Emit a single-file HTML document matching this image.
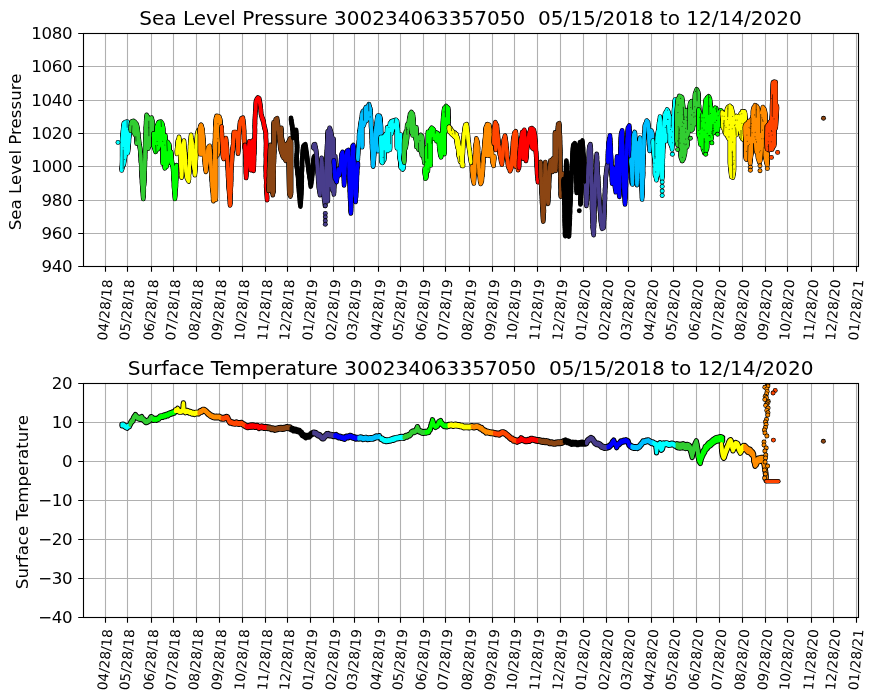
<!DOCTYPE html>
<html lang="en"><head><meta charset="utf-8"><title>Buoy 300234063357050</title>
<style>
html,body{margin:0;padding:0;background:#fff;}
body{width:875px;height:700px;overflow:hidden;}
svg{will-change:transform;}
svg text{font-family:"DejaVu Sans","Liberation Sans",sans-serif;fill:#000;}
.xt{font-size:13.6px;}
.yt{font-size:16.67px;letter-spacing:-0.3px;}
.yl{font-size:16.67px;}
.tt{font-size:20.05px;}
</style></head><body>
<svg width="875" height="700" viewBox="0 0 875 700" style="display:block">
<rect width="875" height="700" fill="#fff"/>
<defs><clipPath id="c1"><rect x="83.50" y="33.50" width="775.00" height="233.00"/></clipPath><clipPath id="c2"><rect x="83.50" y="383.50" width="775.00" height="234.00"/></clipPath></defs>
<path d="M105.5 33.5V266.5M127.5 33.5V266.5M151.5 33.5V266.5M173.5 33.5V266.5M196.5 33.5V266.5M219.5 33.5V266.5M242.5 33.5V266.5M265.5 33.5V266.5M287.5 33.5V266.5M310.5 33.5V266.5M333.5 33.5V266.5M354.5 33.5V266.5M378.5 33.5V266.5M400.5 33.5V266.5M423.5 33.5V266.5M445.5 33.5V266.5M469.5 33.5V266.5M492.5 33.5V266.5M514.5 33.5V266.5M537.5 33.5V266.5M560.5 33.5V266.5M583.5 33.5V266.5M606.5 33.5V266.5M628.5 33.5V266.5M651.5 33.5V266.5M673.5 33.5V266.5M696.5 33.5V266.5M719.5 33.5V266.5M742.5 33.5V266.5M765.5 33.5V266.5M787.5 33.5V266.5M811.5 33.5V266.5M833.5 33.5V266.5M856.5 33.5V266.5M83.5 33.5H858.5M83.5 66.5H858.5M83.5 100.5H858.5M83.5 133.5H858.5M83.5 166.5H858.5M83.5 200.5H858.5M83.5 233.5H858.5M83.5 266.5H858.5" stroke="#b0b0b0" stroke-width="1.11" fill="none"/>
<g clip-path="url(#c1)" fill="none" stroke-linejoin="round" stroke-linecap="round" shape-rendering="auto">
<defs><polyline id="p1" points="121.6,169.6 121.7,168.1 122.1,166.3 122.1,164.9 122.3,163.1 122.2,161.8 122.5,161.1 122.3,158.7 122.4,158.4 122.7,155.5 122.9,156.0 122.8,154.0 122.7,151.5 122.9,150.2 122.9,149.2 122.9,148.3 123.1,147.8 123.2,146.0 123.3,144.7 123.3,142.6 123.4,141.7 123.7,141.4 123.8,139.5 123.7,137.2 123.8,135.5 124.0,134.9 124.2,133.5 124.3,133.1 124.0,130.5 124.5,129.7 124.6,128.2 124.4,127.4 124.8,125.3 124.6,124.1 124.9,123.1 127.3,122.4 127.5,124.3 127.2,124.7 127.3,125.7 127.6,127.3 127.6,129.2 127.5,131.2 127.5,132.4 127.5,133.3 127.6,134.4 128.0,136.8 127.8,138.4 127.8,138.7 128.1,140.6 128.0,141.7 127.8,144.0 127.8,143.9 127.9,145.4 127.7,146.2 127.6,148.6 127.6,150.0 127.6,151.0 127.6,152.4 127.9,151.0 127.9,150.4 127.9,147.6 128.3,147.6 128.2,144.9 128.5,145.1 128.5,143.7 128.9,141.6 128.8,139.3 128.8,139.6 129.0,137.7 129.2,136.6 129.4,134.6 129.6,132.7 129.6,132.2 129.7,129.7 130.1,129.6 130.3,127.0 130.6,125.4 130.6,124.6"/><polyline id="p2" points="122.2,141.4 122.2,168.2 122.3,167.7 122.3,138.6 123.7,124.3 123.7,164.2 125.1,155.6 125.1,124.0 126.6,124.0 126.6,151.3 128.0,150.6 128.0,124.0 128.0,129.3 128.0,149.9"/></defs><defs><polyline id="p3" points="131.6,122.4 133.4,121.7 134.4,122.3 135.9,123.9 136.5,124.8 137.3,127.4 137.3,128.6 137.7,129.5 137.8,132.5 138.2,133.5 138.3,134.7 138.2,135.1 138.3,138.2 138.7,138.9 139.0,141.2 138.9,142.0 139.3,143.6 139.5,145.6 139.6,146.1 140.0,148.2 140.1,148.9 140.3,150.6 140.4,152.3 140.4,153.1 140.7,154.8 140.6,155.9 140.8,156.8 140.8,157.7 140.9,159.5 140.8,160.8 141.2,162.6 141.1,163.1 141.3,164.2 141.4,165.9 141.3,167.8 141.2,168.9 141.3,169.9 141.5,170.5 141.7,172.4 141.7,174.5 141.6,174.0 141.7,176.7 141.7,177.0 142.1,179.3 142.0,180.3 142.1,182.4 142.1,183.4 142.2,184.3 142.5,186.6 142.6,186.9 142.6,188.2 142.5,189.9 142.9,192.0 143.0,193.5 142.9,193.4 143.1,194.9 143.1,196.6 143.3,198.1 143.4,196.7 143.4,196.1 143.7,193.9 143.4,191.7 143.8,190.3 143.8,190.0 143.7,189.1 143.7,186.4 144.0,184.8 144.2,183.8 144.0,182.0 144.3,181.5 144.3,180.5 144.5,179.7 144.4,177.4 144.5,175.5 144.5,174.1 144.3,173.3 144.7,171.3 144.5,170.3 144.7,169.3 144.7,168.4 144.7,167.1 144.9,164.4 144.9,164.3 144.7,162.4 144.9,161.9 144.8,159.9 145.1,159.0 145.1,156.9 145.0,155.1 145.1,154.9 145.1,153.4 145.0,152.4 145.3,151.2 145.1,148.9 145.2,148.1 145.2,147.0 145.4,144.5 145.2,143.4 145.4,142.7 145.4,139.9 145.6,138.6 145.6,137.5 145.5,137.4 145.4,134.8 145.6,134.6 145.8,133.2 145.9,131.4 145.9,129.3 145.7,128.8 145.9,127.4 145.9,126.6 146.1,124.9 146.2,123.6 146.1,122.0 146.4,121.7 146.2,120.3 146.6,118.4 146.5,116.4 146.6,115.7 146.8,117.2 147.1,117.7 147.4,120.2 147.4,122.3 147.7,123.1 147.8,124.5 147.9,125.0 147.8,127.0 148.1,129.4 147.8,129.8 147.8,131.1 148.1,133.4 148.0,133.6 147.9,135.5 148.3,135.9 148.3,137.0 148.1,138.8 148.3,140.3 148.2,142.3 148.2,143.8 148.2,144.8 148.3,145.5 148.4,147.4 148.5,146.0 148.5,144.6 148.7,142.8 148.6,142.5 148.9,140.9 149.1,139.8 149.2,137.7 149.2,137.6 149.3,135.3 149.2,135.2 149.2,134.0 149.4,131.7 149.7,129.6 149.5,129.3 149.7,126.6 150.0,125.8 150.1,123.8 150.1,123.5 150.0,121.1 150.4,121.1 150.4,118.9 151.6,118.6 151.9,119.3 151.9,122.0 152.1,123.4 152.1,123.6 152.2,125.0 152.6,127.4 152.7,128.9 152.7,129.6 152.7,131.1 153.0,134.1 153.1,133.8 152.8,136.9 153.1,138.0 153.1,138.9"/><polyline id="p4" points="130.8,126.4 130.8,129.9 130.9,128.4 130.9,124.3 133.0,123.3 133.0,129.9 135.1,134.2 135.1,125.0 136.6,126.1 136.6,139.9 136.6,142.7 136.6,129.3"/><polyline id="p5" points="148.0,117.6 148.0,147.9 148.0,145.1 148.0,119.1 149.4,129.8 149.4,145.1 150.4,143.7 150.4,120.5 151.6,120.5 151.6,137.9 152.6,136.5 152.6,121.9 152.0,126.9 152.0,136.5"/></defs><defs><polyline id="p6" points="153.4,134.6 153.5,135.9 153.7,137.3 153.8,137.9 154.0,141.0 153.9,141.6 154.2,143.0 154.1,143.9 154.3,145.0 154.4,147.4 155.2,149.8 155.6,151.0 155.8,150.4 155.9,148.2 156.0,147.0 156.3,146.3 156.2,145.2 156.5,143.6 156.6,141.7 156.8,140.2 156.9,139.9 156.8,138.4 156.9,136.3 157.0,134.4 156.9,133.9 156.8,132.3 157.1,131.6 157.0,130.9 157.3,128.4 157.3,127.4 157.8,126.0 158.3,124.2 158.7,122.9 160.9,122.4 162.3,124.6 162.6,126.3 162.7,128.0 163.0,127.9 163.0,130.8 163.0,131.5 163.1,132.5 163.4,134.6 163.4,135.1 163.5,138.0 163.6,138.5 163.9,139.9 164.0,141.3 163.9,141.5 163.9,144.2 163.8,145.8 163.9,146.2 163.9,147.5 164.1,148.9 164.2,149.3 164.4,151.4 164.3,153.0 164.3,153.7 164.5,155.6 164.4,157.2 164.4,157.2 164.4,158.6 164.5,161.3 164.6,162.9 164.8,162.5 165.0,165.7 164.6,166.9 164.9,167.4 165.0,166.0 165.3,164.1 165.2,164.0 165.4,161.7 165.7,160.9 165.6,158.1 165.8,157.3 165.9,156.0 165.8,153.7 166.0,152.4 166.1,152.1 166.2,149.8 166.3,148.7 166.5,147.5 166.7,146.9 166.6,144.6 167.7,142.9 168.2,143.8 168.3,146.6 168.9,147.6 169.1,148.9 169.2,149.8 169.5,151.8 169.6,153.4 169.8,154.0 169.8,157.0 170.2,158.2 170.1,158.9 170.2,156.6 170.6,155.9 170.9,153.8 171.1,153.1 171.3,153.7 171.2,156.4 171.5,157.7 171.6,158.8 171.6,160.0 172.0,162.4 172.0,163.1 172.2,163.8 172.8,166.2 173.0,167.4 173.2,168.2 173.1,169.6 173.4,171.1 173.4,173.7 173.3,174.1 173.6,176.2 173.5,176.4 173.5,178.7 173.5,178.5 173.8,180.6 173.9,181.5 174.0,182.4 174.0,184.6 174.0,186.3 174.0,186.9 174.3,189.0 174.3,189.3 174.4,191.8 174.5,191.9 174.7,194.2 174.9,196.3 174.9,196.7 174.9,198.1 175.1,196.4 175.0,195.2 175.3,194.9 175.2,192.4 175.3,191.1 175.4,189.8 175.4,188.8 175.8,187.4 175.9,186.1 175.9,184.6 175.8,183.8 176.1,181.5 175.8,180.6 176.1,179.4 176.3,178.2 176.3,175.7 176.2,175.9 176.1,173.1 176.4,173.4 176.2,171.6 176.3,170.5 176.5,168.1 176.4,167.9 176.6,166.0"/><polyline id="p7" points="153.7,135.7 153.7,137.0 153.7,145.6 153.7,134.3 155.1,134.3 155.1,149.2 156.6,149.2 156.6,127.8 158.0,124.3 158.0,148.4 160.1,142.7 160.1,123.8 162.0,124.3 162.0,141.3 163.0,144.2 163.0,127.8 162.6,135.7 162.6,162.7"/><polyline id="p8" points="165.4,136.2 165.4,162.2 165.1,165.8 165.1,145.5 166.6,144.8 166.6,165.8 168.0,157.9 168.0,144.5 169.4,145.5 169.4,156.5 170.9,159.4 170.9,152.6 170.9,154.1 170.9,162.2"/></defs><defs><polyline id="p9" points="176.9,153.1 177.0,152.2 177.0,150.0 177.4,149.2 177.3,147.5 177.5,146.4 177.7,144.4 177.7,143.5 177.7,141.7 178.3,141.0 178.7,139.8 179.0,137.7 179.3,139.4 179.3,140.9 179.5,141.7 179.5,142.6 179.8,145.7 179.8,145.4 179.9,147.3 180.1,148.9 180.1,151.1 180.1,151.1 180.2,153.0 180.5,153.4 180.3,155.3 180.6,157.5 180.4,157.2 180.5,158.7 180.6,161.0 180.8,161.3 180.9,163.1 180.8,164.1 180.9,166.4 181.0,167.3 181.3,168.5 181.1,170.7 181.5,171.0 181.4,173.6 181.4,173.4 181.3,176.3 181.6,176.7 181.8,175.1 181.7,174.0 181.7,173.6 181.9,170.8 181.7,169.9 181.9,169.2 182.2,167.4 182.0,165.2 182.1,164.0 182.3,163.1 182.5,161.9 182.5,161.5 182.4,159.3 182.4,158.4 182.4,157.2 182.8,155.9 182.5,153.5 182.8,151.8 182.8,151.2 183.0,150.1 183.0,148.2 183.1,147.2 183.0,146.0 183.5,143.7 183.8,142.4 184.0,141.4 184.1,142.8 184.1,144.7 184.2,145.0 184.2,146.3 184.5,148.5 184.6,149.8 184.6,150.5 184.8,153.0 185.1,153.7 184.8,154.4 185.1,156.0 185.3,156.8 185.3,158.5 185.1,160.9 185.5,160.6 185.5,162.1 185.5,163.9 185.5,164.8 185.6,166.7 185.6,167.1 185.9,168.6 185.9,170.3 186.2,171.8 186.3,172.8 186.6,173.8 186.5,175.2 186.9,177.4 187.9,179.4 188.7,180.6 188.7,179.1 189.0,178.1 188.7,176.1 188.8,174.5 189.0,173.1 189.3,172.5 189.2,171.6 189.3,170.6 189.3,168.3 189.3,166.4 189.4,166.0 189.4,165.1 189.7,163.9 189.6,162.2 189.4,160.3 189.6,159.6 189.6,157.8 189.8,157.2 189.9,155.6 189.7,154.5 190.1,152.8 189.9,151.3 189.9,150.4 190.2,148.7 190.2,148.0 190.1,146.0 190.2,145.4 190.5,142.5 190.4,141.1 190.7,140.5 190.8,139.5 190.9,137.1 191.1,135.7 191.2,138.1 191.3,139.5 191.7,140.2 191.8,141.1 192.1,144.0 192.2,144.7 192.3,146.0 192.2,147.9 192.3,149.4 192.4,150.0 192.7,150.6 192.6,151.6 192.5,153.2 192.9,156.0 192.9,156.0 192.9,158.2 192.9,159.2 193.0,160.3 193.3,160.7 193.3,163.0 193.4,164.3 193.8,165.2 193.9,166.8 194.1,168.3 194.4,169.2 194.6,170.8 194.9,173.1 194.9,174.3 194.9,172.7 195.1,171.9 195.2,170.6 195.2,169.7 195.4,168.0 195.3,165.8 195.5,165.3 195.6,163.1 195.6,162.5 195.7,160.3 195.7,158.1 195.9,158.5 195.9,156.6 196.0,154.7 196.0,152.9 195.8,152.3 196.0,150.9 195.9,150.2 196.2,148.0 196.1,147.0 196.1,145.0 196.3,144.6 196.6,144.1 196.6,142.4 196.7,140.9 196.7,139.4 197.0,138.2 197.0,136.6 197.3,134.6 197.6,132.9 198.3,131.0"/></defs><defs><polyline id="p10" points="199.4,131.7 200.0,129.2 200.2,128.2 200.6,126.2 201.1,125.6 201.8,127.8 202.1,128.4 202.6,130.3 202.7,130.8 202.6,133.9 202.8,134.6 203.2,137.0 203.1,136.8 203.1,139.7 203.5,139.7 203.4,141.7 203.6,142.9 203.5,143.9 203.8,147.0 203.6,147.7 203.6,149.6 203.6,149.5 204.0,151.3 204.1,153.9 204.0,154.6 204.2,155.3 204.4,158.3 204.4,158.0 204.5,159.9 204.8,161.1 204.9,163.1 204.9,163.9 205.3,166.3 205.3,167.4 205.7,168.6 205.6,169.3 205.9,171.0 206.2,170.0 206.1,168.6 206.2,167.9 206.5,165.7 206.8,163.4 207.0,162.5 207.0,162.2 207.3,160.3 207.2,158.4 207.6,156.9 207.5,156.1 207.5,155.4 207.9,152.2 207.8,152.2 207.9,151.1 208.0,148.9 208.9,147.1 209.7,146.7 209.8,148.4 209.8,149.8 210.1,150.9 210.1,152.9 210.3,153.6 210.5,154.3 210.5,155.6 210.5,157.1 210.5,159.6 210.8,161.0 210.7,161.8 210.9,163.1 210.8,164.6 211.0,164.9 211.1,167.6 211.2,169.2 211.1,169.1 211.2,171.1 211.4,172.3 211.4,174.4 211.4,175.9 211.7,176.5 211.9,177.2 211.7,178.7 211.7,180.0 212.0,181.7 212.2,183.1 212.1,184.5 212.1,186.3 212.3,186.5 212.4,188.7 212.7,190.2 212.5,190.8 212.8,191.8 213.1,192.7 213.0,195.5 213.3,195.6 213.2,198.1 213.1,198.4 213.4,200.3 213.6,198.2 213.5,197.2 213.6,195.4 213.5,195.9 213.8,194.0 213.7,191.7 213.9,190.4 213.9,190.4 213.9,187.9 214.2,187.1 213.9,185.3 214.2,183.3 214.1,183.2 214.4,181.6 214.5,180.0 214.3,179.5 214.4,177.4 214.4,176.6 214.4,174.4 214.4,173.4 214.4,171.4 214.4,170.6 214.5,169.2 214.8,168.3 214.7,166.0 214.6,164.3 214.7,163.5 214.6,161.5 214.5,160.6 214.7,160.6 214.8,157.9 214.7,156.3 214.9,155.4 214.9,154.7 215.0,152.0 214.7,151.3 214.7,151.0 214.9,148.9 214.8,148.1 214.9,145.3 214.9,144.3 214.8,142.8 215.1,141.2 215.0,140.7 215.1,138.8 215.2,137.7 215.3,137.1 215.1,134.9 215.2,134.6 215.2,132.6 215.5,130.9 215.3,129.8 215.3,127.8 215.4,127.4 215.4,126.4 215.7,125.4 216.0,123.0 216.1,122.9 216.0,121.1 216.4,120.3 216.6,117.5 216.6,116.7 218.7,117.1 219.5,117.9 220.1,120.3 220.2,121.4 220.1,122.6 220.3,124.2 220.4,124.8 220.6,126.7 220.6,128.4 220.7,128.6 220.8,130.5 220.8,132.1 221.1,133.4 221.1,134.6"/><polyline id="p11" points="200.1,139.3 200.1,152.7 200.1,153.4 200.1,127.8 201.6,126.7 201.6,153.4 201.6,152.7 201.6,129.3"/><polyline id="p12" points="215.8,120.3 215.8,198.9 215.9,186.0 215.9,118.8 217.3,118.8 217.3,154.6 218.7,150.3 218.7,119.6 220.1,120.3 220.1,148.9 220.2,147.4 220.2,121.7"/></defs><defs><polyline id="p13" points="221.6,127.4 221.7,127.8 221.7,129.8 221.6,131.1 221.7,132.6 221.9,133.9 221.9,134.7 221.8,136.2 222.2,137.9 222.1,139.5 222.1,140.4 222.3,141.7 222.4,143.9 222.4,144.5 222.7,146.2 222.6,147.2 222.6,148.0 222.6,150.2 222.9,150.6 223.0,151.2 222.7,153.4 222.9,154.4 223.0,156.0 223.7,158.1 224.1,156.1 223.9,154.9 224.3,153.6 224.2,152.9 224.5,151.0 224.7,150.5 224.9,148.9 225.0,147.7 225.2,146.7 225.5,144.2 225.4,143.9 225.5,142.1 225.8,140.7 225.9,138.9 226.2,140.9 226.0,142.0 226.3,143.3 226.4,144.1 226.7,146.1 226.6,146.9 226.9,148.9 226.9,149.5 227.0,150.7 226.9,152.0 227.0,154.5 227.0,155.4 227.4,156.7 227.2,158.8 227.5,158.5 227.4,160.7 227.6,161.8 227.7,162.9 227.7,164.3 227.7,166.0 227.7,167.9 228.0,169.3 227.9,169.8 228.1,171.6 228.2,173.3 228.0,173.8 228.2,174.8 228.1,175.7 228.3,178.9 228.6,178.6 228.5,180.5 228.6,181.8 228.8,184.3 228.5,185.1 228.7,186.0 228.7,186.4 228.8,189.1 229.2,189.2 229.1,190.4 229.2,192.6 229.3,193.6 229.5,196.0 229.4,196.4 229.7,198.5 229.9,199.0 229.9,200.7 230.1,201.2 229.9,202.5 230.1,204.6 230.4,202.7 230.2,201.2 230.2,199.6 230.4,198.6 230.4,197.5 230.3,196.6 230.4,194.8 230.4,193.1 230.8,192.3 230.5,190.7 230.7,191.0 230.6,189.4 230.8,187.2 230.9,186.0 231.0,184.4 230.8,183.4 231.0,182.2 230.9,181.5 231.2,180.3 231.1,178.6 231.2,175.9 231.0,174.6 231.1,173.0 231.2,173.1 231.2,171.2 231.2,169.3 231.6,167.5 231.5,167.8 231.6,166.3 231.5,165.1 231.6,163.1 231.8,162.4 231.9,159.7 232.0,159.1 232.0,157.4 232.2,155.7 232.1,154.8 232.2,153.8 232.4,153.4 232.3,151.7 232.4,149.7 232.6,148.9"/><polyline id="p14" points="232.9,150.0 233.1,148.3 232.8,147.0 233.2,145.5 233.3,144.8 233.3,142.8 233.2,141.4 233.3,140.6 233.3,139.5 233.5,137.8 233.6,137.7 233.6,136.3 233.7,134.7 233.9,132.9 235.7,132.9 236.3,135.3 237.1,135.7 237.2,138.0 237.2,138.2 237.5,139.0 237.4,141.3 237.7,142.0 237.5,143.3 237.9,144.2 237.8,146.0 237.9,147.0 238.0,149.7 238.1,150.5 238.1,151.7 238.1,152.9 238.0,152.2 238.3,150.1 238.4,148.7 238.3,147.0 238.5,146.3 238.5,143.9 238.6,143.4 238.6,142.4 238.8,140.2 238.7,140.5 238.9,137.8 238.9,137.8 238.8,136.3 238.8,135.2 239.0,132.9 239.1,130.9 239.4,130.3 239.6,129.2 239.7,127.2 239.9,124.8 240.0,124.7 240.0,122.9 240.6,121.7 241.4,119.3 242.9,118.6 243.0,120.1 243.3,120.8 243.3,123.1 243.4,124.4 243.8,125.7 243.9,127.1 243.8,129.1 244.1,130.4 244.0,132.0 244.2,131.8 244.0,133.0 244.0,134.8 244.3,137.1 244.1,137.2 244.2,139.8 244.4,141.3 244.2,142.8 244.3,143.4 244.6,144.9 244.4,146.1 244.6,147.1"/></defs><defs><polyline id="p15" points="245.0,145.7 245.0,146.1 245.1,148.0 245.2,149.2 245.3,151.3 245.2,151.5 245.4,153.5 245.3,154.1 245.7,156.4 245.5,156.9 245.8,159.2 245.7,159.8 245.7,161.4 245.7,162.6 245.6,164.3 245.8,166.0 245.8,166.6 245.9,168.9 245.9,169.7 245.9,170.8 245.9,172.7 246.0,173.9 246.1,174.4 246.3,175.6 246.1,177.1 246.3,176.0 246.3,173.7 246.4,172.8 246.5,172.8 246.5,171.0 246.7,168.8 246.7,167.2 247.0,166.2 246.9,165.0 247.1,164.7 247.1,162.8 247.1,161.4 247.1,160.8 247.2,158.3 247.5,157.6 247.7,155.4 247.9,155.2 247.7,153.1 248.0,151.2 248.1,150.0 248.3,148.3 248.6,147.6 248.9,147.0 249.1,144.6 249.2,143.8 249.3,142.1 249.4,144.5 249.3,144.8 249.5,146.5 249.5,148.5 249.6,148.6 249.6,150.0 249.9,150.8 249.8,153.2 250.0,154.3 250.1,156.1 250.0,157.6 250.3,158.9 250.1,159.7 250.1,161.8 250.6,163.3 250.3,163.5 250.5,165.3 250.4,167.1 250.6,167.9 250.7,169.3 250.7,168.1 250.8,165.7 251.0,164.8 251.2,163.3 251.2,161.6 251.2,161.0 251.5,159.7 251.7,157.6 251.8,156.3 251.9,155.7 251.9,154.3 251.9,153.1 252.2,152.4 252.1,149.0 252.0,149.2 252.3,147.6 252.2,145.8 252.2,143.5 252.4,143.8 252.6,141.4 252.7,143.6 252.5,144.1 252.6,145.2 252.7,148.0 252.9,148.5 253.1,150.8 253.3,151.6 253.2,153.7 253.3,154.3 253.3,155.2 253.4,156.4 253.3,158.1 253.4,159.2 253.4,160.7 253.2,162.8 253.3,163.5 253.5,164.6 253.4,165.3 253.5,167.0 253.5,168.2 253.6,170.0 253.7,168.6 253.5,167.1 253.9,165.0 253.8,165.5 253.8,163.5 253.8,161.5 254.0,160.8 253.9,159.2 254.0,158.4 253.9,155.7 254.0,154.8 254.3,153.7 254.4,152.3 254.2,151.5 254.2,150.8 254.5,148.1 254.4,147.1 254.4,146.4 254.6,144.7 254.3,143.6 254.4,142.0 254.6,141.2 254.6,138.0 254.8,138.1 254.7,135.3 254.8,134.7 254.8,134.5 254.9,131.3 254.9,130.7 254.9,129.2 254.8,128.0 254.7,126.4 255.0,124.5 254.7,124.7 255.0,122.7 254.8,120.5 254.9,120.8 255.0,118.6 255.1,118.1 255.1,115.8 255.3,115.3 255.2,114.0 255.4,111.0 255.5,110.4 255.7,110.2 255.7,108.4 255.7,107.3 255.7,105.9 255.8,104.2 255.9,102.4 256.1,101.4 256.9,99.6 257.9,98.3 259.3,99.3 259.5,100.6 259.6,102.1 260.0,102.9 260.1,104.5 260.4,105.5 260.4,107.1 260.7,107.9 260.7,110.2 261.0,110.6 260.9,113.0 261.2,114.1 261.4,115.0 261.8,116.5 262.2,118.5 262.7,118.7 262.9,120.0 263.2,120.9 263.7,122.1 263.9,125.0 264.3,125.7 264.4,127.5 264.9,128.7 265.1,129.3 265.6,132.0 265.7,132.9 265.9,133.5 265.9,135.2 265.7,137.2 265.9,137.8 266.0,140.2 266.1,142.3 266.1,142.6 266.2,144.7 266.0,146.4 266.1,147.1 266.2,148.0 266.0,148.9 266.1,150.7 266.0,152.0 265.9,153.8 265.9,154.7 265.9,156.5 266.1,157.2 266.1,159.9 266.0,160.6 266.0,161.9 266.0,164.1 266.0,164.1 265.7,166.8 265.8,167.8 265.9,168.6 265.8,169.8 265.9,171.7 266.1,172.6 266.0,173.6 265.9,176.2 265.9,177.5 266.2,177.1 266.3,178.5 266.2,179.9 266.4,181.6 266.4,182.4 266.4,183.8 266.1,186.1 266.6,187.7 266.5,189.2 266.4,190.0 266.5,190.5 266.6,192.0 266.7,193.7 266.8,194.7 267.0,196.5 267.0,197.1 267.1,199.3"/></defs><defs><polyline id="p16" points="268.6,190.0 268.6,188.8 268.9,187.4 268.6,185.5 268.7,185.0 269.0,184.1 269.0,182.7 269.0,181.3 268.8,179.1 269.0,178.1 269.1,176.6 269.3,174.2 269.2,174.6 269.0,171.5 269.4,171.9 269.1,168.7 269.5,168.6 269.4,167.0 269.5,166.1 269.3,163.3 269.6,163.7 269.6,161.4 269.8,159.9 269.6,158.5 269.6,158.0 269.8,156.4 269.9,154.6 270.1,153.5 270.0,153.0 270.0,150.3 270.1,149.6 270.4,148.0 270.3,147.3 270.4,145.7 270.4,147.1 270.5,149.1 270.6,149.1 270.7,150.6 270.9,152.6 271.0,153.7 270.8,155.4 271.0,155.6 271.1,158.5 271.2,158.5 271.5,161.1 271.4,161.4 271.4,162.1 271.6,164.7 271.5,166.1 271.5,166.4 271.6,168.7 271.6,170.2 271.5,171.0 271.7,171.4 271.9,173.0 271.7,175.8 272.0,177.3 271.8,178.6 271.7,179.5 272.1,179.9 271.8,182.2 272.1,183.7 272.2,184.5 272.0,185.2 272.0,188.2 271.9,188.0 272.1,190.0 272.3,190.5 272.5,192.2 272.9,194.3 272.7,193.0 273.0,191.8 273.1,190.4 273.2,188.2 272.9,186.9 273.0,186.9 273.3,185.1 273.0,183.4 273.2,182.0 273.4,182.1 273.3,180.0 273.5,178.4 273.3,178.1 273.6,174.9 273.6,174.4 273.3,172.6 273.4,172.4 273.5,169.7 273.5,169.9 273.7,168.3 273.7,166.1 273.5,165.0 273.6,163.6 273.9,162.5 273.9,161.4 273.9,160.3 273.9,158.4 274.1,157.5 274.0,156.1 274.0,154.3 274.3,152.7 274.3,152.6 274.3,149.9 274.2,150.2 274.2,147.2 274.4,145.9 274.4,144.4 274.6,143.3 274.3,142.8 274.4,141.1 274.5,140.5 274.6,138.1 274.4,136.9 274.5,135.7 274.7,134.1 274.7,132.9 274.7,131.4 274.9,130.3 275.2,128.1 275.1,126.3 275.4,125.2 275.5,124.9 275.4,123.7 275.6,121.3 275.7,120.0 277.1,119.0 277.3,121.2 277.5,121.7 277.6,123.8 277.8,124.1 277.9,125.2 278.1,127.1 278.4,129.2 278.7,130.8 278.7,132.0 278.9,133.5 279.1,133.6 279.2,135.3 279.3,137.1 279.3,139.4 279.4,140.0 279.7,142.0 280.0,143.7 280.3,144.6 280.1,146.0 280.4,147.1 280.6,149.5 281.3,149.6 281.4,151.8 281.9,152.9 282.5,155.3 283.0,155.0 283.6,157.1 284.7,157.7 285.7,160.0 286.1,159.1 286.2,157.9 286.4,156.6 286.6,154.3 286.7,152.6 286.7,150.8 287.1,150.0 287.5,148.0 287.8,147.7 288.1,145.7 288.2,143.8 288.6,142.9 289.2,141.4 290.0,139.3 290.1,141.5 290.1,142.9 290.4,143.0 290.4,145.0 290.5,146.7 290.3,147.0 290.5,148.8 290.3,150.9 290.6,151.5 290.7,152.4 290.7,154.3 290.6,155.8 290.6,156.6 290.5,157.3 290.6,159.6 290.8,161.1 290.5,162.0 290.4,163.4 290.7,164.0 290.5,166.4 290.6,167.5 290.5,169.6 290.4,170.0 290.6,170.9 290.4,173.9 290.4,173.7 290.5,174.8 290.3,177.2 290.3,179.0 290.5,179.6 290.4,181.4 290.5,183.2 290.5,184.2 290.4,184.9 290.4,188.1 290.6,187.7 290.3,189.5 290.5,191.3 290.3,192.7 290.5,194.8 290.4,195.7"/><polyline id="p17" points="270.7,149.6 270.7,187.6 270.7,189.0 270.7,148.1 272.1,148.1 272.1,191.2 273.6,191.2 273.6,125.3 273.6,123.1 273.6,190.4"/><polyline id="p18" points="281.4,128.6 281.4,145.7 281.4,150.0 281.4,137.1 282.9,142.8 282.9,152.9 284.3,155.7 284.3,145.0 285.7,145.7 285.7,157.2 287.1,157.9 287.1,145.0 288.6,142.8 288.6,159.3 289.3,193.6 289.3,141.4 291.0,141.4 291.0,193.6 290.2,158.6 290.2,142.8"/></defs><defs><polyline id="p19" points="291.0,118.6 291.2,120.3 291.5,121.7 291.5,123.3 291.8,123.4 292.1,125.7 292.3,126.2 292.3,128.4 292.6,129.2 292.9,132.1 292.9,133.0 292.9,135.3 293.0,135.3 293.3,137.1 293.7,136.4 294.4,134.1 295.0,132.9 296.1,130.7 296.2,132.9 296.2,134.0 296.5,134.7 296.4,136.1 296.5,137.2 296.7,138.8 296.6,140.8 296.8,141.6 297.0,142.9 296.9,145.2 297.3,146.3 297.1,147.1 297.0,148.8 297.1,149.3 297.0,151.9 296.9,152.7 296.8,153.9 296.6,155.5 296.7,157.2 296.6,158.0 296.4,158.7 296.6,159.6 296.4,161.4 296.6,162.2 296.6,165.0 296.7,166.2 296.8,166.8 297.2,168.6 297.2,169.4 297.4,171.0 297.6,172.0 297.5,173.5 297.8,174.5 297.9,175.7 298.2,176.3 298.2,178.0 298.3,180.5 298.2,181.0 298.4,182.2 298.3,183.8 298.7,185.1 298.6,186.7 298.8,186.7 298.9,188.6 299.0,190.0 299.1,192.3 299.3,193.5 299.3,194.4 299.3,194.8 299.7,196.9 299.8,197.6 299.7,198.9 300.0,199.5 300.0,202.1 300.0,202.7 300.5,205.3 300.4,205.7 300.4,203.8 300.4,202.3 300.8,202.3 300.7,200.5 300.9,198.2 301.1,198.6 300.9,197.0 301.2,194.9 301.3,193.4 301.3,192.2 301.3,191.9 301.4,190.0 301.5,188.9 301.7,186.7 301.4,186.2 301.4,185.5 301.5,183.1 301.6,182.5 301.8,180.8 301.6,178.8 301.8,177.2 301.9,177.1 301.7,174.8 301.7,174.1 301.7,172.7 301.7,171.6 302.0,169.8 301.8,167.3 301.9,167.8 302.1,166.2 301.9,163.4 301.9,163.2 302.1,161.4 302.1,159.7 302.4,159.2 302.4,157.5 302.5,156.4 302.6,154.7 302.7,153.2 302.8,151.4 302.9,151.2 303.0,149.0 303.3,148.4 303.3,147.1 304.3,145.7 305.3,145.0 305.6,146.8 305.7,148.0 306.0,149.0 306.1,150.1 306.3,151.6 306.5,153.0 306.7,154.3 307.0,156.5 306.9,156.2 307.1,157.6 307.5,160.2 307.4,160.8 307.8,163.5 307.9,164.3 308.1,166.1 308.3,167.1 308.4,168.7 308.7,171.0 308.9,172.1 308.8,172.4 309.3,174.4 309.3,175.7 309.5,176.8 309.8,178.6 310.1,179.2 310.3,180.5 310.2,182.6 310.6,183.5 310.7,185.7 310.9,185.2 311.1,183.4 311.4,181.6 311.4,179.9 311.9,178.9 311.8,177.0 312.1,175.7 312.3,174.1 312.4,173.4 312.3,171.3 312.6,169.9 312.5,169.7 312.7,168.8 312.9,165.8 313.0,164.8 313.2,164.5 313.3,161.8 313.3,161.4 313.4,160.6 313.8,158.0 314.3,157.1"/></defs><defs><polyline id="p20" points="313.3,147.1 314.0,145.4 315.0,145.0 315.2,147.2 315.3,147.2 315.7,148.3 315.9,150.5 316.2,150.7 316.2,152.7 316.4,154.3 316.7,155.1 316.7,156.3 316.7,159.2 316.7,159.1 317.1,161.2 316.8,161.5 317.0,163.0 317.3,165.2 317.5,166.4 317.4,167.1 317.6,168.7 317.6,170.0 317.5,171.4 317.7,172.9 317.7,173.3 318.2,175.5 318.1,176.4 318.3,179.4 318.2,180.0 318.5,182.0 318.6,182.9 318.8,183.8 318.8,186.2 318.9,187.9 319.1,188.0 319.5,190.7 319.7,191.9 319.9,193.3 320.0,194.3 319.9,193.6 320.0,191.0 320.0,189.4 320.4,188.7 320.2,186.7 320.6,186.5 320.7,184.1 320.4,183.2 320.5,181.6 320.6,181.3 320.7,179.0 320.9,178.1 320.8,177.2 321.0,175.7 321.0,174.2 321.1,172.2 321.2,171.1 321.1,169.5 321.4,169.3 321.2,167.9 321.5,165.7 321.3,165.6 321.3,164.3 321.6,161.6 321.4,160.8 321.6,160.5 321.6,158.6 321.7,160.7 321.6,161.0 322.0,163.1 321.8,164.8 322.1,165.9 322.0,166.7 322.4,168.6 322.3,169.9 322.6,171.1 322.5,172.7 322.4,172.9 322.7,173.7 322.7,175.7 322.9,176.2 322.9,177.9 322.9,179.9 322.9,180.9 323.2,183.4 323.1,183.4 323.3,184.4 323.5,185.8 323.4,187.4 323.3,188.0 323.4,190.0 323.5,192.7 323.8,192.2 323.9,193.8 323.9,195.7 324.0,197.5 324.3,199.2 324.3,199.3 324.5,200.6 324.8,202.3 324.9,203.0 325.0,205.0 325.2,204.6 325.0,202.6 325.0,200.2 325.2,199.2 325.3,198.6 325.4,198.1 325.2,195.1 325.2,194.5 325.6,193.6 325.5,192.7 325.5,189.9 325.7,188.4 325.5,187.1 325.6,185.9 325.8,184.7 325.8,184.8 325.9,182.9 325.8,180.7 326.0,180.6 326.1,178.9 326.1,178.1 326.1,177.0 326.0,175.2 326.2,173.3 326.0,171.9 326.1,170.8 326.3,169.3 326.1,167.2 326.4,166.9 326.6,165.8 326.3,163.7 326.5,163.1 326.5,161.9 326.5,159.5 326.6,158.1 326.8,156.1 326.6,154.8 326.7,154.3 326.9,152.3 326.7,151.5 327.0,150.8 327.0,148.6 327.1,148.4 327.1,145.3 327.4,145.0 327.2,142.9 327.6,142.8 327.4,141.4 327.5,139.6 327.7,137.5 327.9,136.7 327.9,135.7 328.1,134.8 328.4,131.9 328.9,131.4 329.4,130.6 329.6,128.6 329.9,129.1 330.6,131.4 331.0,132.9 331.0,135.0 331.0,135.7 331.1,137.6 331.5,138.3 331.3,139.8 331.6,141.2 331.4,142.0 331.5,143.3 331.9,145.3 331.7,145.9 331.9,147.1 331.9,147.8 332.1,150.3 332.1,150.9 332.3,152.8 332.3,152.9 332.2,154.3 332.6,156.2 332.6,157.3 332.6,158.2 333.0,160.3 332.9,161.4 332.8,163.2 333.0,164.3 333.1,165.6 333.2,167.7 333.1,168.4 333.1,169.2 333.1,171.1 333.2,171.8 333.4,174.0 333.4,175.4 333.3,176.4 333.3,177.1 333.3,179.4 333.7,179.7 333.6,181.4 333.6,182.0 333.5,184.4 333.8,184.6 333.6,187.3 333.6,188.9 333.7,189.5 333.7,190.5 333.8,191.8 333.9,193.6 334.0,191.3 334.0,191.4 334.0,188.8 334.0,187.2 334.3,186.9 334.1,185.2 334.4,183.6 334.2,182.4 334.4,182.2 334.5,180.7 334.7,178.6 334.5,177.7 334.7,175.7 334.6,174.5 334.6,172.2 334.8,171.0 335.1,170.6 335.1,170.0 335.1,168.0 335.0,167.0 335.1,164.4 335.1,163.6 335.1,162.9 335.2,161.3 335.3,160.4 335.1,157.8 335.3,157.1"/><polyline id="p21" points="327.8,139.6 327.8,200.4 327.6,186.2 327.6,132.4 329.3,131.7 329.3,184.7 330.7,183.3 330.7,132.4 332.1,138.1 332.1,189.0 333.6,190.4 333.6,139.6 333.6,156.7 333.6,189.7"/></defs><defs><polyline id="p22" points="333.9,161.1 333.8,161.8 334.3,163.5 334.1,165.2 334.3,166.2 334.4,167.7 334.5,170.0 334.3,170.9 334.4,173.0 334.5,173.1 334.8,175.1 334.8,176.2 334.9,177.7 335.7,178.8 336.6,181.1 336.8,179.2 337.1,177.5 337.1,176.3 337.4,175.6 337.4,175.0 338.0,172.3 337.9,171.8 338.3,169.7 338.9,170.6 339.2,173.4 339.4,174.3 339.9,172.3 339.8,170.8 340.2,170.8 340.6,168.6 340.8,167.1 340.6,165.5 340.7,164.8 341.0,163.6 341.0,161.6 341.1,160.1 341.2,159.3 341.4,157.3 341.4,155.5 341.5,154.9 342.6,152.8 342.6,154.0 342.8,154.7 342.8,157.0 343.3,159.2 343.0,159.6 343.3,161.0 343.4,162.9 343.3,164.4 343.6,165.3 343.4,166.1 343.4,168.8 343.5,170.1 343.8,170.2 343.6,172.0 343.8,174.2 343.7,175.0 343.7,176.4 343.9,177.3 344.0,180.0 343.9,181.4 344.1,181.2 344.2,182.6 344.0,184.6 344.2,182.5 344.1,181.8 344.4,180.9 344.2,180.0 344.5,177.9 344.3,176.1 344.5,175.1 344.8,174.1 344.8,171.7 344.7,171.7 344.8,169.4 344.9,168.6 344.8,166.2 345.1,165.8 345.2,164.4 345.2,161.9 345.5,161.1 345.5,159.8 345.5,157.7 345.7,157.1 346.5,155.4 346.7,153.7 347.0,151.8 347.4,151.4 348.3,150.9 348.4,151.3 348.6,153.3 348.5,155.0 348.4,155.5 348.8,157.8 348.7,158.7 348.9,160.4 349.0,162.4 349.1,163.6 349.0,164.4 349.0,166.0 349.1,167.8 349.1,168.6 349.3,169.0 349.3,171.5 349.3,173.4 349.2,173.9 349.3,176.2 349.3,176.8 349.3,178.5 349.5,179.8 349.5,181.4 349.4,181.5 349.8,184.1 349.8,184.3 349.6,186.5 349.9,186.5 350.0,188.8 349.7,190.0 349.9,191.4 349.9,192.0 350.2,194.9 350.0,195.3 350.1,197.1 350.1,197.7 350.2,199.3 350.3,200.9 350.6,202.9 350.6,204.0 350.4,204.1 350.6,206.3 350.7,207.0 350.9,208.2 350.6,209.1 350.7,211.7 350.9,212.6 351.0,210.3 350.8,209.4 351.1,209.3 350.9,206.4 351.2,206.8 351.1,204.5 351.2,203.7 351.1,201.4 351.2,200.8 351.1,199.4 351.1,198.7 351.2,195.9 351.5,196.0 351.5,194.5 351.5,193.1 351.4,190.2 351.5,190.4 351.6,187.5 351.3,187.5 351.5,185.7 351.6,185.2 351.8,182.9 351.7,182.0 351.7,180.1 351.7,178.1 351.9,178.1 351.9,176.2 351.6,174.9 351.9,173.7 351.7,171.3 351.8,170.4 351.8,169.0 351.9,168.6 352.1,167.2 351.8,166.3 352.0,164.7 352.0,162.9 352.1,161.2 352.0,159.3 352.2,158.0 352.3,158.3 352.3,156.4 352.4,155.8 352.5,154.5 352.4,151.2 352.5,151.1 352.6,149.7 352.5,147.2 352.6,146.9 353.4,145.9 353.6,147.5 353.7,148.7 353.7,150.4 353.8,151.1 353.8,152.2 353.5,153.4 353.7,156.0 353.8,155.9 353.9,156.8 353.8,158.7 353.8,160.5 354.0,162.2 354.1,162.9 354.0,165.2 354.0,165.6 354.1,165.9 354.2,169.0 354.2,169.6 354.3,170.5 354.4,171.4 354.4,173.2 354.6,175.5 354.6,176.5 354.7,178.1 354.4,178.3 354.8,181.0 354.9,182.2 354.6,183.2 354.9,184.6 354.9,185.7 354.8,188.1 355.0,188.1 355.3,189.7 355.0,191.7 355.1,192.2 355.2,194.3 355.3,195.9 355.6,197.9 355.7,199.2 355.5,200.4 355.7,201.1 355.6,199.9 355.7,197.5 356.1,196.2 356.1,195.6 355.9,194.7 356.0,193.5 356.4,191.3 356.3,189.0 356.5,187.6 356.5,188.0 356.6,185.7 356.7,183.6 356.7,183.5 356.6,182.3 356.8,180.3 356.8,178.7 356.8,178.6 356.8,177.0 356.9,174.5 356.8,174.8 357.1,173.5 357.1,170.3 357.0,169.0 357.1,168.6 357.5,167.3 357.9,165.1 357.9,164.0"/></defs><defs><polyline id="p23" points="357.9,158.6 357.8,156.7 357.9,154.9 358.1,154.3 358.1,154.0 358.1,152.4 358.3,149.6 358.2,149.3 358.6,146.8 358.6,145.8 358.6,145.0 358.8,144.4 358.9,141.9 358.7,142.0 359.2,140.7 359.1,137.6 359.1,138.0 359.1,135.5 359.2,135.4 359.4,132.5 359.6,131.4 359.7,130.7 359.9,129.6 360.2,127.3 360.3,125.8 360.5,126.0 360.6,124.7 360.8,122.5 361.1,121.4 361.5,119.1 361.7,118.8 362.0,118.3 362.2,115.6 362.2,114.8 362.5,113.6 362.9,112.1 363.8,111.5 365.0,110.0 366.0,108.0 367.1,107.9 367.9,107.3 369.0,105.0 369.6,107.2 369.9,108.8 370.4,109.3 370.4,111.0 370.7,111.3 370.4,112.4 370.5,115.1 370.8,115.7 370.7,117.4 370.7,117.6 371.0,120.0 371.1,121.6 370.9,121.9 371.1,123.6 371.1,124.9 371.1,127.0 371.4,128.2 371.4,129.8 371.6,130.9 371.6,131.0 371.5,132.1 371.7,134.2 371.9,135.2 371.7,137.7 372.0,138.8 372.0,140.5 371.9,141.2 371.8,142.7 372.3,143.7 372.1,145.0 372.1,146.5 372.1,147.7 372.2,149.0 372.5,151.0 372.6,151.8 372.5,152.4 372.7,154.8 372.6,155.3 372.7,156.6 372.7,158.0 372.8,159.5 373.1,161.8 373.2,163.1 372.9,163.9 373.1,165.7 373.4,164.5 373.4,163.3 373.3,161.0 373.6,161.0 373.9,159.1 373.7,156.7 374.0,156.0 374.2,154.3 374.1,152.5 374.3,152.1 374.2,151.4 374.6,148.8 374.4,148.3 374.5,147.1 374.9,146.0 374.7,144.4 374.8,143.4 374.9,142.3 375.1,141.1 375.1,139.9 375.3,137.2 375.4,135.9 375.4,135.0 375.4,132.7 375.7,131.6 375.6,131.3 375.8,129.8 376.0,127.6 376.4,127.1 376.4,126.0 376.4,123.6 376.8,123.0 377.0,120.9 377.2,119.0 377.6,117.4 377.9,116.4 379.7,116.7 380.0,118.8 380.2,118.9 380.1,120.6 380.5,122.9 380.7,123.6 380.8,125.0 380.9,126.5 381.0,128.0 381.0,128.8 380.9,130.6 381.2,133.0 381.1,133.6"/><polyline id="p24" points="362.1,123.6 362.1,146.4 362.1,136.4 362.1,114.3 363.6,112.8 363.6,125.0 365.0,120.7 365.0,112.1 366.4,111.4 366.4,120.0 367.9,116.4 367.9,107.8 369.3,107.6 369.3,113.6 369.3,117.9 369.3,108.6"/><polyline id="p25" points="377.8,119.7 377.8,150.3 377.4,133.2 377.4,118.0 378.9,118.0 378.9,131.7 380.3,133.2 380.3,118.3 380.0,119.7 380.0,134.6"/></defs><defs><polyline id="p26" points="380.7,137.9 380.7,139.3 380.9,140.4 380.8,142.3 380.8,142.5 381.0,143.8 381.0,144.8 381.2,146.3 381.3,148.4 381.3,149.5 381.4,150.4 381.4,152.1 381.5,153.9 381.6,155.5 381.8,157.4 382.0,158.0 382.1,158.9 382.1,160.6 382.3,162.1 382.6,161.2 382.5,160.2 383.0,157.8 383.2,156.7 383.2,154.2 383.2,153.8 383.6,152.1 383.7,151.1 383.9,149.4 383.9,148.5 384.0,147.0 384.1,145.8 384.0,144.7 384.3,142.9 384.5,141.7 384.3,140.5 384.4,138.5 384.6,137.9 385.3,135.8 385.7,135.0 386.5,135.8 387.1,137.9 387.2,140.2 387.1,141.3 387.2,142.9 387.6,143.2 387.6,144.5 387.5,145.7 387.7,148.0 387.6,148.7 387.9,150.0 388.0,148.8 388.2,147.5 388.1,146.9 388.3,144.1 388.4,144.0 388.3,142.2 388.6,140.1 388.6,138.7 388.9,137.9 388.9,136.3 389.1,134.5 389.2,133.5 389.4,132.8 389.3,131.7 389.5,129.0 389.5,128.3 389.7,126.4 390.3,125.4 390.8,124.3 391.4,122.1 393.6,121.4 396.0,120.7 396.3,122.9 396.7,123.4 397.1,125.0 397.4,126.4 397.5,127.9 397.8,129.5 397.6,131.3 397.6,130.8 398.0,132.5 397.8,133.6 398.1,136.3 398.0,136.2 398.1,137.3 398.3,139.5 398.7,141.1 398.6,142.1 398.8,143.6 398.9,145.1 398.8,145.8 398.9,146.6 399.2,148.7 399.0,150.0 399.4,150.9 399.4,151.8 399.3,153.3 399.5,155.6 399.5,156.9 399.7,157.9 400.0,159.8 400.4,160.4 400.6,162.1 400.7,162.9 400.7,165.3 401.1,166.4 402.6,168.6 402.8,166.0 403.2,165.3 403.7,163.6"/><polyline id="p27" points="381.7,139.7 381.7,158.9 381.4,161.0 381.4,138.3 382.9,137.6 382.9,161.0 384.3,158.9 384.3,136.8 385.7,136.1 385.7,150.3 387.1,148.9 387.1,134.0 387.2,128.3 387.2,148.9"/><polyline id="p28" points="390.0,128.3 390.0,148.9 390.0,147.4 390.0,124.0 391.4,123.3 391.4,133.2 392.9,127.4 392.9,123.0 394.3,122.6 394.3,126.7 395.7,126.0 395.7,122.3 397.1,121.8 397.1,133.2 396.9,147.4 396.9,122.6"/><polyline id="p29" points="400.7,135.4 400.7,164.6 400.7,166.7 400.7,142.6 402.1,146.8 402.1,167.4 403.6,167.4 403.6,149.7 403.2,154.0 403.2,166.0"/></defs><defs><polyline id="p30" points="403.6,159.3 403.6,157.4 404.0,156.3 403.9,155.4 404.3,153.8 404.3,152.2 404.5,151.4 404.6,149.3 404.8,147.4 405.0,145.6 404.9,145.0 405.0,143.7 405.2,143.0 405.4,141.3 405.7,139.2 405.7,137.9 406.1,136.4 406.2,134.2 406.6,134.4 406.9,131.8 407.1,130.7 407.5,129.0 407.8,128.4 408.0,126.4 408.6,125.0 408.8,122.9 409.1,121.7 409.1,120.2 409.4,119.1 409.7,117.7 409.9,116.5 410.0,115.0 411.4,112.9 412.0,114.6 412.9,116.4 412.9,117.5 413.4,119.2 413.4,120.0 413.6,121.4 413.6,122.8 413.6,125.8 414.0,126.4 414.4,127.6 414.2,129.8 414.6,129.8 414.8,131.3 414.8,134.1 415.2,134.5 415.3,137.0 415.4,137.9 415.9,139.3 416.2,139.9 416.6,142.2 417.1,143.6 417.5,144.7 417.9,146.2 418.3,147.1 418.6,148.6 418.9,147.3 419.1,146.9 419.3,145.2 419.4,143.4 419.4,141.2 419.7,140.7 420.1,138.5 420.4,137.5 420.7,135.7 421.1,136.8 421.3,137.8 421.9,140.2 422.1,140.7 422.2,141.8 422.4,143.4 422.6,145.5 422.7,147.0 422.9,148.8 422.9,149.2 423.1,150.3 423.1,152.1 423.4,153.4 423.5,155.0 423.6,155.4 423.7,157.8 424.1,158.6 424.3,161.7 424.3,162.1"/><polyline id="p31" points="404.2,142.6 404.2,161.7 404.3,158.9 404.3,139.7 405.7,132.6 405.7,147.4 407.1,137.4 407.1,128.3 407.2,125.4 407.2,133.2"/><polyline id="p32" points="411.4,115.4 411.4,131.7 411.4,130.3 411.4,114.0 412.9,114.7 412.9,131.7 412.6,134.6 412.6,121.1"/><polyline id="p33" points="416.4,128.3 416.4,140.3 416.4,146.0 416.4,138.3 417.9,139.0 417.9,147.4 419.3,148.9 419.3,137.6 420.7,137.1 420.7,150.3 422.1,153.2 422.1,137.1 421.8,142.6 421.8,154.6"/></defs><defs><polyline id="p34" points="424.6,169.3 424.8,170.3 424.7,172.9 424.8,173.2 425.3,175.3 425.4,177.1 425.4,177.9 425.4,176.4 425.5,174.8 425.8,174.2 425.8,172.5 425.9,170.2 426.0,169.4 426.3,168.3 426.4,166.4 426.5,165.9 426.8,163.7 427.0,161.5 426.8,160.8 427.1,160.2 427.3,157.0 427.5,156.4 427.4,155.0 427.5,154.1 427.8,152.9 427.9,150.2 428.1,149.2 428.2,148.0 428.3,145.9 428.6,145.0 428.6,142.6 428.9,142.6 429.0,141.5 429.2,139.6 429.3,138.7 429.5,137.1 429.6,135.9 429.9,132.9 430.0,132.1 430.7,130.3 431.1,129.5 431.7,128.6 432.6,129.4 433.6,130.7 433.6,131.9 433.8,134.2 434.1,135.4 434.3,137.4 434.6,137.9 435.2,136.7 435.7,135.6 436.0,133.3 437.9,134.3 438.2,135.4 438.2,136.0 438.3,137.9 438.6,138.5 438.8,140.0 438.9,142.1 439.0,143.5 439.3,145.3 439.2,146.8 439.4,148.1 439.6,150.2 439.8,150.3 440.0,152.1 440.3,154.5 440.7,154.5 441.1,156.4 441.3,155.3 441.6,152.7 441.4,152.6 441.6,151.1 441.8,148.5 441.7,147.2 441.9,145.8 442.1,145.0 442.1,142.9 442.0,142.4 442.4,140.3 442.2,140.1 442.2,137.6 442.4,136.6 442.6,135.6 442.5,134.0 442.4,133.6 442.5,132.3 442.5,130.1 442.7,128.2 442.6,128.5 442.9,127.2 442.8,125.4 442.9,123.6 443.0,122.1 443.0,121.0 443.2,119.6 443.2,117.4 443.3,117.0 443.6,114.6 443.9,113.6 443.8,111.9 444.0,110.7 444.5,108.5 445.1,109.1 446.0,106.9 446.9,108.2 447.4,109.3 447.7,110.8 447.8,111.4 447.8,113.8 448.0,115.3 448.1,116.7 448.2,117.8 448.4,119.3 448.6,120.7"/><polyline id="p35" points="426.4,149.7 426.4,176.7 426.4,176.0 426.4,148.3 427.9,146.8 427.9,170.3 427.9,164.6 427.9,132.6"/><polyline id="p36" points="430.7,132.6 430.7,164.6 430.7,147.4 430.7,130.4 432.1,130.0 432.1,137.4 433.6,136.0 433.6,130.4 435.0,134.0 435.0,137.4 436.4,138.9 436.4,134.7 436.5,134.0 436.5,140.3"/><polyline id="p37" points="440.7,135.4 440.7,153.2 440.7,155.3 440.7,136.8 440.8,135.4 440.8,155.3"/><polyline id="p38" points="444.5,114.0 444.5,153.2 444.3,137.4 444.3,109.7 445.7,108.3 445.7,130.3 447.1,127.4 447.1,108.0 448.3,109.0 448.3,126.0 447.9,126.0 447.9,114.0"/></defs><defs><polyline id="p39" points="448.9,127.9 449.6,128.8 450.7,130.7 451.9,131.1 452.9,132.9 455.0,133.6 455.7,136.0 456.4,136.4 456.7,138.3 456.9,140.2 457.0,140.5 457.3,141.2 457.4,143.6 457.6,144.5 457.8,146.9 458.1,147.9 458.3,148.4 458.4,151.6 458.6,152.1 459.1,153.6 459.5,154.8 460.0,156.4 460.3,157.3 461.0,159.3 461.1,160.9 461.7,162.1 462.6,163.9 463.1,165.0"/><polyline id="p40" points="462.1,165.0 462.1,164.5 462.1,162.3 462.3,160.2 462.3,158.9 462.3,157.3 462.6,157.2 462.5,156.4 462.6,154.0 462.9,153.0 462.8,151.9 462.9,150.0 463.0,148.3 462.9,147.9 463.2,146.3 463.1,145.3 463.2,144.1 463.5,142.5 463.3,140.6 463.7,138.8 463.5,138.1 463.9,137.3 463.9,135.7 464.0,133.4 464.4,133.5 464.5,130.8 464.8,129.0 464.7,128.2 465.3,126.2 465.3,125.7 466.7,125.0 466.7,126.8 467.1,127.2 467.0,129.7 467.5,131.2 467.5,130.9 467.7,133.3 467.8,134.9 467.9,135.7 468.0,138.1 468.1,138.5 468.3,140.6 468.5,142.3 468.5,143.6 468.9,144.0 468.7,145.9 469.0,147.1 469.3,149.5 469.4,150.4 469.7,150.8 469.9,152.7 469.9,153.8 470.2,156.2 470.4,157.1 470.7,158.2 470.8,160.6 471.3,162.1 471.4,162.9"/><polyline id="p41" points="449.2,129.3 449.2,129.3 449.3,130.7 449.3,127.8 450.7,129.3 450.7,132.2 452.1,133.6 452.1,133.6 453.6,135.0 453.6,135.0 455.0,136.4 455.0,134.7 456.4,135.0 456.4,139.3 457.4,146.4 457.4,137.8 458.6,143.6 458.6,155.0 460.0,157.9 460.0,147.8 460.0,150.7 460.0,160.7"/></defs><defs><polyline id="p42" points="471.9,167.1 472.1,167.7 472.1,169.9 472.2,172.1 472.3,171.9 472.6,173.4 472.5,175.9 472.9,177.1 473.1,178.6 473.2,180.0 473.6,180.8 473.9,182.6 473.8,180.5 474.0,179.5 474.1,178.7 474.1,177.2 474.2,176.1 474.3,174.4 474.6,173.4 474.6,172.2 474.8,170.6 474.7,168.6 474.7,166.8 474.8,165.2 474.7,163.8 474.9,163.0 475.1,162.6 475.0,160.3 474.9,158.4 474.9,158.7 475.0,155.6 475.3,155.1 475.3,153.9 475.4,151.8 475.2,151.6 475.3,150.0 475.2,149.5 475.5,147.7 475.5,145.1 475.7,145.2 476.2,144.1 476.2,141.1 476.4,140.6 476.4,139.3 477.1,141.3 477.6,142.9 477.7,143.5 477.6,144.6 477.7,146.3 478.0,147.1 478.0,148.6 477.8,151.5 477.9,152.1 478.1,153.0 478.1,153.8 478.3,155.6 478.3,157.1 478.4,159.1 478.3,159.6 478.5,162.0 478.6,161.8 478.7,162.8 478.8,164.2 478.7,166.4 478.9,167.1 479.0,168.6 479.1,169.4 479.3,171.5 479.1,172.5 479.3,174.3 479.6,175.0 479.9,176.7 480.0,177.9 480.2,181.1 480.4,181.0 480.7,183.1 481.3,181.9 481.9,180.0 481.8,178.0 482.1,176.6 482.0,176.1 482.5,174.9 482.6,172.3 482.5,171.6 482.8,170.3 482.9,168.6 482.9,166.7 482.9,165.1 482.9,164.8 483.0,164.1 483.4,161.4 483.4,161.0 483.1,159.2 483.3,157.8 483.3,156.4 483.3,155.5 483.6,154.3 483.7,152.3 484.0,152.2 484.0,150.6 484.1,149.1 484.4,146.8 484.5,145.4 484.4,144.1 484.7,142.9 484.7,142.0 484.8,140.3 485.1,139.2 485.2,138.1 485.2,136.8 485.3,135.9 485.4,134.1 485.5,132.5 485.7,130.8 485.5,129.9 485.7,128.6 486.3,127.8 487.0,125.2 487.6,125.0 489.3,125.7 489.3,127.4 489.6,128.9 489.8,129.2 490.0,132.4 489.9,133.1 490.3,134.5 490.4,135.7 490.5,137.0 490.8,139.1 490.7,140.2 490.9,141.5 491.1,141.4 490.9,143.0 491.2,145.7 491.0,146.1 491.4,147.8 491.4,149.5 491.4,150.0 491.7,150.6 491.9,152.4 491.8,154.8 491.8,155.3 492.2,157.7 492.4,157.8 492.4,160.5 492.4,161.4 493.2,163.7 493.6,165.0 493.6,162.9 493.7,161.9 494.0,160.7 493.9,158.9 494.2,159.1 494.3,157.1"/><polyline id="p43" points="486.4,138.1 486.4,154.8 486.1,153.4 486.1,128.1 487.6,126.6 487.6,151.9 489.0,153.4 489.0,126.6 488.8,128.1 488.8,154.8"/></defs><defs><polyline id="p44" points="493.9,142.9 493.7,141.5 494.1,139.7 494.0,139.2 493.8,137.9 494.2,136.2 494.1,134.3 494.3,132.0 494.0,131.7 494.4,129.3 494.3,128.6 494.4,127.1 494.9,126.0 495.1,123.6 495.3,123.1 495.9,124.6 496.7,125.7 497.0,126.3 496.9,128.2 497.2,129.7 497.2,130.6 497.6,133.8 497.7,135.1 497.9,135.7 497.9,137.4 498.1,139.3 498.3,140.2 498.6,142.3 498.4,142.7 498.5,144.4 498.7,146.1 499.0,147.1 499.1,147.6 499.6,149.3 499.5,151.5 499.6,153.4 500.1,153.5 500.3,155.0 500.4,157.1 500.7,157.7 500.9,159.7 501.3,161.5 501.7,162.2 501.9,163.9 501.9,161.9 502.2,160.9 502.2,159.1 502.4,159.1 502.5,157.6 502.7,155.8 502.9,154.3 502.9,152.8 503.1,150.9 503.1,149.9 503.1,148.8 503.2,147.9 503.2,146.0 503.4,144.6 503.7,144.3 503.8,141.9 503.6,140.9 503.9,140.0 504.4,138.9 505.0,136.4 505.4,138.4 505.3,138.1 505.6,140.1 505.7,141.3 506.1,142.9 506.1,144.9 506.2,145.1 506.3,147.4 506.4,147.9 506.5,148.8 506.9,151.1 506.9,151.7 507.1,154.2 507.0,154.0 506.9,155.9 507.1,157.1 507.3,159.3 507.8,160.6 507.7,162.4 508.0,161.9 508.0,165.2 508.5,166.2 508.6,167.1 509.4,167.8 510.0,170.3 510.9,168.3 511.4,167.1 511.6,165.8 511.6,164.3 511.9,163.5 511.8,162.1 511.9,159.7 512.0,157.7 512.2,156.1 512.5,156.3 512.4,154.3 512.5,152.1 512.5,152.2 512.6,149.6 512.7,149.2 512.7,147.5 512.9,147.0 512.9,146.2 513.0,144.4 513.0,143.4 513.2,140.6 513.3,140.0 513.6,139.5 513.5,138.2 514.1,135.9 514.2,135.3 514.3,133.6 515.7,132.1 515.9,133.3 515.9,135.5 516.2,137.1 516.0,137.6 516.4,138.3 516.3,141.0 516.7,141.9 516.7,142.9 516.7,144.1 517.0,144.7 517.0,147.2 517.0,149.0 517.1,150.2 517.0,150.6 517.1,152.1 517.3,154.4 517.5,155.4 517.6,156.5 517.5,156.5 517.5,158.7 517.6,160.0 517.5,162.1 517.7,162.1 517.6,164.1 517.8,166.2 518.0,166.5 517.9,167.1 518.1,169.3"/><polyline id="p45" points="495.7,125.2 495.7,137.7 495.7,141.9 495.7,124.9 495.8,125.9 495.8,149.1"/><polyline id="p46" points="514.7,140.0 514.7,164.3 514.3,162.9 514.3,135.0 515.7,134.3 515.7,163.6 515.8,165.7 515.8,135.7"/></defs><defs><polyline id="p47" points="519.0,167.1 519.1,165.9 519.1,164.3 519.2,163.7 519.1,160.9 519.4,159.6 519.3,158.4 519.4,157.7 519.3,155.8 519.6,154.3 519.8,152.5 519.9,151.1 520.0,149.2 520.1,148.7 520.3,147.1 520.2,145.8 520.7,143.8 520.7,142.9 520.8,141.7 521.0,139.2 521.2,138.8 521.7,137.7 521.8,136.5 522.1,133.8 522.1,132.9 523.2,132.7 524.3,130.7 524.6,132.3 524.6,133.1 524.5,134.4 524.6,136.4 524.9,137.7 525.1,137.8 524.9,139.4 525.1,142.3 525.3,142.9 525.3,144.8 525.3,145.2 525.6,146.4 525.6,148.3 525.6,148.5 525.6,151.7 525.6,151.6 525.9,153.6 525.9,154.7 525.9,155.8 525.8,156.9 525.8,159.1 526.0,160.0 526.0,157.8 526.3,158.1 526.5,156.1 526.6,153.7 526.6,151.9 526.8,150.5 526.7,149.2 527.0,148.5 527.1,147.1 527.4,144.9 527.7,145.2 528.1,142.9 528.5,142.3 528.3,139.4 528.7,137.6 528.6,137.4 529.0,136.6 529.0,134.3 529.5,132.7 529.8,132.7 530.2,131.5 530.4,129.3 532.1,129.0 533.9,130.7 534.2,132.6 534.4,133.1 534.6,135.4 534.8,134.9 535.0,137.1 535.1,139.3 535.3,140.0 535.5,141.9 535.3,143.3 535.6,143.3 535.7,145.6 535.8,146.2 535.7,148.2 535.9,150.0 535.8,151.6 536.1,152.9 536.3,153.1 536.1,155.0 536.4,157.0 536.5,158.5 536.4,159.6 536.6,160.4 536.6,162.4 536.8,162.3 536.7,164.3 536.6,166.0 537.0,166.3 537.1,168.8 536.9,168.9 537.2,171.1 537.1,173.0 537.2,174.2 537.6,174.1 537.6,176.3 537.8,177.4 537.6,178.3 537.9,179.8 537.9,181.4 539.3,180.0"/><polyline id="p48" points="522.8,133.8 522.8,157.7 522.9,151.9 522.9,133.1 524.3,132.3 524.3,149.1 523.9,157.7 523.9,133.8"/><polyline id="p49" points="531.8,130.4 531.8,146.7 531.9,145.3 531.9,130.1 533.3,131.1 533.3,146.7 533.3,148.2 533.3,133.3"/></defs><defs><polyline id="p50" points="540.4,162.9 540.7,163.3 540.7,164.6 540.7,167.8 540.6,168.4 540.7,168.7 540.9,170.9 541.0,171.3 540.8,173.1 541.1,174.0 540.8,176.1 541.0,178.3 541.3,178.5 541.3,180.1 541.4,182.0 541.1,183.0 541.3,184.3 541.4,185.7 541.5,187.4 541.5,188.4 541.7,190.1 541.6,190.3 541.6,193.3 541.8,194.5 542.1,195.5 541.9,196.9 542.0,198.7 542.1,199.4 542.2,200.7 542.0,201.9 542.2,203.5 542.4,203.9 542.3,205.3 542.4,207.1 542.7,208.5 542.6,210.8 542.8,211.9 542.8,211.8 542.8,213.1 542.9,215.2 543.0,217.6 543.1,217.3 543.1,219.7 543.3,220.7 543.3,219.2 543.4,217.8 543.5,216.8 543.3,215.2 543.5,214.0 543.6,213.0 543.9,211.5 543.8,209.7 543.6,208.7 543.7,206.7 543.9,205.1 544.1,204.2 544.2,201.8 544.1,201.0 544.1,200.0 544.2,199.0 544.3,198.2 544.2,195.7 544.4,194.8 544.2,194.1 544.2,191.1 544.4,191.4 544.6,189.9 544.5,188.0 544.4,185.9 544.5,185.9 544.6,184.9 544.7,182.7 544.7,181.1 544.8,180.6 544.7,178.6 544.6,178.1 544.9,175.7 545.0,174.5 545.0,173.3 545.0,172.9 545.2,170.7 545.0,169.8 545.2,167.3 545.1,166.3 545.2,164.8 545.2,163.7 545.3,162.9 545.3,164.3 545.6,165.8 545.6,167.3 545.5,168.0 545.7,168.8 545.8,171.6 545.9,171.2 546.0,172.8 545.8,174.9 545.9,175.3 546.1,177.3 546.1,178.6 546.2,179.9 546.4,181.7 546.5,182.9 546.6,183.7 546.7,184.3 546.5,186.3 546.9,187.1 547.1,188.5 547.0,190.2 547.2,190.9 547.1,192.9 547.2,194.6 547.4,195.4 547.4,198.0 547.7,198.7 547.8,200.9 547.8,201.8 548.1,202.9 548.0,201.6 548.2,201.1 548.3,199.6 548.2,197.1 548.7,196.0 548.4,194.5 548.5,193.7 548.6,191.9 548.7,190.9 548.7,189.7 548.9,188.5 549.0,186.9 549.0,185.7 548.9,185.3 548.9,182.7 549.1,181.6 549.1,181.2 549.1,179.2 549.3,177.1 549.3,175.7 549.4,175.6 549.5,174.7 549.3,172.4 549.6,171.0 549.7,169.9 549.6,168.6 549.9,166.3 549.9,166.1 550.2,164.3 550.4,163.4 550.4,161.4 550.6,163.3 550.8,163.5 551.1,166.4 551.3,166.6 551.4,167.6 551.4,170.0 551.6,168.3 551.8,167.1 552.0,165.8 552.2,165.0 552.2,162.7 552.4,161.6 552.6,160.6 552.9,159.3 554.7,158.9 554.9,161.2 554.9,161.2 555.1,162.0 555.3,163.5 555.4,166.0 555.4,168.2 555.5,167.6 555.7,170.0 555.6,168.1 555.9,167.8 555.8,166.8 555.8,164.1 556.0,163.4 556.1,161.6 556.2,160.9 556.2,159.5 556.0,158.1 556.4,155.7 556.2,154.9 556.2,154.5 556.4,151.9 556.5,152.1 556.4,150.0 556.3,147.7 556.6,148.2 556.6,146.1 556.7,144.9 556.9,143.7 556.9,142.1 557.0,141.4 557.0,139.2 556.9,139.3 557.1,136.2 557.1,135.7 557.3,134.2 557.4,132.6 557.7,131.7 557.8,129.9 557.9,129.1 557.9,127.5 558.2,126.5 558.1,125.0 559.3,124.0 559.4,125.1 559.4,126.2 559.4,127.6 559.3,129.1 559.4,131.1 559.4,132.9 559.6,133.0 559.7,134.4 559.8,135.7 560.0,136.6 559.7,139.6 560.0,139.7 560.0,141.2 560.0,142.9 560.0,143.8 560.1,145.9 560.2,146.5 560.1,148.4 560.3,149.6 560.3,151.9 560.1,152.2 560.4,153.9 560.2,155.7 560.2,156.5 560.3,157.3 560.2,158.2 560.4,161.2 560.4,162.8 560.4,162.5 560.3,165.5 560.2,166.7 560.5,166.6 560.3,169.2 560.5,169.1 560.4,171.4 560.5,172.2 560.6,174.2 560.3,175.3 560.3,177.6 560.7,178.6 560.3,180.4 560.4,181.2 560.7,182.3 560.4,183.1 560.7,184.2 560.6,187.1 560.6,186.9 560.7,188.7 560.8,190.0 560.8,192.3 560.6,193.1 560.7,193.6 560.7,195.7 561.0,194.1 560.9,192.2 561.1,192.7 561.1,189.7 561.1,189.1 561.1,187.3 561.1,187.2 561.3,185.7 561.5,183.7 561.4,182.2 561.6,181.2 561.6,180.0 562.0,178.2 562.2,176.3 562.4,175.1 562.9,174.3"/><polyline id="p51" points="552.4,161.8 552.4,171.0 552.4,169.6 552.4,160.4 553.9,160.1 553.9,169.3 555.3,168.9 555.3,159.7 555.0,133.3 555.0,168.9"/></defs><defs><polyline id="p52" points="563.6,180.0 563.4,181.2 563.6,183.4 563.5,185.0 563.6,186.0 563.8,186.2 563.9,187.7 563.7,188.6 564.0,191.1 564.2,191.5 564.2,193.0 564.1,194.2 564.1,196.8 564.1,197.2 564.4,198.6 564.3,200.0 564.4,201.4 564.3,203.2 564.4,203.8 564.6,204.6 564.6,207.2 564.6,208.1 564.6,208.6 564.6,211.6 564.6,212.7 564.7,213.6 564.8,214.9 564.5,216.4 564.8,217.0 564.7,219.7 564.6,221.1 564.8,221.5 564.9,223.3 564.8,223.8 564.9,226.6 565.2,227.6 565.0,228.6 565.1,230.3 565.3,230.6 565.0,233.3 565.0,234.0 565.3,235.3 565.3,234.8 565.4,232.1 565.2,231.3 565.4,230.0 565.4,227.9 565.4,228.1 565.3,225.5 565.3,225.7 565.6,223.3 565.4,222.0 565.7,221.7 565.7,220.3 565.6,217.5 565.8,216.3 565.7,215.4 565.4,214.7 565.5,213.8 565.5,212.1 565.7,209.5 565.6,208.8 565.8,208.4 565.9,205.9 565.7,205.0 565.7,203.3 565.9,201.6 565.9,200.6 565.9,200.0 565.8,198.2 565.9,198.2 566.0,195.8 566.1,194.1 565.8,193.5 566.0,192.3 566.0,190.9 565.9,190.0 566.1,188.4 566.0,187.2 566.0,185.9 566.0,184.6 566.0,182.3 566.1,181.1 566.2,180.3 565.9,178.6 566.1,176.7 565.9,176.3 566.3,174.6 566.2,172.0 566.1,171.4 566.1,169.7 566.1,168.3 566.2,167.0 566.1,165.0 566.5,164.4 566.3,162.8 566.4,161.4 566.4,162.7 566.4,164.6 566.7,165.7 566.8,167.5 566.7,168.2 566.8,169.3 566.6,170.8 566.9,172.6 566.7,174.2 566.7,175.0 566.8,175.9 566.9,177.8 567.1,179.7 567.1,179.4 567.0,180.8 567.0,182.4 567.2,183.7 567.3,185.7 567.5,186.8 567.4,189.0 567.3,189.8 567.3,191.1 567.7,192.7 567.5,194.1 567.6,195.2 567.7,197.0 567.8,198.9 567.9,199.9 567.8,201.3 567.7,201.4 568.0,203.3 567.7,205.3 567.8,205.7 568.1,206.9 568.1,208.4 568.1,210.0 568.1,211.9 568.2,212.3 568.1,214.3 568.3,215.0 568.1,217.5 568.2,218.1 568.2,219.8 568.3,220.7 568.7,222.2 568.5,222.7 568.5,224.2 568.7,225.6 568.5,227.0 568.8,229.3 568.7,230.0 568.7,231.8 568.9,232.3 568.8,234.6 569.0,235.7 569.0,234.7 569.0,232.2 569.0,232.4 569.2,229.4 569.2,229.3 569.2,228.3 569.2,226.4 569.5,224.4 569.7,223.8 569.4,222.8 569.4,221.3 569.8,219.9 569.5,217.4 569.9,217.7 569.7,216.5 569.9,214.3 570.0,212.2 570.1,210.6 569.9,209.7 570.0,208.9 569.9,208.5 570.1,206.6 570.2,205.7 570.3,203.6 570.4,202.4 570.4,200.2 570.6,199.8 570.5,199.2 570.5,197.4 570.5,195.3 570.7,193.7 570.7,192.9 571.0,192.5 570.9,190.6 570.8,189.4 571.1,187.5 571.0,186.5 570.9,184.0 570.9,183.6 571.2,183.0 571.1,180.3 571.2,178.9 571.2,178.2 571.4,176.1 571.2,175.6 571.4,174.3 571.5,172.3 571.6,171.8 571.8,171.2 571.8,168.2 571.8,167.2 571.8,165.5 572.0,165.4 572.0,163.2 572.3,162.5 572.3,160.6 572.5,160.2 572.4,157.7 572.4,157.1 572.5,154.8 572.5,154.8 572.6,152.3 572.8,152.4 572.8,149.8 573.1,147.7 573.2,146.3 573.3,145.7 574.7,144.0 574.7,145.0 575.1,146.6 574.9,147.7 574.9,148.7 575.0,151.1 575.1,151.6 575.1,154.0 575.2,154.4 575.5,157.1 575.5,156.7 575.7,159.4 575.4,159.8 575.8,161.5 575.7,163.9 575.9,164.3 575.8,165.0 576.0,167.9 576.1,167.3 575.8,169.0 576.1,171.8 575.9,172.6 576.2,172.6 576.3,174.5 576.2,176.8 576.3,177.8 576.1,179.1 576.2,180.9 576.5,181.8 576.5,183.8 576.6,184.6 576.5,184.5 576.8,186.0 576.4,188.4 576.8,189.4 576.6,189.9 576.7,192.1 576.6,190.5 576.8,188.9 577.0,189.0 577.1,186.0 577.1,184.6 577.0,183.9 577.0,183.0 577.1,181.7 577.3,180.0 577.1,177.6 577.5,177.9 577.3,175.9 577.6,174.9 577.4,172.2 577.6,171.4 577.5,170.5 577.6,169.1 577.6,167.7 577.7,165.9 577.9,165.6 577.8,163.9 577.8,161.3 578.1,159.8 578.2,160.1 578.0,158.3 578.2,157.5 578.2,155.0 578.4,153.4 578.5,152.3 578.4,151.9 578.6,149.2 578.6,149.5 578.6,147.1 579.0,145.8 579.6,144.7 580.0,142.9 580.0,144.0 580.0,145.8 580.1,147.5 580.0,148.8 580.1,150.4 580.4,150.7 580.2,151.8 580.3,154.7 580.6,154.1 580.3,156.6 580.5,157.9 580.7,159.9 580.5,161.5 580.7,161.8 580.6,162.7 580.6,164.2 580.8,165.5 580.8,166.6 580.7,169.5 580.9,170.0 581.0,171.4 580.8,173.7 580.8,174.7 580.7,175.0 580.9,176.7 581.0,178.3 580.9,178.6 580.8,180.4 580.8,182.0 580.6,182.7 580.6,183.9 580.8,187.1 580.8,186.9 580.7,188.8 580.6,190.8 580.5,191.1 580.4,192.3 580.8,194.2 580.7,195.5 580.5,196.6 580.5,197.8 580.5,198.6 580.4,200.1 580.4,202.3 580.4,203.6 580.7,203.0 580.7,200.8 580.5,200.2 580.5,198.0 580.6,197.5 580.9,196.4 580.7,194.9 581.0,192.9 580.9,192.1 581.0,191.1 581.3,188.6 581.2,187.4 581.4,186.9 581.2,184.6 581.2,183.8 581.4,182.4 581.4,181.1 581.3,179.4 581.6,178.6 581.7,176.2 581.8,176.4 581.8,174.7 581.7,172.1 581.9,171.4 581.8,170.2 582.1,168.5 582.1,168.2 581.8,165.3 582.2,164.9 582.1,164.3 582.0,161.3 582.2,161.9 582.0,160.0 581.9,159.3 582.2,158.0 582.2,155.5 582.1,154.5 582.4,153.2 582.2,151.3 582.1,150.0 582.2,149.2 582.5,147.5 582.2,147.1 582.5,144.8 582.3,143.9 582.2,141.9 582.4,141.4 582.5,142.2 582.5,144.7 582.7,145.5 582.9,147.2 583.1,148.9 582.8,149.8 582.9,149.8 583.1,151.2 583.1,152.7 583.5,155.1 583.5,155.9 583.6,157.1 583.7,158.6 583.5,159.7 583.6,161.0 584.0,161.8 583.8,163.9 584.0,164.7 583.9,166.4 584.2,166.8 584.2,169.1 584.3,170.1 584.2,170.7 584.1,173.3 584.3,174.3 584.5,175.7 585.0,177.3 585.1,178.7 585.3,180.0"/></defs><defs><polyline id="p53" points="585.7,185.7 585.7,188.1 585.8,187.5 585.8,189.7 585.8,191.1 585.8,193.5 586.0,193.6 586.1,195.5 586.1,197.4 586.2,199.0 586.3,199.9 586.1,201.3 586.5,202.9 586.2,203.2 586.4,205.0 586.3,204.0 586.7,202.6 586.7,201.0 586.8,199.6 587.0,197.4 586.9,197.0 586.8,195.5 587.2,193.2 587.3,193.0 587.4,192.2 587.4,190.0 587.4,188.3 587.5,186.8 587.6,185.7 587.7,184.5 587.7,183.1 587.8,182.4 587.9,180.8 587.7,178.0 587.7,176.8 587.9,175.5 588.0,175.5 588.0,174.4 588.1,172.3 588.1,170.2 588.2,168.9 588.1,167.9 588.4,167.9 588.3,165.1 588.4,164.3 588.7,163.1 588.7,162.6 588.7,159.8 588.9,159.8 588.6,158.6 588.9,155.8 588.9,154.7 589.1,153.5 588.9,153.2 589.0,150.4 589.2,149.0 589.3,148.4 589.3,147.1 590.4,145.0 590.3,147.3 590.6,146.9 590.8,149.4 590.8,151.1 590.6,151.5 590.7,153.9 591.0,154.8 591.0,157.0 591.0,157.3 591.0,159.7 591.0,159.5 591.3,160.6 591.1,163.0 591.3,164.3 591.2,165.4 591.1,167.3 591.2,167.8 591.2,170.0 591.3,171.0 591.2,172.4 591.4,174.4 591.3,174.5 591.6,175.3 591.5,177.5 591.4,178.2 591.5,179.2 591.4,181.1 591.5,182.3 591.7,184.0 591.7,185.6 591.7,187.6 591.7,188.5 591.7,188.6 591.8,190.8 591.5,192.5 591.8,194.3 591.7,194.7 592.0,196.9 591.9,197.2 591.8,199.1 591.9,200.0 592.1,201.3 592.0,202.8 592.0,203.5 592.0,205.0 592.3,205.9 592.0,207.6 592.3,209.9 592.2,210.1 592.4,212.7 592.4,214.0 592.4,214.0 592.5,217.1 592.3,217.5 592.7,220.0 592.7,221.1 592.5,222.5 592.8,222.5 592.9,225.1 592.9,226.6 592.6,226.5 592.9,228.6 593.2,229.3 593.2,232.0 593.5,232.7 593.6,234.3 593.6,233.3 593.9,231.9 593.7,229.8 593.6,229.2 593.9,227.1 594.0,226.5 593.9,225.0 593.9,222.6 594.0,222.6 594.2,221.9 594.2,218.9 594.3,218.1 594.4,217.8 594.1,214.7 594.3,214.3 594.1,213.3 594.4,211.8 594.3,210.4 594.3,208.3 594.5,206.9 594.3,206.4 594.7,205.6 594.7,203.8 594.4,201.4 594.7,200.7 594.8,198.4 594.7,197.1 594.8,195.8 594.8,195.8 595.0,194.5 594.9,192.1 594.9,191.2 594.9,190.0 594.9,188.2 595.1,187.4 595.0,185.7 595.3,185.3 595.3,182.3 595.3,181.8 595.5,181.3 595.4,178.2 595.8,178.9 595.7,176.8 595.8,175.1 596.0,174.4 596.2,172.5 596.1,171.4 596.2,169.9 596.4,168.7 596.5,168.2 596.1,166.4 596.2,164.5 596.5,162.2 596.5,162.1 596.5,160.4 596.5,158.2 596.5,158.4 596.7,156.2 596.7,154.7 596.9,156.8 597.0,157.3 596.9,158.5 596.8,161.1 596.9,161.4 597.3,162.7 597.4,163.5 597.1,165.8 597.4,167.8 597.6,169.3 597.4,171.0 597.6,171.4 597.5,172.7 597.7,173.1 597.7,176.3 598.1,176.3 598.2,178.4 597.9,179.4 598.0,180.1 598.3,181.2 598.2,182.1 598.3,184.0 598.3,184.9 598.5,186.2 598.8,187.8 598.6,188.7 598.9,190.3 598.6,191.9 599.1,194.3 599.0,195.0 598.9,196.9 599.2,196.9 599.3,198.0 599.3,200.0 599.4,200.9 599.5,202.2 599.6,203.5 599.5,204.6 599.9,206.6 599.9,208.4 599.9,208.8 600.1,211.2 600.3,212.0 600.4,212.9 600.6,215.0 600.7,215.8 600.7,217.8 600.8,219.3 600.8,220.7 601.0,221.4 601.2,222.7 601.3,223.8 601.8,224.3 601.8,226.7 602.1,227.9 603.6,227.1 603.7,226.2 603.8,224.9 603.8,222.4 603.8,221.3 603.7,220.4 604.1,218.9 604.1,217.9 603.8,216.4 604.3,215.2 604.1,214.4 604.3,213.1 604.4,211.0 604.3,209.6 604.3,208.8 604.3,207.8 604.4,205.3 604.6,203.7 604.6,201.8 604.8,200.6 604.7,200.0 604.9,199.4 605.0,197.8 604.8,196.1 604.8,195.1 605.1,192.7 605.1,191.1 605.2,191.0 605.0,189.5 605.4,187.3 605.5,186.2 605.2,184.4 605.6,183.3 605.7,182.5 605.4,181.9 605.6,179.2 605.7,178.6 605.7,176.7 606.0,175.7 606.2,173.4 606.1,173.6 606.4,171.9 606.7,170.2 606.7,168.6 607.1,166.6 607.2,165.7 607.8,165.2 607.9,162.9"/></defs><defs><polyline id="p54" points="607.9,161.4 607.8,160.4 607.9,158.5 607.9,158.4 608.0,156.1 607.9,155.5 608.0,154.1 608.1,151.6 608.1,150.5 608.5,149.2 608.3,148.7 608.3,147.4 608.7,146.2 608.3,144.7 608.6,142.9 609.0,142.1 609.2,139.4 609.5,139.0 609.7,138.0 610.0,136.1 609.9,137.2 610.2,139.6 610.4,140.9 610.2,141.2 610.3,142.6 610.2,143.8 610.6,145.1 610.7,147.4 610.6,148.8 610.8,148.3 610.7,151.5 610.7,151.6 610.7,154.0 610.9,154.7 611.0,156.6 611.0,157.1 611.1,158.6 611.1,159.5 611.4,161.5 611.2,161.7 611.4,163.0 611.3,164.7 611.4,166.1 611.4,167.8 611.4,168.8 611.7,169.9 611.8,171.9 611.6,173.9 611.7,174.5 611.6,175.4 612.1,177.4 611.9,179.0 611.9,179.5 612.2,181.8 612.1,182.9 612.2,182.3 612.3,180.2 612.6,179.7 612.5,178.6 612.5,175.9 612.8,175.2 612.9,173.7 613.1,172.0 613.1,171.5 613.3,169.4 613.3,168.6 613.4,169.9 613.4,171.5 613.8,172.3 613.9,175.1 613.9,175.4 613.9,177.2 614.3,178.3 614.3,180.0 614.4,182.1 614.5,183.0 614.9,184.3 614.9,185.9 615.1,187.5 615.5,189.2 615.6,189.2 615.7,191.4 615.7,190.4 615.9,189.6 615.9,186.6 615.8,185.3 616.0,184.5 615.9,184.3 615.9,181.9 616.3,181.2 616.1,180.5 616.2,178.9 616.3,177.2 616.6,174.7 616.5,174.5 616.7,173.2 616.4,170.9 616.6,169.7 616.6,169.9 616.6,167.1 616.8,166.4 617.0,164.7 617.0,163.6 617.1,163.3 616.9,160.8 617.0,159.7 617.1,158.8 617.1,157.1 617.1,158.8 617.4,159.6 617.2,160.7 617.4,161.7 617.3,163.4 617.6,165.7 617.6,165.8 617.6,167.0 617.9,169.1 617.9,170.0 617.7,171.2 617.8,173.6 618.0,174.2 617.9,175.4 618.2,176.6 618.1,178.6 618.4,180.6 618.2,180.3 618.5,181.7 618.6,183.9 618.5,185.4 618.5,187.1 618.9,187.0 618.8,190.0 618.8,189.9 619.1,193.0 619.3,192.7 619.1,193.7 619.3,196.0 619.2,194.3 619.5,193.9 619.3,191.8 619.4,190.0 619.3,188.8 619.4,187.1 619.7,187.7 619.6,185.3 619.6,184.8 619.6,183.6 619.9,181.0 619.7,181.1 619.7,179.8 619.8,177.8 619.7,176.0 619.9,174.3 620.1,173.3 620.0,172.8 619.9,171.3 620.1,170.1 620.0,167.9 620.1,166.8 620.1,165.7 620.1,164.3 620.3,162.2 620.1,160.8 620.3,159.6 620.5,158.3 620.3,158.0 620.3,155.3 620.3,155.2 620.4,154.3 620.4,151.6 620.5,150.3 620.5,148.5 620.6,148.5 620.6,147.6 620.8,145.0 620.7,143.4 620.6,142.5 620.9,141.7 620.7,138.9 621.1,138.2 621.0,137.8 621.0,135.7 621.3,133.5 621.9,132.3 622.1,131.1 622.2,131.4 622.3,133.6 622.2,134.4 622.5,137.1 622.3,137.3 622.3,138.6 622.4,141.2 622.3,141.3 622.5,143.1 622.5,144.6 622.6,144.7 622.8,146.2 622.8,148.9 622.6,149.9 622.9,150.3 623.0,151.2 622.9,154.2 622.9,155.3 622.9,156.1 623.0,157.1 623.0,158.9 623.2,160.3 623.2,160.7 623.2,163.2 623.3,163.3 623.3,164.3 623.5,167.0 623.2,168.2 623.3,169.5 623.5,171.5 623.6,172.4 623.5,173.5 623.4,173.9 623.7,177.1 623.7,176.9 623.7,178.3 623.6,180.9 623.9,180.7 623.9,183.4 623.9,183.6 623.9,185.7 623.9,187.6 623.9,187.8 624.1,189.2 624.1,190.5 624.2,191.8 624.3,193.6 624.3,194.7 624.5,195.8 624.6,197.2 624.8,198.7 624.8,200.1 625.0,203.1 625.0,203.6 625.1,201.4 625.0,200.2 625.4,198.6 625.4,198.6 625.5,196.6 625.4,195.0 625.5,193.9 625.6,192.5 625.7,191.4 625.6,189.7 625.6,189.3 625.6,186.9 625.9,185.7 625.9,184.6 625.8,183.4 625.8,181.2 625.9,179.4 626.2,178.1 626.2,178.0 626.2,176.4 626.1,174.8 626.1,173.2 626.0,172.4 626.3,171.8 626.4,169.7 626.1,168.2 626.1,167.5 626.4,165.2 626.3,164.8 626.3,161.9 626.5,161.2 626.4,160.0 626.3,159.4 626.4,156.7 626.6,155.5 626.6,154.6 626.9,153.6 626.7,152.8 627.0,151.6 626.7,150.1 627.0,148.6 627.1,147.1 626.9,146.4 627.2,143.7 627.1,142.9 627.2,140.9 627.2,140.5 627.2,138.0 627.4,137.9 627.6,135.4 627.5,134.3 627.8,134.4 627.5,132.4 627.8,131.4 627.8,129.9 627.9,128.6 629.3,126.4 629.3,126.9 629.3,129.2 629.4,131.3 629.6,130.9 629.8,133.6 630.0,134.5 630.1,136.4 630.2,138.0 630.1,138.6 630.1,140.4 630.3,141.4 630.4,142.9 630.4,143.5 630.5,146.0 630.5,146.1 630.6,148.5 630.6,150.2 630.8,151.4 630.7,153.1 630.7,153.6 630.6,154.6 630.7,155.8 630.7,157.0 630.7,159.0 630.9,160.9 631.0,162.5 631.1,162.2 631.0,164.3 631.1,166.5 630.9,166.3 630.9,167.8 631.4,170.5 631.1,170.2 631.1,173.3 631.2,174.0 631.3,175.1 631.4,177.5 631.3,177.9 631.6,180.0 631.6,180.3 631.6,182.1"/></defs><defs><polyline id="p55" points="631.0,160.0 630.9,160.9 631.2,163.6 631.4,164.5 631.4,166.2 631.7,167.1 631.7,168.6 631.7,170.8 631.9,171.4 631.8,172.6 632.2,174.3 632.0,174.9 632.1,177.3 632.2,178.4 632.4,179.3 632.2,181.1 632.5,182.6 632.4,183.6 632.6,182.9 632.3,181.2 632.4,180.0 632.7,178.9 632.4,176.7 632.5,176.3 632.7,174.4 632.7,173.5 632.7,171.0 632.9,170.9 632.7,169.2 632.7,167.2 632.6,166.7 633.0,164.6 632.7,163.6 632.8,162.9 632.8,160.6 632.9,160.5 633.1,157.7 633.0,157.1 632.9,154.9 633.1,154.8 633.0,152.7 633.3,150.9 633.3,151.1 633.3,148.7 633.3,148.6 633.3,146.7 633.4,145.9 633.5,144.1 633.4,141.7 633.4,140.9 633.5,139.7 633.4,137.8 633.6,137.2 633.6,135.7 634.3,133.7 634.7,132.9 634.9,133.5 634.9,135.4 635.1,138.0 635.2,138.6 635.4,140.8 635.5,142.1 635.9,142.9 635.8,143.9 635.8,145.8 635.8,147.2 636.0,147.8 636.1,150.0 635.9,151.7 636.3,152.8 636.3,153.3 636.0,154.8 636.4,156.6 636.1,158.1 636.4,158.9 636.4,161.0 636.3,162.2 636.4,163.5 636.4,164.3 636.6,164.9 636.4,167.1 636.5,167.9 636.4,169.5 636.8,170.8 636.5,172.0 636.7,172.7 636.6,175.0 636.7,176.7 636.7,176.7 637.0,179.5 636.9,180.5 636.8,180.9 636.9,183.3 637.0,184.3 637.0,183.0 636.9,182.5 637.1,180.1 637.4,179.8 637.2,177.5 637.5,176.3 637.2,174.4 637.4,172.6 637.3,173.1 637.7,171.6 637.6,169.3 637.9,167.4 637.7,166.7 637.9,166.0 637.9,164.3 638.1,163.9 638.0,162.5 638.0,159.7 638.1,158.5 638.3,158.3 638.0,156.6 638.3,155.5 638.1,153.8 638.2,152.2 638.3,150.7 638.4,149.7 638.3,148.4 638.4,147.4 638.6,145.7 638.7,144.3 638.9,143.4 639.6,141.9 639.7,139.9 640.0,138.6 640.2,139.1 640.1,141.2 640.1,142.5 640.2,143.2 640.4,145.1 640.3,146.6 640.4,148.0 640.5,149.6 640.7,149.5 640.6,152.4 640.7,153.7 641.0,155.3 641.0,155.7 641.0,157.1 641.0,157.7 641.0,159.4 641.2,161.8 641.2,163.1 641.1,164.2 641.1,164.3 641.2,167.4 641.2,168.8 641.2,168.9 641.1,170.6 641.2,171.3 641.3,174.4 641.5,174.7 641.3,176.2 641.3,177.8 641.3,179.2 641.6,179.8 641.4,181.8 641.5,183.8 641.7,184.3 641.6,185.7 641.6,187.7 641.7,187.8 641.7,189.2 641.9,192.0 641.9,192.0 641.9,193.3 642.1,196.2 642.0,197.6 642.1,198.6 642.0,196.5 642.4,195.3 642.3,195.4 642.4,193.1 642.3,191.6 642.3,191.0 642.5,189.6 642.5,187.2 642.4,185.6 642.7,185.0 642.6,184.6 642.6,182.0 642.6,180.5 642.6,179.6 642.8,178.2 643.0,176.6 642.9,175.5 643.1,174.3 643.1,172.5 643.0,171.4 642.9,169.5 643.2,167.9 643.0,168.0 643.0,166.4 643.2,164.1 643.4,164.0 643.2,161.2 643.3,159.7 643.5,158.8 643.3,156.9 643.4,156.6 643.3,155.5 643.5,154.4 643.7,153.1 643.6,150.7 643.7,149.5 643.7,147.8 643.6,146.1 643.8,146.4 644.0,143.8 643.9,142.9 643.8,140.7 643.9,140.9 644.1,138.6 644.1,138.0 644.2,137.2 644.2,135.8 644.4,133.5 644.6,131.8 644.8,131.0 644.8,130.4 644.9,129.0 644.8,126.6 645.0,125.7 645.5,124.3 646.0,123.7 646.7,121.4 648.1,122.9 648.1,124.1 648.3,125.3 648.5,127.1 648.6,128.3 648.8,130.7 648.7,132.3 649.0,132.3 648.9,135.0 649.0,135.7 648.9,137.9 649.0,139.2 649.1,140.9 649.4,141.2 649.1,143.1 649.4,143.9 649.6,145.6 649.5,146.6 649.6,148.6 649.6,150.0 649.5,149.5 649.7,146.4 649.9,145.6 650.1,144.1 650.1,143.3 650.3,140.8 650.1,140.0 650.2,139.2 650.4,137.1 650.6,135.4 650.8,133.8 651.1,132.4 651.4,131.4 651.6,132.4 652.2,133.5 652.4,135.7 652.5,137.4 652.4,139.2 652.7,139.5 652.5,140.6 652.9,141.9 652.9,144.5 653.0,145.6 653.0,147.1"/></defs><defs><polyline id="p56" points="652.9,141.4 653.0,142.8 653.2,143.5 653.2,145.7 653.4,147.4 653.5,149.5 653.6,150.8 653.9,151.4 653.8,153.4 654.0,153.6 654.2,156.1 654.2,156.6 654.6,157.9 654.7,160.2 654.9,160.0 654.8,161.9 655.1,164.1 655.3,165.0 655.3,165.7 655.4,167.5 655.7,169.0 655.5,169.2 655.7,172.1 655.8,173.1 655.9,174.3 656.2,176.2 656.2,176.8 656.2,178.6 656.4,179.3 656.4,177.2 656.7,176.6 656.7,174.6 656.9,174.2 657.0,172.3 656.9,171.2 656.9,168.8 657.2,168.1 657.3,167.6 657.3,165.7 657.4,164.5 657.3,163.2 657.5,161.2 657.5,159.5 657.6,158.9 657.5,158.1 657.8,155.8 657.5,155.2 657.9,152.8 657.9,152.5 658.0,150.0 657.9,148.7 658.2,149.3 658.1,147.2 658.2,144.9 658.1,144.3 658.4,142.7 658.2,140.7 658.2,141.2 658.3,139.0 658.6,138.2 658.5,136.8 658.7,134.5 658.6,133.9 658.8,132.6 658.6,130.6 658.8,130.5 659.0,128.0 659.0,127.1 659.2,125.3 659.5,124.8 659.6,122.8 659.4,122.2 659.6,120.9 660.0,119.5 660.0,117.4 660.1,119.0 659.9,119.6 660.0,120.5 660.2,121.8 660.2,123.3 660.2,125.9 660.5,126.9 660.4,127.3 660.4,130.0 660.3,130.3 660.4,131.3 660.4,133.7 660.6,135.5 660.6,136.2 660.7,137.1 660.7,139.0 660.6,140.8 660.7,141.7 660.8,141.6 660.9,143.2 661.0,144.7 660.8,146.7 661.0,148.3 661.1,148.5 661.2,151.4 661.2,151.1 661.0,152.9 661.3,154.4 661.1,155.6 661.3,156.8 661.2,159.4 661.2,159.7 661.3,161.0 661.5,163.6 661.3,163.5 661.4,165.7 661.5,166.2 661.7,169.5 661.7,170.0 661.8,171.2 661.8,173.1 662.0,173.9 661.8,175.6 661.9,176.8 662.1,178.6 662.2,177.9 662.3,176.8 662.4,175.5 662.5,172.8 662.2,172.2 662.5,170.2 662.6,169.4 662.6,166.7 662.7,167.1 662.5,165.7 662.5,164.3 662.8,162.9 662.5,160.3 662.8,159.0 662.7,159.1 663.0,156.2 662.7,156.1 662.9,153.2 663.1,152.2 663.0,151.4 662.9,150.8 663.2,147.9 663.2,148.3 663.4,146.8 663.4,145.6 663.2,143.8 663.5,142.6 663.4,141.3 663.5,140.1 663.6,138.7 663.4,136.3 663.6,134.2 663.5,134.6 663.9,132.5 663.7,130.4 663.8,130.7 663.7,128.8 663.9,127.1 664.1,125.6 664.1,124.7 664.1,122.5 664.3,120.6 664.4,120.7 664.7,118.4 664.6,117.2 664.8,116.0 665.0,114.3 665.9,112.7 666.4,112.3 667.1,110.3 668.0,112.0 668.6,112.9 668.6,115.1 668.7,116.7 669.1,116.3 669.0,119.2 669.5,119.2 669.5,122.1 669.6,122.9 669.7,125.0 669.9,124.8 669.7,127.5 669.9,128.8 670.3,129.1 670.3,130.1 670.3,131.2 670.5,132.5 670.5,133.6 670.8,136.1 670.7,137.1 670.8,138.0 671.2,140.0 671.3,140.5 671.4,142.8 671.7,143.7 671.6,145.8 671.9,146.2 672.1,148.6 672.1,147.1 672.3,145.2 672.5,143.4 672.5,142.8 672.6,142.4 672.7,139.9 673.1,138.6 673.0,137.1 672.9,135.8 673.3,135.1 673.1,132.3 673.4,131.4 673.1,130.3 673.4,128.9 673.5,128.6 673.5,127.2 673.5,124.3 673.6,123.3 673.7,123.2 673.6,121.5 673.5,119.9 673.8,119.2 673.6,116.4 673.9,115.7 674.1,114.6 674.0,113.9 674.0,112.3 674.1,109.6 674.4,107.9 674.6,107.0 674.7,106.2 674.6,105.2 675.0,103.8 674.7,101.7 675.0,100.4 675.4,101.5 676.1,102.9 676.1,104.3 676.4,106.2 676.4,106.3 676.3,108.4 676.4,110.8 676.1,112.2 676.3,111.9 676.4,114.4 676.4,115.7"/><polyline id="p57" points="653.5,143.6 653.5,143.6 653.6,151.4 653.6,143.6 655.0,144.3 655.0,174.3 656.4,177.2 656.4,144.9 657.9,132.1 657.9,174.3 659.0,160.0 659.0,123.5 659.0,124.3 659.0,150.8"/><polyline id="p58" points="665.7,118.3 665.7,140.4 665.7,128.9 665.7,116.8 667.1,116.1 667.1,126.1 668.6,130.9 668.6,115.1 670.0,118.9 670.0,142.4 671.4,145.2 671.4,122.5 672.4,119.6 672.4,142.4 672.2,140.3 672.2,118.2"/><polyline id="p59" points="675.7,101.8 675.7,137.4 675.3,113.2 675.3,101.6 675.0,101.8 675.0,110.3"/></defs><defs><polyline id="p60" points="676.7,122.9 677.0,124.8 676.8,126.1 677.0,126.9 676.9,128.5 677.1,130.0 677.1,130.2 677.2,132.4 677.2,133.5 677.0,134.4 677.3,135.6 677.2,137.4 677.2,138.5 677.4,141.1 677.6,140.8 677.5,143.6 677.6,144.3 677.4,143.4 677.7,141.1 677.5,139.9 677.6,139.3 677.6,136.9 677.9,135.3 677.9,134.7 677.8,133.4 677.8,132.8 678.1,131.0 678.0,130.2 677.8,128.2 677.8,127.4 678.2,124.8 678.1,124.4 678.1,122.9 678.2,120.6 678.2,119.9 678.3,119.6 678.2,117.6 678.4,115.9 678.3,114.7 678.4,113.8 678.5,112.9 678.5,110.2 678.6,109.9 678.9,108.9 678.8,107.1 678.8,105.5 678.7,104.9 678.9,102.7 679.0,101.4 679.3,99.7 680.0,97.9 679.9,100.2 679.9,100.3 680.0,101.4 680.2,102.5 680.3,104.9 680.4,105.8 680.4,107.1 680.5,109.8 680.4,110.6 680.7,111.1 680.4,113.0 680.7,114.6 680.7,115.7 680.9,116.7 680.9,118.9 680.7,119.3 680.8,121.9 681.0,122.6 680.9,123.9 681.1,124.3 681.1,126.6 681.0,128.7 680.9,129.3 681.3,130.2 681.2,131.6 681.3,133.7 681.0,134.0 681.2,136.0 681.4,138.4 681.3,138.0 681.3,141.1 681.2,141.4 681.3,143.2 681.4,144.3 681.4,144.7 681.5,147.0 681.6,148.9 681.6,149.8 682.0,149.9 681.9,151.6 682.0,153.0 682.2,154.3 682.4,155.5 682.2,157.7 682.2,158.0 682.4,160.0 682.5,159.0 682.7,157.6 682.6,156.2 683.0,154.5 682.8,152.5 683.0,153.0 683.3,151.2 683.1,149.3 683.2,148.1 683.5,146.0 683.5,145.0 683.6,144.3 683.7,143.5 683.8,141.3 683.9,139.3 683.8,138.2 684.0,137.6 684.0,135.4 683.9,135.4 684.2,134.4 684.2,132.4 684.3,131.6 684.3,129.5 684.5,128.0 684.5,126.1 684.8,125.5 684.6,123.5 684.7,122.9 684.8,121.1 684.9,119.7 685.1,118.9 685.1,118.1 685.6,114.7 685.6,114.8 685.7,112.9 685.6,115.0 686.0,114.6 685.8,117.7 685.8,118.6 686.1,118.5 686.0,120.4 686.2,121.2 686.2,122.5 686.3,124.7 686.4,127.0 686.4,127.8 686.3,128.9 686.4,130.0 686.5,131.8 686.8,132.9 686.5,134.0 686.7,136.0 686.7,136.3 686.9,138.1 686.9,139.4 686.9,139.7 687.0,141.8 687.2,142.9 687.1,145.3 687.3,145.7 687.5,143.8 687.6,142.8 687.3,142.4 687.6,141.3 687.6,138.2 687.7,138.2 687.7,136.9 687.7,135.6 687.7,134.3 687.9,132.4 688.3,130.5 688.1,130.0 688.1,129.6 688.4,127.5 688.4,126.0 688.5,125.4 688.4,123.2 688.6,121.5 688.5,121.2 689.0,120.2 688.8,118.0 689.1,117.7 689.0,115.7 689.2,113.5 689.2,113.5 689.4,112.0 689.5,110.7 689.8,108.2 689.8,107.1 690.1,106.3 690.4,104.3 690.4,103.6 691.9,102.1 691.8,103.6 691.9,103.9 692.2,106.0 692.3,107.6 692.2,108.8 692.3,109.4 692.7,112.5 692.8,113.5 692.8,114.4 692.9,115.7 693.0,116.8 693.3,118.5 693.5,119.7 693.3,121.7 693.6,122.9 693.7,121.5 693.6,119.4 693.8,118.2 694.0,117.6 694.0,115.9 694.1,114.5 694.2,112.9 694.2,112.1 694.3,111.4 694.3,110.0 694.3,108.6 694.5,106.8 694.4,106.3 694.4,104.3 694.5,102.7 694.6,101.1 694.9,100.6 695.0,100.4 695.1,98.5 695.3,97.8 695.2,96.3 695.3,94.3 695.7,92.8 696.1,91.9 696.7,90.0 697.3,91.1 698.1,92.9 698.2,93.2 698.4,94.5 698.2,97.6 698.5,97.1 698.4,99.2 698.4,100.2 698.6,103.0 698.5,103.7 698.7,104.9 698.7,106.5 699.1,106.4 699.0,108.6 699.2,110.7 699.0,111.4 698.9,112.2 699.0,114.0 699.1,114.9 699.0,116.5 699.1,117.8 699.3,120.0"/><polyline id="p61" points="677.1,122.3 677.1,136.1 676.7,140.4 676.7,112.3 677.9,99.4 677.9,138.9 679.3,144.9 679.3,96.8 680.7,97.1 680.7,156.3 682.1,159.9 682.1,98.2 683.6,111.1 683.6,158.2 685.0,152.4 685.0,112.5 686.4,111.1 686.4,146.7 687.6,138.9 687.6,112.6 688.6,111.8 688.6,127.4 690.0,126.0 690.0,104.7 691.4,102.3 691.4,129.6 692.9,128.2 692.9,103.0 693.9,105.1 693.9,122.4 695.0,123.2 695.0,94.8 696.4,92.6 696.4,120.4 697.9,117.5 697.9,92.6 697.6,94.8 697.6,113.4"/></defs><defs><polyline id="p62" points="699.0,115.7 699.2,116.9 698.9,119.1 699.0,119.1 699.0,121.7 699.2,122.5 699.2,124.4 699.4,125.6 699.3,126.7 699.3,128.4 699.4,128.0 699.4,131.2 699.4,130.9 699.7,132.8 699.6,134.3 699.7,135.3 699.7,136.6 700.1,138.2 700.1,139.8 700.1,141.7 700.5,141.5 700.4,143.6 700.3,142.7 700.5,141.6 700.7,139.5 700.7,138.3 700.9,135.8 701.0,136.2 701.2,134.0 701.4,131.8 701.2,131.1 701.4,130.0 701.3,127.8 701.7,127.1 701.8,125.1 701.9,125.1 701.8,122.3 701.9,121.0 702.0,120.4 702.1,118.6 702.3,120.7 702.4,121.9 702.4,121.7 702.3,123.4 702.4,124.7 702.7,127.0 702.7,127.9 702.9,129.6 702.8,130.2 703.0,132.0 702.9,133.1 703.1,135.0 703.1,136.7 703.3,137.1 703.5,138.8 703.5,139.2 703.5,140.9 703.6,141.7 703.5,145.0 703.6,144.9 703.9,147.7 703.9,147.6 704.1,149.7 704.3,151.2 704.3,152.1 704.2,151.6 704.6,148.6 704.6,148.9 704.7,147.6 704.5,145.6 704.8,144.6 704.8,143.4 704.9,141.0 705.0,139.7 704.8,139.3 705.0,137.1 705.0,136.4 705.2,135.0 705.2,132.8 705.2,131.6 705.3,130.1 705.2,129.7 705.2,128.3 705.4,126.8 705.5,124.6 705.6,124.0 705.4,121.6 705.4,120.1 705.5,119.0 705.4,117.5 705.5,116.5 705.7,115.7 705.6,114.0 705.7,112.4 706.0,111.5 706.1,109.9 706.2,108.7 706.2,107.4 706.1,107.5 706.3,104.2 706.5,103.0 706.4,102.1 706.5,101.1 706.7,100.0 707.6,98.2 708.6,97.1 709.4,98.3 710.0,100.0 710.2,101.7 710.3,102.5 710.1,104.1 710.4,104.4 710.4,107.2 710.4,107.1 710.6,108.8 710.6,110.4 710.4,111.9 710.5,112.7 710.8,115.2 710.7,115.7 710.8,117.4 710.9,118.3 710.9,120.0 711.1,121.7 711.1,121.5 711.0,123.1 710.9,124.3 711.2,126.4 711.1,128.5 711.2,129.9 711.0,129.7 711.2,132.0 711.5,132.9 711.2,134.0 711.2,136.4 711.4,136.7 711.4,138.6 711.6,137.0 711.5,135.1 711.8,135.3 711.8,134.3 712.0,131.0 711.8,130.7 712.0,129.1 712.0,127.6 712.4,126.8 712.2,126.0 712.4,124.8 712.4,122.9 712.7,121.0 712.6,120.0 713.0,118.1 713.2,116.4 713.0,115.5 713.2,113.5 713.4,111.9 713.6,111.4 714.5,110.1 715.3,108.6 715.6,110.5 716.2,111.5 716.7,112.9 716.9,114.2 716.7,115.2 716.8,117.6 716.9,117.3 717.0,119.1 717.2,119.8 717.1,121.7 717.1,123.4 717.5,125.6 717.4,125.1 717.5,126.7 717.5,128.9 717.6,130.0 717.9,128.7 717.7,126.3 718.0,125.4 717.9,124.4 718.2,123.1 718.0,122.1 718.4,120.7 718.5,118.9 718.6,117.1 718.8,115.5 719.5,114.1 719.8,112.6 720.0,111.7 721.9,112.1"/><polyline id="p63" points="699.0,111.1 699.0,117.5 698.6,134.7 698.6,110.4 700.0,113.9 700.0,138.9 701.4,143.9 701.4,118.0 702.9,116.6 702.9,148.2 704.3,151.0 704.3,115.1 705.7,100.4 705.7,151.3 707.1,147.7 707.1,98.7 708.6,98.3 708.6,139.2 710.0,130.3 710.0,104.0 711.0,108.3 711.0,133.2 712.1,127.4 712.1,118.3 713.6,111.8 713.6,132.0 715.0,130.6 715.0,109.7 716.4,109.3 716.4,127.7 717.9,124.6 717.9,115.4 719.3,117.6 719.3,120.3 720.7,119.6 720.7,118.3 720.8,111.1 720.8,124.9"/></defs><defs><polyline id="p64" points="722.1,112.9 722.3,115.2 722.5,115.8 722.4,116.9 722.6,118.7 723.2,119.5 723.3,122.3 723.3,122.9 723.3,124.9 723.7,124.8 723.6,127.0 724.1,127.7 724.2,129.7 724.3,130.7 724.3,129.8 724.5,127.4 724.8,125.9 725.1,124.5 725.3,125.1 725.3,122.9 725.6,121.6 725.8,119.1 725.7,118.5 725.8,117.5 726.2,115.6 726.1,113.9 726.4,112.9 726.9,112.6 727.1,109.4 727.6,109.5 727.9,107.9 729.6,106.9 729.5,108.2 729.7,110.5 729.8,111.7 729.8,111.9 729.9,112.7 730.0,114.5 729.9,116.9 730.2,118.0 730.3,118.3 730.2,119.6 730.4,121.1 730.4,122.9 730.3,124.8 730.3,126.5 730.4,127.2 730.7,127.7 730.7,129.2 730.5,130.8 730.6,132.6 730.7,133.3 730.7,135.7 730.6,136.2 730.6,137.0 730.7,138.5 730.6,141.1 730.6,141.3 730.8,143.2 730.7,144.3 730.9,144.9 730.7,146.3 730.7,148.1 731.0,150.3 730.8,151.4 730.9,152.2 730.9,153.1 731.2,155.4 731.1,157.1 731.0,157.3 731.3,158.3 731.2,160.2 731.2,161.2 731.2,163.1 731.3,164.5 731.4,165.7 731.5,167.6 731.8,168.8 731.9,169.9 731.7,172.2 731.8,172.0 732.1,173.5 732.1,175.7 732.2,174.3 732.1,173.0 732.2,172.2 732.5,170.3 732.4,168.9 732.5,168.7 732.4,166.7 732.4,166.0 732.5,163.7 732.6,162.6 732.6,160.6 732.8,160.5 732.9,158.6 733.1,157.1 732.8,155.5 732.8,155.3 733.2,152.5 733.2,151.9 733.2,150.8 733.3,148.6 733.2,148.0 733.3,147.0 733.2,144.6 733.4,143.7 733.6,143.4 733.6,142.1 733.6,140.4 733.3,139.1 733.6,137.1 733.8,135.2 733.6,135.4 733.8,132.3 733.9,131.6 734.0,130.0 734.2,130.0 734.1,128.0 734.6,127.4 734.3,125.6 734.5,123.5 734.7,122.9 735.3,122.2 735.8,118.9 735.8,118.0 736.4,116.9 738.6,117.9 738.7,118.4 739.1,120.4 739.4,120.9 739.4,122.4 739.8,125.3 739.6,125.5 740.0,127.1 740.4,128.8 740.3,130.2 740.5,132.1 740.5,133.0 741.0,133.3 741.0,135.7 741.1,134.1 741.3,133.5 741.4,130.6 741.7,129.4 741.8,127.8 741.6,127.5 741.8,126.4 741.8,123.5 742.1,122.9 742.1,121.3 742.3,119.3 742.6,119.1 742.9,116.9 742.9,115.2 743.2,114.0 743.3,112.9 744.7,112.6 744.9,113.3 744.9,115.6 744.9,117.8 745.4,118.3 745.3,119.7 745.5,121.1 745.7,122.9 745.7,123.6 745.6,124.9 745.7,126.5 745.9,127.9 745.8,130.2 746.1,131.0 746.2,132.9 746.1,134.3"/><polyline id="p65" points="722.8,114.8 722.8,122.4 722.9,126.7 722.9,114.1 724.3,114.8 724.3,128.1 725.7,133.4 725.7,115.4 727.1,110.4 727.1,134.9 728.6,137.7 728.6,108.3 730.0,107.0 730.0,163.2 731.4,176.1 731.4,108.0 732.9,114.4 732.9,176.8 733.9,170.4 733.9,122.6 735.0,123.3 735.0,134.6 736.4,133.9 736.4,122.8 737.9,118.0 737.9,127.4 739.3,128.9 739.3,117.3 740.7,114.4 740.7,130.3 742.1,137.7 742.1,112.3 743.6,112.3 743.6,139.2 745.0,139.2 745.0,114.4 744.8,129.7 744.8,133.4"/></defs><defs><polyline id="p66" points="745.0,126.4 744.9,128.5 745.1,128.4 745.1,129.5 745.1,132.5 745.2,133.1 745.1,134.3 745.5,136.6 745.4,138.1 745.6,137.7 745.6,139.3 745.6,141.0 745.5,141.8 745.8,144.5 745.6,145.7 745.7,146.4 745.9,147.5 746.0,149.8 745.9,151.3 746.0,151.3 746.3,153.8 746.1,154.6 746.1,156.4 746.2,158.2 746.4,158.6 746.7,156.9 746.8,155.8 746.8,155.3 746.7,152.2 746.9,151.9 747.2,149.9 747.0,148.1 747.1,147.2 747.4,146.4 747.6,144.9 747.4,143.1 747.5,141.9 747.4,141.0 747.5,140.7 747.6,137.5 747.4,137.5 747.7,135.9 747.9,134.0 747.6,132.9 747.9,132.5 747.8,130.8 747.7,128.9 747.7,127.9 747.9,126.5 747.9,125.0 748.5,123.1 748.9,122.1 749.0,123.9 749.1,124.9 749.0,125.9 749.2,127.0 749.4,129.1 749.5,129.9 749.3,131.9 749.6,131.9 749.6,134.9 749.5,135.1 749.4,137.0 749.6,137.7 749.7,139.3 749.6,141.3 749.6,142.8 749.7,143.1 749.7,143.6 749.7,145.1 749.7,146.6 749.9,148.6 750.1,149.8 750.1,150.9 750.2,151.9 750.0,153.1 750.0,155.0 750.3,156.8 750.1,157.2 750.3,159.2 750.4,161.1 750.1,162.3 750.3,162.9 750.2,161.1 750.4,159.6 750.5,158.2 750.6,156.9 750.7,157.0 750.5,153.8 750.6,152.7 751.0,152.5 750.9,151.5 750.8,148.2 750.9,148.4 751.1,146.4 751.3,144.8 751.4,143.5 751.4,143.0 751.5,141.2 751.4,139.1 751.5,139.3 751.8,137.8 751.7,134.7 751.7,135.3 751.8,133.3 751.9,131.8 752.0,130.3 751.9,129.9 752.0,127.9 752.3,125.9 752.1,125.0 752.1,122.7 752.2,121.9 752.4,120.2 752.7,119.9 752.7,119.4 752.6,117.0 753.0,116.7 753.0,114.2 753.1,112.4 752.9,112.1 753.1,110.7 753.6,108.4 754.6,107.3 755.0,106.0 755.6,108.4 756.4,109.3 756.3,111.3 756.5,111.5 756.7,112.8 756.8,113.8 756.5,115.3 756.9,116.9 756.6,118.4 756.6,120.2 756.8,122.1 757.0,122.8 756.9,125.0 756.9,126.3 757.0,125.9 756.9,128.6 757.3,128.5 757.0,131.4 757.1,132.1 757.3,132.8 757.2,135.0 757.4,136.0 757.4,138.4 757.6,138.4 757.7,139.8 757.5,141.4 757.8,142.0 757.9,144.8 757.8,145.5 758.0,147.5 758.0,147.4 758.0,149.2 758.1,151.8 758.0,153.2 758.2,154.1 758.3,155.0 758.6,156.8 759.0,157.1 759.2,158.6 759.6,159.4 759.7,161.4 759.6,159.4 759.6,158.0 759.8,157.7 759.9,155.3 759.8,154.0 760.1,153.2 760.1,152.0 760.3,150.9 760.1,150.3 760.2,148.6 760.4,146.2 760.3,145.5 760.3,143.6 760.4,143.7 760.7,142.6 760.7,140.0 760.6,139.3 760.4,138.1 760.9,135.7 760.7,135.0 760.9,134.5 760.9,133.2 760.7,131.7 761.1,129.5 760.8,129.2 761.2,126.3 761.1,125.5 761.2,124.5 761.4,123.9 761.1,122.1 761.2,119.8 761.5,119.0 761.4,117.9 761.8,117.3 762.0,114.9 761.9,113.2 762.0,112.2 762.6,109.8 762.8,108.3 762.9,107.9 763.4,108.9 763.5,111.6 764.0,112.1 764.0,113.4 764.3,115.8 764.0,116.5 764.0,117.6 764.2,119.3 764.4,120.4 764.5,121.4 764.3,121.9 764.4,124.6 764.3,125.0 764.7,126.5 764.8,128.6 764.5,129.0 764.8,131.2 764.7,132.1 764.7,133.5 764.9,135.2 765.0,136.0 765.1,137.8 765.0,139.8 765.1,140.2 764.9,140.7 765.3,142.9 765.2,143.6 765.2,145.4 765.4,147.2 765.3,147.7 765.4,148.8 765.6,151.6 765.8,152.6 765.5,154.5 765.7,155.0 765.9,157.1 766.0,157.0 766.1,158.3 766.5,160.7 766.8,162.4 766.9,163.6 767.1,161.2 767.4,160.6 767.3,159.5 767.7,157.9"/><polyline id="p67" points="745.7,126.8 745.7,150.3 745.7,157.4 745.7,125.4 747.1,124.0 747.1,158.2 748.6,154.5 748.6,122.3 750.0,121.6 750.0,160.2 751.4,153.1 751.4,120.1 752.6,123.2 752.6,141.1 753.6,138.2 753.6,111.8 755.0,110.6 755.0,135.4 756.4,151.3 756.4,106.6 757.9,108.7 757.9,157.0 759.3,161.3 759.3,120.1 760.3,126.1 760.3,159.9 761.4,145.6 761.4,113.9 762.9,112.5 762.9,142.7 764.3,144.6 764.3,109.7 765.3,114.0 765.3,156.0 766.4,161.7 766.4,126.8 767.4,148.9 767.4,164.6 766.9,156.0 766.9,151.8"/></defs><defs><polyline id="p68" points="766.9,143.6 767.1,141.3 767.1,140.9 766.9,138.8 767.0,137.8 767.2,136.0 767.4,135.7 767.2,133.3 767.4,132.1 767.6,130.8 767.8,129.7 768.1,127.2 768.5,126.0 768.6,125.0 769.4,124.5 770.3,122.9 771.7,120.7 771.8,118.6 771.9,117.1 772.1,115.5 772.1,115.6 772.4,113.5 772.6,111.4 772.6,110.7 772.7,108.8 773.2,107.6 773.1,106.1 773.6,105.0 773.5,102.9 773.7,103.2 773.8,101.3 773.9,99.8 774.1,97.8 773.9,96.6 774.1,95.4 774.1,93.9 774.4,92.9 774.5,91.3 774.4,90.0 774.6,89.3 774.7,87.4 774.5,85.7 774.6,84.5 774.6,83.6 774.7,84.8 774.7,86.5 774.8,87.4 774.8,88.7 774.8,91.1 774.6,91.8 774.8,92.9 774.9,94.2 774.9,96.4 774.9,97.1 775.1,99.5 775.2,100.5 775.2,102.5 775.2,104.0 775.3,104.2 775.4,105.7 775.5,106.2 775.3,108.9 775.3,108.8 775.2,111.8 775.2,112.1 775.0,114.3 774.9,115.7 775.0,116.5 775.0,117.9 775.0,119.8 774.9,119.8 774.6,122.5 774.7,122.6 774.5,124.1 774.6,126.2 774.3,127.4 774.4,127.8 774.1,129.6 773.9,131.3 774.0,132.1 773.8,133.4 773.9,134.5 773.4,137.2 773.2,138.7 773.3,138.4 773.3,140.2 772.9,143.0 772.9,143.6 772.5,144.9 772.6,146.9 772.1,148.6"/><polyline id="p69" points="767.4,141.1 767.4,145.6 767.1,148.4 767.1,126.8 768.6,125.4 768.6,149.2 770.0,148.9 770.0,123.0 771.1,121.6 771.1,148.2 772.1,147.4 772.1,107.3 772.9,83.2 772.9,146.7 774.3,144.6 774.3,82.5 775.7,82.9 775.7,127.4 776.9,108.2 776.9,106.8 776.0,105.4 776.0,105.4"/></defs>
<g stroke="#000" stroke-width="4.6"><use href="#p1" y="-0.9"/><use href="#p1" y="0.9"/><use href="#p2" y="-0.9"/><use href="#p2" y="0.9"/></g><g stroke="#00ffff" stroke-width="3.3"><use href="#p1" y="-0.9"/><use href="#p1" y="0.9"/><use href="#p2" y="-0.9"/><use href="#p2" y="0.9"/></g><path d="M123.2 169.0L123.2 150.0M127.1 120.5L127.2 127.3" stroke="#000" stroke-width="0.7" stroke-opacity="0.85"/><g fill="#000" fill-opacity="0.6" stroke="none"><circle cx="124.4" cy="159.5" r="0.55"/><circle cx="123.2" cy="147.7" r="0.55"/><circle cx="128.3" cy="129.5" r="0.55"/></g>
<g stroke="#000" stroke-width="4.6"><use href="#p3" y="-0.9"/><use href="#p3" y="0.9"/><use href="#p4" y="-0.9"/><use href="#p4" y="0.9"/><use href="#p5" y="-0.9"/><use href="#p5" y="0.9"/></g><g stroke="#32cd32" stroke-width="3.3"><use href="#p3" y="-0.9"/><use href="#p3" y="0.9"/><use href="#p4" y="-0.9"/><use href="#p4" y="0.9"/><use href="#p5" y="-0.9"/><use href="#p5" y="0.9"/></g><path d="M131.5 132.4L132.0 125.8M136.0 141.1L135.8 136.6" stroke="#000" stroke-width="0.7" stroke-opacity="0.85"/><g fill="#000" fill-opacity="0.6" stroke="none"><circle cx="129.6" cy="125.1" r="0.55"/></g><path d="M148.8 121.2L148.9 135.8" stroke="#000" stroke-width="0.7" stroke-opacity="0.85"/><g fill="#000" fill-opacity="0.6" stroke="none"><circle cx="148.8" cy="127.7" r="0.55"/></g>
<g stroke="#000" stroke-width="4.6"><use href="#p6" y="-0.9"/><use href="#p6" y="0.9"/><use href="#p7" y="-0.9"/><use href="#p7" y="0.9"/><use href="#p8" y="-0.9"/><use href="#p8" y="0.9"/></g><g stroke="#00ff00" stroke-width="3.3"><use href="#p6" y="-0.9"/><use href="#p6" y="0.9"/><use href="#p7" y="-0.9"/><use href="#p7" y="0.9"/><use href="#p8" y="-0.9"/><use href="#p8" y="0.9"/></g><path d="M156.0 152.7L155.7 145.4M161.0 120.5L161.4 126.6" stroke="#000" stroke-width="0.7" stroke-opacity="0.85"/><g fill="#000" fill-opacity="0.6" stroke="none"><circle cx="157.6" cy="145.3" r="0.55"/><circle cx="157.1" cy="141.5" r="0.55"/><circle cx="162.7" cy="141.2" r="0.55"/></g><path d="M166.7 140.7L167.3 150.8" stroke="#000" stroke-width="0.7" stroke-opacity="0.85"/><g fill="#000" fill-opacity="0.6" stroke="none"><circle cx="164.8" cy="145.0" r="0.55"/></g>
<g stroke="#000" stroke-width="4.6"><use href="#p9" y="-0.9"/><use href="#p9" y="0.9"/></g><g stroke="#ffff00" stroke-width="3.3"><use href="#p9" y="-0.9"/><use href="#p9" y="0.9"/></g>
<g stroke="#000" stroke-width="4.6"><use href="#p10" y="-0.9"/><use href="#p10" y="0.9"/><use href="#p11" y="-0.9"/><use href="#p11" y="0.9"/><use href="#p12" y="-0.9"/><use href="#p12" y="0.9"/></g><g stroke="#ff8c00" stroke-width="3.3"><use href="#p10" y="-0.9"/><use href="#p10" y="0.9"/><use href="#p11" y="-0.9"/><use href="#p11" y="0.9"/><use href="#p12" y="-0.9"/><use href="#p12" y="0.9"/></g><path d="M217.4 158.7L217.7 142.2" stroke="#000" stroke-width="0.7" stroke-opacity="0.85"/><g fill="#000" fill-opacity="0.6" stroke="none"><circle cx="217.9" cy="138.8" r="0.55"/><circle cx="217.9" cy="123.7" r="0.55"/></g>
<g stroke="#000" stroke-width="4.6"><use href="#p13" y="-0.9"/><use href="#p13" y="0.9"/><use href="#p14" y="-0.9"/><use href="#p14" y="0.9"/></g><g stroke="#ff4500" stroke-width="3.3"><use href="#p13" y="-0.9"/><use href="#p13" y="0.9"/><use href="#p14" y="-0.9"/><use href="#p14" y="0.9"/></g>
<g stroke="#000" stroke-width="4.6"><use href="#p15" y="-0.9"/><use href="#p15" y="0.9"/></g><g stroke="#ff0000" stroke-width="3.3"><use href="#p15" y="-0.9"/><use href="#p15" y="0.9"/></g>
<g stroke="#000" stroke-width="4.6"><use href="#p16" y="-0.9"/><use href="#p16" y="0.9"/><use href="#p17" y="-0.9"/><use href="#p17" y="0.9"/><use href="#p18" y="-0.9"/><use href="#p18" y="0.9"/></g><g stroke="#8b4513" stroke-width="3.3"><use href="#p16" y="-0.9"/><use href="#p16" y="0.9"/><use href="#p17" y="-0.9"/><use href="#p17" y="0.9"/><use href="#p18" y="-0.9"/><use href="#p18" y="0.9"/></g>
<g stroke="#000" stroke-width="4.6"><use href="#p19" y="-0.9"/><use href="#p19" y="0.9"/></g><g stroke="#000000" stroke-width="3.3"><use href="#p19" y="-0.9"/><use href="#p19" y="0.9"/></g>
<g stroke="#000" stroke-width="4.6"><use href="#p20" y="-0.9"/><use href="#p20" y="0.9"/><use href="#p21" y="-0.9"/><use href="#p21" y="0.9"/></g><g stroke="#483d8b" stroke-width="3.3"><use href="#p20" y="-0.9"/><use href="#p20" y="0.9"/><use href="#p21" y="-0.9"/><use href="#p21" y="0.9"/></g>
<g stroke="#000" stroke-width="4.6"><use href="#p22" y="-0.9"/><use href="#p22" y="0.9"/></g><g stroke="#0000ff" stroke-width="3.3"><use href="#p22" y="-0.9"/><use href="#p22" y="0.9"/></g>
<g stroke="#000" stroke-width="4.6"><use href="#p23" y="-0.9"/><use href="#p23" y="0.9"/><use href="#p24" y="-0.9"/><use href="#p24" y="0.9"/><use href="#p25" y="-0.9"/><use href="#p25" y="0.9"/></g><g stroke="#00bfff" stroke-width="3.3"><use href="#p23" y="-0.9"/><use href="#p23" y="0.9"/><use href="#p24" y="-0.9"/><use href="#p24" y="0.9"/><use href="#p25" y="-0.9"/><use href="#p25" y="0.9"/></g><path d="M363.4 108.5L363.5 120.2M368.6 103.2L368.8 110.9" stroke="#000" stroke-width="0.7" stroke-opacity="0.85"/><g fill="#000" fill-opacity="0.6" stroke="none"><circle cx="361.8" cy="111.7" r="0.55"/><circle cx="370.2" cy="116.9" r="0.55"/></g>
<g stroke="#000" stroke-width="4.6"><use href="#p26" y="-0.9"/><use href="#p26" y="0.9"/><use href="#p27" y="-0.9"/><use href="#p27" y="0.9"/><use href="#p28" y="-0.9"/><use href="#p28" y="0.9"/><use href="#p29" y="-0.9"/><use href="#p29" y="0.9"/></g><g stroke="#00ffff" stroke-width="3.3"><use href="#p26" y="-0.9"/><use href="#p26" y="0.9"/><use href="#p27" y="-0.9"/><use href="#p27" y="0.9"/><use href="#p28" y="-0.9"/><use href="#p28" y="0.9"/><use href="#p29" y="-0.9"/><use href="#p29" y="0.9"/></g><path d="M384.2 162.5L384.2 150.7" stroke="#000" stroke-width="0.7" stroke-opacity="0.85"/><g fill="#000" fill-opacity="0.6" stroke="none"><circle cx="383.2" cy="157.4" r="0.55"/></g><path d="M390.7 143.8L390.7 132.4M394.7 119.0L394.2 122.8" stroke="#000" stroke-width="0.7" stroke-opacity="0.85"/><g fill="#000" fill-opacity="0.6" stroke="none"><circle cx="388.9" cy="127.2" r="0.55"/></g>
<g stroke="#000" stroke-width="4.6"><use href="#p30" y="-0.9"/><use href="#p30" y="0.9"/><use href="#p31" y="-0.9"/><use href="#p31" y="0.9"/><use href="#p32" y="-0.9"/><use href="#p32" y="0.9"/><use href="#p33" y="-0.9"/><use href="#p33" y="0.9"/></g><g stroke="#32cd32" stroke-width="3.3"><use href="#p30" y="-0.9"/><use href="#p30" y="0.9"/><use href="#p31" y="-0.9"/><use href="#p31" y="0.9"/><use href="#p32" y="-0.9"/><use href="#p32" y="0.9"/><use href="#p33" y="-0.9"/><use href="#p33" y="0.9"/></g><path d="M406.3 127.2L406.9 134.3" stroke="#000" stroke-width="0.7" stroke-opacity="0.85"/><g fill="#000" fill-opacity="0.6" stroke="none"><circle cx="407.3" cy="129.6" r="0.55"/></g><path d="M418.6 151.7L418.5 143.1" stroke="#000" stroke-width="0.7" stroke-opacity="0.85"/><g fill="#000" fill-opacity="0.6" stroke="none"><circle cx="420.0" cy="140.7" r="0.55"/></g>
<g stroke="#000" stroke-width="4.6"><use href="#p34" y="-0.9"/><use href="#p34" y="0.9"/><use href="#p35" y="-0.9"/><use href="#p35" y="0.9"/><use href="#p36" y="-0.9"/><use href="#p36" y="0.9"/><use href="#p37" y="-0.9"/><use href="#p37" y="0.9"/><use href="#p38" y="-0.9"/><use href="#p38" y="0.9"/></g><g stroke="#00ff00" stroke-width="3.3"><use href="#p34" y="-0.9"/><use href="#p34" y="0.9"/><use href="#p35" y="-0.9"/><use href="#p35" y="0.9"/><use href="#p36" y="-0.9"/><use href="#p36" y="0.9"/><use href="#p37" y="-0.9"/><use href="#p37" y="0.9"/><use href="#p38" y="-0.9"/><use href="#p38" y="0.9"/></g><path d="M427.6 143.6L427.8 158.4" stroke="#000" stroke-width="0.7" stroke-opacity="0.85"/><g fill="#000" fill-opacity="0.6" stroke="none"><circle cx="425.6" cy="161.9" r="0.55"/><circle cx="428.1" cy="169.0" r="0.55"/></g><path d="M431.8 143.3L432.3 137.6M435.4 130.7L435.3 133.2" stroke="#000" stroke-width="0.7" stroke-opacity="0.85"/><path d="M445.4 105.1L445.4 116.9" stroke="#000" stroke-width="0.7" stroke-opacity="0.85"/><g fill="#000" fill-opacity="0.6" stroke="none"><circle cx="444.1" cy="111.9" r="0.55"/></g>
<g stroke="#000" stroke-width="4.6"><use href="#p39" y="-0.9"/><use href="#p39" y="0.9"/><use href="#p40" y="-0.9"/><use href="#p40" y="0.9"/><use href="#p41" y="-0.9"/><use href="#p41" y="0.9"/></g><g stroke="#ffff00" stroke-width="3.3"><use href="#p39" y="-0.9"/><use href="#p39" y="0.9"/><use href="#p40" y="-0.9"/><use href="#p40" y="0.9"/><use href="#p41" y="-0.9"/><use href="#p41" y="0.9"/></g><path d="M451.3 126.5L451.5 130.7M454.7 130.3L455.0 134.0M459.7 161.7L459.4 156.1" stroke="#000" stroke-width="0.7" stroke-opacity="0.85"/><g fill="#000" fill-opacity="0.6" stroke="none"><circle cx="452.4" cy="133.8" r="0.55"/></g>
<g stroke="#000" stroke-width="4.6"><use href="#p42" y="-0.9"/><use href="#p42" y="0.9"/><use href="#p43" y="-0.9"/><use href="#p43" y="0.9"/></g><g stroke="#ff8c00" stroke-width="3.3"><use href="#p42" y="-0.9"/><use href="#p42" y="0.9"/><use href="#p43" y="-0.9"/><use href="#p43" y="0.9"/></g>
<g stroke="#000" stroke-width="4.6"><use href="#p44" y="-0.9"/><use href="#p44" y="0.9"/><use href="#p45" y="-0.9"/><use href="#p45" y="0.9"/><use href="#p46" y="-0.9"/><use href="#p46" y="0.9"/></g><g stroke="#ff4500" stroke-width="3.3"><use href="#p44" y="-0.9"/><use href="#p44" y="0.9"/><use href="#p45" y="-0.9"/><use href="#p45" y="0.9"/><use href="#p46" y="-0.9"/><use href="#p46" y="0.9"/></g>
<g stroke="#000" stroke-width="4.6"><use href="#p47" y="-0.9"/><use href="#p47" y="0.9"/><use href="#p48" y="-0.9"/><use href="#p48" y="0.9"/><use href="#p49" y="-0.9"/><use href="#p49" y="0.9"/></g><g stroke="#ff0000" stroke-width="3.3"><use href="#p47" y="-0.9"/><use href="#p47" y="0.9"/><use href="#p48" y="-0.9"/><use href="#p48" y="0.9"/><use href="#p49" y="-0.9"/><use href="#p49" y="0.9"/></g>
<g stroke="#000" stroke-width="4.6"><use href="#p50" y="-0.9"/><use href="#p50" y="0.9"/><use href="#p51" y="-0.9"/><use href="#p51" y="0.9"/></g><g stroke="#8b4513" stroke-width="3.3"><use href="#p50" y="-0.9"/><use href="#p50" y="0.9"/><use href="#p51" y="-0.9"/><use href="#p51" y="0.9"/></g>
<g stroke="#000" stroke-width="4.6"><use href="#p52" y="-0.9"/><use href="#p52" y="0.9"/></g><g stroke="#000000" stroke-width="3.3"><use href="#p52" y="-0.9"/><use href="#p52" y="0.9"/></g>
<g stroke="#000" stroke-width="4.6"><use href="#p53" y="-0.9"/><use href="#p53" y="0.9"/></g><g stroke="#483d8b" stroke-width="3.3"><use href="#p53" y="-0.9"/><use href="#p53" y="0.9"/></g>
<g stroke="#000" stroke-width="4.6"><use href="#p54" y="-0.9"/><use href="#p54" y="0.9"/></g><g stroke="#0000ff" stroke-width="3.3"><use href="#p54" y="-0.9"/><use href="#p54" y="0.9"/></g>
<g stroke="#000" stroke-width="4.6"><use href="#p55" y="-0.9"/><use href="#p55" y="0.9"/></g><g stroke="#00bfff" stroke-width="3.3"><use href="#p55" y="-0.9"/><use href="#p55" y="0.9"/></g>
<g stroke="#000" stroke-width="4.6"><use href="#p56" y="-0.9"/><use href="#p56" y="0.9"/><use href="#p57" y="-0.9"/><use href="#p57" y="0.9"/><use href="#p58" y="-0.9"/><use href="#p58" y="0.9"/><use href="#p59" y="-0.9"/><use href="#p59" y="0.9"/></g><g stroke="#00ffff" stroke-width="3.3"><use href="#p56" y="-0.9"/><use href="#p56" y="0.9"/><use href="#p57" y="-0.9"/><use href="#p57" y="0.9"/><use href="#p58" y="-0.9"/><use href="#p58" y="0.9"/><use href="#p59" y="-0.9"/><use href="#p59" y="0.9"/></g><path d="M654.8 138.2L654.8 157.2" stroke="#000" stroke-width="0.7" stroke-opacity="0.85"/><g fill="#000" fill-opacity="0.6" stroke="none"><circle cx="656.6" cy="143.5" r="0.55"/><circle cx="655.2" cy="156.9" r="0.55"/><circle cx="655.7" cy="171.9" r="0.55"/><circle cx="654.0" cy="163.1" r="0.55"/><circle cx="654.9" cy="158.6" r="0.55"/><circle cx="653.0" cy="166.9" r="0.55"/></g><path d="M667.0 133.4L666.5 125.4M671.5 115.8L671.2 127.4" stroke="#000" stroke-width="0.7" stroke-opacity="0.85"/><g fill="#000" fill-opacity="0.6" stroke="none"><circle cx="665.3" cy="127.4" r="0.55"/><circle cx="668.0" cy="119.4" r="0.55"/><circle cx="667.5" cy="110.1" r="0.55"/><circle cx="667.6" cy="119.3" r="0.55"/><circle cx="671.3" cy="125.3" r="0.55"/><circle cx="672.4" cy="142.7" r="0.55"/><circle cx="672.4" cy="131.7" r="0.55"/><circle cx="670.5" cy="129.5" r="0.55"/><circle cx="671.5" cy="137.1" r="0.55"/></g>
<g stroke="#000" stroke-width="4.6"><use href="#p60" y="-0.9"/><use href="#p60" y="0.9"/><use href="#p61" y="-0.9"/><use href="#p61" y="0.9"/></g><g stroke="#32cd32" stroke-width="3.3"><use href="#p60" y="-0.9"/><use href="#p60" y="0.9"/><use href="#p61" y="-0.9"/><use href="#p61" y="0.9"/></g><path d="M678.7 146.8L679.1 127.9M683.3 107.2L683.8 119.7M687.5 109.1L687.4 129.4M692.5 100.3L692.5 109.3M696.8 87.6L697.1 100.8" stroke="#000" stroke-width="0.7" stroke-opacity="0.85"/><g fill="#000" fill-opacity="0.6" stroke="none"><circle cx="679.2" cy="133.5" r="0.55"/><circle cx="679.3" cy="138.2" r="0.55"/><circle cx="679.5" cy="130.0" r="0.55"/><circle cx="677.7" cy="140.9" r="0.55"/><circle cx="678.2" cy="126.8" r="0.55"/><circle cx="680.0" cy="143.1" r="0.55"/><circle cx="680.6" cy="98.4" r="0.55"/><circle cx="677.9" cy="112.6" r="0.55"/><circle cx="678.2" cy="104.9" r="0.55"/><circle cx="683.1" cy="114.7" r="0.55"/><circle cx="685.1" cy="144.8" r="0.55"/><circle cx="682.1" cy="126.2" r="0.55"/><circle cx="683.9" cy="143.7" r="0.55"/><circle cx="682.3" cy="157.3" r="0.55"/><circle cx="682.6" cy="122.1" r="0.55"/><circle cx="684.7" cy="117.0" r="0.55"/><circle cx="684.0" cy="119.4" r="0.55"/><circle cx="683.7" cy="123.3" r="0.55"/><circle cx="686.6" cy="117.1" r="0.55"/><circle cx="687.1" cy="120.5" r="0.55"/><circle cx="686.3" cy="144.1" r="0.55"/><circle cx="685.7" cy="139.0" r="0.55"/><circle cx="689.3" cy="135.3" r="0.55"/><circle cx="685.6" cy="128.3" r="0.55"/><circle cx="685.7" cy="132.0" r="0.55"/><circle cx="691.7" cy="114.9" r="0.55"/><circle cx="694.0" cy="112.6" r="0.55"/><circle cx="691.0" cy="124.3" r="0.55"/><circle cx="693.8" cy="117.0" r="0.55"/><circle cx="690.7" cy="107.5" r="0.55"/><circle cx="698.5" cy="115.6" r="0.55"/><circle cx="694.8" cy="106.7" r="0.55"/><circle cx="695.1" cy="116.1" r="0.55"/><circle cx="697.7" cy="111.9" r="0.55"/><circle cx="695.5" cy="91.4" r="0.55"/><circle cx="698.0" cy="107.4" r="0.55"/></g>
<g stroke="#000" stroke-width="4.6"><use href="#p62" y="-0.9"/><use href="#p62" y="0.9"/><use href="#p63" y="-0.9"/><use href="#p63" y="0.9"/></g><g stroke="#00ff00" stroke-width="3.3"><use href="#p62" y="-0.9"/><use href="#p62" y="0.9"/><use href="#p63" y="-0.9"/><use href="#p63" y="0.9"/></g><path d="M700.5 113.7L700.2 129.4M704.0 153.9L704.2 138.6M708.6 94.8L708.8 114.5M712.7 135.3L713.0 124.5M716.9 106.2L716.6 111.9" stroke="#000" stroke-width="0.7" stroke-opacity="0.85"/><g fill="#000" fill-opacity="0.6" stroke="none"><circle cx="699.7" cy="133.7" r="0.55"/><circle cx="702.1" cy="117.7" r="0.55"/><circle cx="698.8" cy="130.4" r="0.55"/><circle cx="701.2" cy="121.1" r="0.55"/><circle cx="699.6" cy="117.3" r="0.55"/><circle cx="702.4" cy="149.4" r="0.55"/><circle cx="704.1" cy="130.0" r="0.55"/><circle cx="704.8" cy="141.9" r="0.55"/><circle cx="704.1" cy="117.8" r="0.55"/><circle cx="705.3" cy="122.8" r="0.55"/><circle cx="702.2" cy="128.0" r="0.55"/><circle cx="707.2" cy="133.3" r="0.55"/><circle cx="709.8" cy="135.7" r="0.55"/><circle cx="709.3" cy="106.1" r="0.55"/><circle cx="709.7" cy="135.5" r="0.55"/><circle cx="708.7" cy="135.8" r="0.55"/><circle cx="710.4" cy="113.5" r="0.55"/><circle cx="710.3" cy="137.0" r="0.55"/><circle cx="709.7" cy="97.3" r="0.55"/><circle cx="711.4" cy="131.8" r="0.55"/><circle cx="712.9" cy="130.7" r="0.55"/><circle cx="711.6" cy="133.3" r="0.55"/><circle cx="713.0" cy="128.4" r="0.55"/><circle cx="713.7" cy="130.7" r="0.55"/><circle cx="718.2" cy="115.8" r="0.55"/><circle cx="715.5" cy="108.7" r="0.55"/><circle cx="716.6" cy="120.4" r="0.55"/><circle cx="715.0" cy="122.2" r="0.55"/></g>
<g stroke="#000" stroke-width="4.6"><use href="#p64" y="-0.9"/><use href="#p64" y="0.9"/><use href="#p65" y="-0.9"/><use href="#p65" y="0.9"/></g><g stroke="#ffff00" stroke-width="3.3"><use href="#p64" y="-0.9"/><use href="#p64" y="0.9"/><use href="#p65" y="-0.9"/><use href="#p65" y="0.9"/></g><path d="M723.6 132.4L724.1 120.4M728.0 105.6L727.7 116.8M732.7 178.0L732.3 151.1M736.2 135.3L735.8 128.9M741.1 139.2L741.0 130.4" stroke="#000" stroke-width="0.7" stroke-opacity="0.85"/><g fill="#000" fill-opacity="0.6" stroke="none"><circle cx="722.1" cy="116.0" r="0.55"/><circle cx="723.3" cy="123.6" r="0.55"/><circle cx="724.7" cy="125.7" r="0.55"/><circle cx="724.2" cy="116.3" r="0.55"/><circle cx="727.8" cy="108.7" r="0.55"/><circle cx="729.3" cy="124.9" r="0.55"/><circle cx="729.2" cy="129.3" r="0.55"/><circle cx="728.9" cy="136.9" r="0.55"/><circle cx="727.5" cy="119.2" r="0.55"/><circle cx="726.0" cy="127.2" r="0.55"/><circle cx="733.6" cy="164.2" r="0.55"/><circle cx="732.6" cy="116.5" r="0.55"/><circle cx="732.1" cy="165.1" r="0.55"/><circle cx="732.7" cy="142.1" r="0.55"/><circle cx="732.2" cy="152.6" r="0.55"/><circle cx="733.1" cy="156.7" r="0.55"/><circle cx="734.1" cy="160.3" r="0.55"/><circle cx="732.2" cy="128.8" r="0.55"/><circle cx="733.8" cy="163.0" r="0.55"/><circle cx="734.4" cy="125.6" r="0.55"/><circle cx="734.1" cy="169.1" r="0.55"/><circle cx="735.3" cy="127.9" r="0.55"/><circle cx="735.4" cy="120.1" r="0.55"/><circle cx="735.1" cy="124.8" r="0.55"/><circle cx="737.1" cy="120.1" r="0.55"/><circle cx="739.7" cy="114.6" r="0.55"/><circle cx="741.9" cy="123.2" r="0.55"/><circle cx="739.6" cy="134.4" r="0.55"/><circle cx="741.8" cy="113.8" r="0.55"/></g>
<g stroke="#000" stroke-width="4.6"><use href="#p66" y="-0.9"/><use href="#p66" y="0.9"/><use href="#p67" y="-0.9"/><use href="#p67" y="0.9"/></g><g stroke="#ff8c00" stroke-width="3.3"><use href="#p66" y="-0.9"/><use href="#p66" y="0.9"/><use href="#p67" y="-0.9"/><use href="#p67" y="0.9"/></g><path d="M747.5 161.2L748.0 146.6M750.9 118.1L750.6 136.2M756.2 104.0L756.2 117.3M760.7 114.4L760.5 132.7M764.3 148.3L764.6 125.7" stroke="#000" stroke-width="0.7" stroke-opacity="0.85"/><g fill="#000" fill-opacity="0.6" stroke="none"><circle cx="748.0" cy="145.7" r="0.55"/><circle cx="746.9" cy="135.1" r="0.55"/><circle cx="748.5" cy="145.7" r="0.55"/><circle cx="747.3" cy="141.2" r="0.55"/><circle cx="746.4" cy="151.4" r="0.55"/><circle cx="751.3" cy="123.5" r="0.55"/><circle cx="750.9" cy="126.5" r="0.55"/><circle cx="752.1" cy="132.7" r="0.55"/><circle cx="750.2" cy="128.4" r="0.55"/><circle cx="749.1" cy="127.3" r="0.55"/><circle cx="749.5" cy="144.2" r="0.55"/><circle cx="755.8" cy="139.3" r="0.55"/><circle cx="755.0" cy="136.7" r="0.55"/><circle cx="756.3" cy="109.7" r="0.55"/><circle cx="755.2" cy="132.3" r="0.55"/><circle cx="754.6" cy="114.9" r="0.55"/><circle cx="756.5" cy="141.9" r="0.55"/><circle cx="762.4" cy="130.1" r="0.55"/><circle cx="761.9" cy="117.7" r="0.55"/><circle cx="760.7" cy="150.7" r="0.55"/><circle cx="761.8" cy="138.7" r="0.55"/><circle cx="759.5" cy="152.0" r="0.55"/><circle cx="763.0" cy="121.2" r="0.55"/><circle cx="765.0" cy="133.2" r="0.55"/><circle cx="763.9" cy="138.7" r="0.55"/><circle cx="762.5" cy="119.2" r="0.55"/><circle cx="762.7" cy="120.6" r="0.55"/><circle cx="765.5" cy="136.9" r="0.55"/></g>
<g stroke="#000" stroke-width="4.6"><use href="#p68" y="-0.9"/><use href="#p68" y="0.9"/><use href="#p69" y="-0.9"/><use href="#p69" y="0.9"/></g><g stroke="#ff4500" stroke-width="3.3"><use href="#p68" y="-0.9"/><use href="#p68" y="0.9"/><use href="#p69" y="-0.9"/><use href="#p69" y="0.9"/></g><path d="M768.6 151.7L768.5 144.5M772.5 94.8L772.2 115.7" stroke="#000" stroke-width="0.7" stroke-opacity="0.85"/><g fill="#000" fill-opacity="0.6" stroke="none"><circle cx="768.1" cy="146.2" r="0.55"/><circle cx="768.3" cy="141.7" r="0.55"/><circle cx="769.1" cy="136.1" r="0.55"/><circle cx="768.8" cy="133.3" r="0.55"/><circle cx="774.1" cy="118.9" r="0.55"/><circle cx="771.3" cy="98.5" r="0.55"/><circle cx="771.3" cy="141.8" r="0.55"/><circle cx="771.8" cy="131.4" r="0.55"/><circle cx="771.4" cy="130.5" r="0.55"/><circle cx="772.3" cy="135.0" r="0.55"/><circle cx="772.6" cy="116.3" r="0.55"/></g>
<circle cx="118.0" cy="142.4" r="2.45" fill="#000"/><circle cx="118.0" cy="142.4" r="1.8" fill="#00ffff"/>
<circle cx="325.3" cy="205.8" r="2.45" fill="#000"/><circle cx="325.3" cy="205.8" r="1.8" fill="#483d8b"/>
<circle cx="325.3" cy="213.4" r="2.45" fill="#000"/><circle cx="325.3" cy="213.4" r="1.8" fill="#483d8b"/>
<circle cx="325.3" cy="217.0" r="2.45" fill="#000"/><circle cx="325.3" cy="217.0" r="1.8" fill="#483d8b"/>
<circle cx="325.3" cy="220.7" r="2.45" fill="#000"/><circle cx="325.3" cy="220.7" r="1.8" fill="#483d8b"/>
<circle cx="325.3" cy="224.3" r="2.45" fill="#000"/><circle cx="325.3" cy="224.3" r="1.8" fill="#483d8b"/>
<circle cx="579.3" cy="210.7" r="2.45" fill="#000"/><circle cx="579.3" cy="210.7" r="1.8" fill="#000000"/>
<circle cx="662.2" cy="182.0" r="2.45" fill="#000"/><circle cx="662.2" cy="182.0" r="1.8" fill="#00ffff"/>
<circle cx="662.2" cy="186.5" r="2.45" fill="#000"/><circle cx="662.2" cy="186.5" r="1.8" fill="#00ffff"/>
<circle cx="662.2" cy="191.0" r="2.45" fill="#000"/><circle cx="662.2" cy="191.0" r="1.8" fill="#00ffff"/>
<circle cx="662.2" cy="195.5" r="2.45" fill="#000"/><circle cx="662.2" cy="195.5" r="1.8" fill="#00ffff"/>
<circle cx="672.4" cy="154.3" r="2.45" fill="#000"/><circle cx="672.4" cy="154.3" r="1.8" fill="#00ffff"/>
<circle cx="677.6" cy="149.6" r="2.45" fill="#000"/><circle cx="677.6" cy="149.6" r="1.8" fill="#32cd32"/>
<circle cx="690.4" cy="138.3" r="2.45" fill="#000"/><circle cx="690.4" cy="138.3" r="1.8" fill="#32cd32"/>
<circle cx="705.7" cy="154.3" r="2.45" fill="#000"/><circle cx="705.7" cy="154.3" r="1.8" fill="#00ff00"/>
<circle cx="711.9" cy="142.9" r="2.45" fill="#000"/><circle cx="711.9" cy="142.9" r="1.8" fill="#00ff00"/>
<circle cx="717.6" cy="134.3" r="2.45" fill="#000"/><circle cx="717.6" cy="134.3" r="1.8" fill="#00ff00"/>
<circle cx="750.4" cy="167.3" r="2.45" fill="#000"/><circle cx="750.4" cy="167.3" r="1.8" fill="#ff8c00"/>
<circle cx="750.4" cy="170.2" r="2.45" fill="#000"/><circle cx="750.4" cy="170.2" r="1.8" fill="#ff8c00"/>
<circle cx="760.0" cy="165.7" r="2.45" fill="#000"/><circle cx="760.0" cy="165.7" r="1.8" fill="#ff8c00"/>
<circle cx="760.0" cy="170.7" r="2.45" fill="#000"/><circle cx="760.0" cy="170.7" r="1.8" fill="#ff8c00"/>
<circle cx="767.4" cy="168.6" r="2.45" fill="#000"/><circle cx="767.4" cy="168.6" r="1.8" fill="#ff8c00"/>
<circle cx="771.4" cy="157.4" r="2.45" fill="#000"/><circle cx="771.4" cy="157.4" r="1.8" fill="#ff4500"/>
<circle cx="777.6" cy="152.4" r="2.45" fill="#000"/><circle cx="777.6" cy="152.4" r="1.8" fill="#ff4500"/>
<circle cx="823.5" cy="118.3" r="2.45" fill="#000"/><circle cx="823.5" cy="118.3" r="1.8" fill="#8b4513"/>
</g>
<path d="M105.5 266.5v5.3M127.5 266.5v5.3M151.5 266.5v5.3M173.5 266.5v5.3M196.5 266.5v5.3M219.5 266.5v5.3M242.5 266.5v5.3M265.5 266.5v5.3M287.5 266.5v5.3M310.5 266.5v5.3M333.5 266.5v5.3M354.5 266.5v5.3M378.5 266.5v5.3M400.5 266.5v5.3M423.5 266.5v5.3M445.5 266.5v5.3M469.5 266.5v5.3M492.5 266.5v5.3M514.5 266.5v5.3M537.5 266.5v5.3M560.5 266.5v5.3M583.5 266.5v5.3M606.5 266.5v5.3M628.5 266.5v5.3M651.5 266.5v5.3M673.5 266.5v5.3M696.5 266.5v5.3M719.5 266.5v5.3M742.5 266.5v5.3M765.5 266.5v5.3M787.5 266.5v5.3M811.5 266.5v5.3M833.5 266.5v5.3M856.5 266.5v5.3M83.5 33.5h-5.3M83.5 66.5h-5.3M83.5 100.5h-5.3M83.5 133.5h-5.3M83.5 166.5h-5.3M83.5 200.5h-5.3M83.5 233.5h-5.3M83.5 266.5h-5.3" stroke="#000" stroke-width="1.11" fill="none"/>
<rect x="83.5" y="33.5" width="775.0" height="233.0" fill="none" stroke="#000" stroke-width="1.11"/>
<text class="xt" text-anchor="end" transform="translate(112.40,279.90) rotate(-85)">04/28/18</text>
<text class="xt" text-anchor="end" transform="translate(134.40,279.90) rotate(-85)">05/28/18</text>
<text class="xt" text-anchor="end" transform="translate(158.40,279.90) rotate(-85)">06/28/18</text>
<text class="xt" text-anchor="end" transform="translate(180.40,279.90) rotate(-85)">07/28/18</text>
<text class="xt" text-anchor="end" transform="translate(203.40,279.90) rotate(-85)">08/28/18</text>
<text class="xt" text-anchor="end" transform="translate(226.40,279.90) rotate(-85)">09/28/18</text>
<text class="xt" text-anchor="end" transform="translate(249.40,279.90) rotate(-85)">10/28/18</text>
<text class="xt" text-anchor="end" transform="translate(272.40,279.90) rotate(-85)">11/28/18</text>
<text class="xt" text-anchor="end" transform="translate(294.40,279.90) rotate(-85)">12/28/18</text>
<text class="xt" text-anchor="end" transform="translate(317.40,279.90) rotate(-85)">01/28/19</text>
<text class="xt" text-anchor="end" transform="translate(340.40,279.90) rotate(-85)">02/28/19</text>
<text class="xt" text-anchor="end" transform="translate(361.40,279.90) rotate(-85)">03/28/19</text>
<text class="xt" text-anchor="end" transform="translate(385.40,279.90) rotate(-85)">04/28/19</text>
<text class="xt" text-anchor="end" transform="translate(407.40,279.90) rotate(-85)">05/28/19</text>
<text class="xt" text-anchor="end" transform="translate(430.40,279.90) rotate(-85)">06/28/19</text>
<text class="xt" text-anchor="end" transform="translate(452.40,279.90) rotate(-85)">07/28/19</text>
<text class="xt" text-anchor="end" transform="translate(476.40,279.90) rotate(-85)">08/28/19</text>
<text class="xt" text-anchor="end" transform="translate(499.40,279.90) rotate(-85)">09/28/19</text>
<text class="xt" text-anchor="end" transform="translate(521.40,279.90) rotate(-85)">10/28/19</text>
<text class="xt" text-anchor="end" transform="translate(544.40,279.90) rotate(-85)">11/28/19</text>
<text class="xt" text-anchor="end" transform="translate(567.40,279.90) rotate(-85)">12/28/19</text>
<text class="xt" text-anchor="end" transform="translate(590.40,279.90) rotate(-85)">01/28/20</text>
<text class="xt" text-anchor="end" transform="translate(613.40,279.90) rotate(-85)">02/28/20</text>
<text class="xt" text-anchor="end" transform="translate(635.40,279.90) rotate(-85)">03/28/20</text>
<text class="xt" text-anchor="end" transform="translate(658.40,279.90) rotate(-85)">04/28/20</text>
<text class="xt" text-anchor="end" transform="translate(680.40,279.90) rotate(-85)">05/28/20</text>
<text class="xt" text-anchor="end" transform="translate(703.40,279.90) rotate(-85)">06/28/20</text>
<text class="xt" text-anchor="end" transform="translate(726.40,279.90) rotate(-85)">07/28/20</text>
<text class="xt" text-anchor="end" transform="translate(749.40,279.90) rotate(-85)">08/28/20</text>
<text class="xt" text-anchor="end" transform="translate(772.40,279.90) rotate(-85)">09/28/20</text>
<text class="xt" text-anchor="end" transform="translate(794.40,279.90) rotate(-85)">10/28/20</text>
<text class="xt" text-anchor="end" transform="translate(818.40,279.90) rotate(-85)">11/28/20</text>
<text class="xt" text-anchor="end" transform="translate(840.40,279.90) rotate(-85)">12/28/20</text>
<text class="xt" text-anchor="end" transform="translate(863.40,279.90) rotate(-85)">01/28/21</text>
<text class="yt" text-anchor="end" x="72.40" y="38.70">1080</text>
<text class="yt" text-anchor="end" x="72.40" y="72.40">1060</text>
<text class="yt" text-anchor="end" x="72.40" y="105.70">1040</text>
<text class="yt" text-anchor="end" x="72.40" y="138.70">1020</text>
<text class="yt" text-anchor="end" x="72.40" y="171.70">1000</text>
<text class="yt" text-anchor="end" x="72.40" y="205.70">980</text>
<text class="yt" text-anchor="end" x="72.40" y="238.70">960</text>
<text class="yt" text-anchor="end" x="72.40" y="271.70">940</text>
<text class="yl" text-anchor="middle" transform="translate(20.50,151.90) rotate(-90)">Sea Level Pressure</text>
<text class="tt" style="font-size:20.05px" text-anchor="middle" x="470.50" y="24.90" xml:space="preserve">Sea Level Pressure 300234063357050  05/15/2018 to 12/14/2020</text>
<path d="M105.5 383.5V617.5M127.5 383.5V617.5M151.5 383.5V617.5M173.5 383.5V617.5M196.5 383.5V617.5M219.5 383.5V617.5M242.5 383.5V617.5M265.5 383.5V617.5M287.5 383.5V617.5M310.5 383.5V617.5M333.5 383.5V617.5M354.5 383.5V617.5M378.5 383.5V617.5M400.5 383.5V617.5M423.5 383.5V617.5M445.5 383.5V617.5M469.5 383.5V617.5M492.5 383.5V617.5M514.5 383.5V617.5M537.5 383.5V617.5M560.5 383.5V617.5M583.5 383.5V617.5M606.5 383.5V617.5M628.5 383.5V617.5M651.5 383.5V617.5M673.5 383.5V617.5M696.5 383.5V617.5M719.5 383.5V617.5M742.5 383.5V617.5M765.5 383.5V617.5M787.5 383.5V617.5M811.5 383.5V617.5M833.5 383.5V617.5M856.5 383.5V617.5M83.5 383.5H858.5M83.5 422.5H858.5M83.5 461.5H858.5M83.5 500.5H858.5M83.5 539.5H858.5M83.5 578.5H858.5M83.5 617.5H858.5" stroke="#b0b0b0" stroke-width="1.11" fill="none"/>
<g clip-path="url(#c2)" fill="none" stroke-linejoin="round" stroke-linecap="round" shape-rendering="auto">
<defs><polyline id="p70" points="122.0,425.1 123.3,424.9 124.6,426.0 126.1,426.9 127.1,427.4 128.3,426.1 129.2,426.0"/></defs><defs><polyline id="p71" points="130.2,424.3 130.8,422.8 131.7,421.4 132.3,420.9 133.0,420.3 133.4,418.4 134.0,417.4 134.7,416.5 135.4,415.4 136.1,416.3 137.1,417.4 139.1,418.3 140.3,418.5 141.7,417.4 142.5,419.0 143.4,419.5 144.5,420.6 145.7,421.7 146.8,421.8 148.1,420.9 149.8,420.0 150.4,418.2 151.1,417.4 152.0,417.7 152.9,419.1"/></defs><defs><polyline id="p72" points="153.7,419.5 154.9,419.1 156.3,419.5 157.8,418.8 158.9,418.3 160.2,416.8 161.4,416.6 162.6,416.6 164.0,415.7 165.3,415.9 166.6,414.9 167.8,415.0 169.1,414.0 170.3,413.6 171.7,413.1 173.0,412.6 174.3,412.3"/></defs><defs><polyline id="p73" points="175.5,410.6 176.8,410.5 177.7,409.2 178.6,410.9 179.4,411.4 181.1,411.4 182.9,410.6 182.9,409.0 183.3,407.6 183.4,405.9 183.2,405.3 183.4,403.7 183.6,404.4 183.5,405.8 183.6,407.9 183.7,408.7 183.9,410.6 185.4,411.9 186.8,411.2 188.0,411.4 189.5,412.4 190.6,412.3 192.0,413.3 193.1,413.1 194.6,413.7 195.7,413.1 197.8,413.1"/></defs><defs><polyline id="p74" points="199.1,412.8 200.3,411.4 201.7,411.4 202.8,410.1 204.3,410.2 206.0,411.4 207.0,412.4 208.1,413.7 209.3,414.4 210.3,415.4 211.4,415.8 212.9,416.6 214.2,417.0 215.4,417.1 216.5,417.0 218.0,417.1 219.4,417.0 220.6,417.8"/></defs><defs><polyline id="p75" points="222.3,418.3 223.5,418.4 224.9,417.8 226.3,417.3 227.4,417.4 227.9,418.3 228.6,420.0 229.4,421.5 230.0,422.2 231.1,422.3 232.6,422.9 233.8,423.2 235.1,423.4 236.4,422.8 237.7,423.4 239.0,423.5 240.3,423.4 241.7,423.2 242.9,424.3 244.1,424.8 245.1,425.7"/></defs><defs><polyline id="p76" points="246.3,426.3 247.5,426.8 248.9,426.5 250.4,426.0 252.3,426.3"/><polyline id="p77" points="250.0,426.2 251.3,426.1 252.7,425.7 253.9,425.9 255.1,426.6 256.2,426.3 257.6,426.3 258.9,427.7 260.3,427.1 261.7,426.8 262.6,427.1 263.8,427.6 265.1,427.5 266.3,427.4"/></defs><defs><polyline id="p78" points="268.0,427.8 269.7,427.9 271.4,428.8 273.0,428.7 274.9,429.5 276.1,429.1 277.4,428.8 279.0,428.4 280.9,428.3 282.5,428.5 284.3,428.3 285.7,427.8 286.9,427.4 288.1,427.7 289.8,427.8"/></defs><defs><polyline id="p79" points="291.1,428.8 292.3,429.1 293.5,430.1 294.6,430.0 296.2,430.2 298.0,430.9 299.4,431.1 300.6,432.6 301.5,433.0 302.2,434.7 303.1,435.1 304.5,435.9 305.7,436.9 307.5,436.1 309.1,436.3 310.0,435.4 310.9,434.3 312.6,433.4"/></defs><defs><polyline id="p80" points="313.8,432.9 316.0,433.4 317.5,434.8 318.6,435.1 319.9,435.6 321.1,436.9 322.3,438.1 323.7,438.1 324.4,436.7 325.4,436.0 326.7,434.5 328.0,434.3 329.5,435.0 330.6,435.1 332.0,435.3 333.1,435.7"/></defs><defs><polyline id="p81" points="334.9,435.7 336.2,435.3 337.4,436.3 338.8,437.1 340.0,436.9 341.3,437.5 342.6,437.7 344.6,438.6 345.6,437.4 346.9,436.9 348.1,437.0 349.4,436.3 350.9,436.2 352.0,436.9 353.5,437.5 354.6,437.7 355.7,438.3 357.1,438.1"/></defs><defs><polyline id="p82" points="358.9,438.2 360.2,437.7 361.7,438.0 363.1,438.7 364.7,438.3 365.9,438.1 367.4,438.7 369.1,438.6 370.9,438.4 372.5,438.4 374.3,437.7 376.2,436.8 377.7,436.9 379.4,436.5"/></defs><defs><polyline id="p83" points="381.1,438.6 382.3,439.0 383.7,440.3 385.0,440.4 386.3,440.8 387.9,440.6 389.7,440.3 391.0,440.0 391.9,439.5 393.1,439.1"/><polyline id="p84" points="393.4,439.4 394.6,439.0 395.6,438.3 396.9,438.1 398.5,437.8 400.3,437.4 401.8,437.3 402.9,437.4"/></defs><defs><polyline id="p85" points="404.1,437.4 405.5,436.3 407.1,436.3 408.3,435.4 409.7,435.1 410.6,434.0 411.4,432.6 413.1,431.7 414.4,431.7 415.7,430.9 416.5,429.5 417.0,428.6 417.4,427.4 417.8,428.1 418.3,430.0 418.8,430.9 420.9,431.7 422.1,432.4 423.4,432.6 425.1,432.2"/></defs><defs><polyline id="p86" points="426.3,432.2 428.6,431.7 429.5,429.8 430.3,429.1 430.5,428.1 431.0,426.0 431.2,425.0 431.5,424.0 432.2,422.3 432.5,420.6 433.1,422.4 433.3,423.2 433.7,424.9 434.5,425.4 435.4,426.6 437.1,425.7 437.6,425.3 438.4,423.6 438.9,422.3 440.6,421.4 441.3,423.3 442.3,424.0 443.2,425.0 444.0,425.7 445.7,425.7 446.9,426.1 448.3,425.4"/></defs><defs><polyline id="p87" points="449.1,425.4 450.2,425.1 451.7,425.0 453.4,425.6 455.1,424.9 456.9,425.2 458.6,425.4 460.3,425.9 462.0,426.1 463.5,427.0 465.4,426.9 467.3,426.9 468.9,427.1 470.1,426.9 471.4,426.7"/></defs><defs><polyline id="p88" points="472.3,426.6 474.0,427.0 475.7,426.6 477.5,426.6 479.1,427.1 480.3,428.3 481.7,428.3 482.7,429.8 483.9,430.5 485.0,431.0 486.0,432.2 487.6,431.9 489.4,432.6 491.2,432.8 492.9,432.9"/></defs><defs><polyline id="p89" points="494.6,433.4 496.1,433.8 498.0,433.9 499.1,434.3 500.6,433.4 502.0,432.6 503.1,432.6 504.5,433.2 505.7,433.9 506.9,435.1 508.3,436.0 509.3,437.1 510.2,437.9 510.9,438.6 512.3,438.9 513.4,440.3 514.8,440.2 516.5,441.1"/></defs><defs><polyline id="p90" points="517.7,441.1 519.4,440.3 520.4,440.0 521.1,438.6 522.9,439.8 524.0,440.2 525.4,440.8 526.9,440.8 528.0,440.3 529.2,440.5 530.6,439.4"/><polyline id="p91" points="530.0,440.0 531.8,439.1 533.4,439.5 534.9,439.9 536.3,440.3 537.7,440.5"/></defs><defs><polyline id="p92" points="539.4,440.5 541.0,441.1 542.1,441.5 543.7,441.2 545.1,441.8 546.5,441.5 548.0,441.9 549.7,442.9 551.4,442.6 553.3,443.3 554.9,443.4 556.5,442.9 558.3,442.6 559.6,442.8 561.2,442.6 562.6,442.1"/></defs><defs><polyline id="p93" points="564.3,441.2 565.5,440.8 566.9,441.7 567.9,441.8 569.1,442.3 570.3,442.9 571.7,443.6 573.0,443.0 574.6,443.4 575.9,443.1 577.2,443.8 578.4,443.7 579.7,443.4 580.9,443.3 582.4,442.9 583.6,443.4 584.9,443.4"/></defs><defs><polyline id="p94" points="586.6,442.6 587.5,440.9 588.3,440.0 589.6,439.2 590.9,438.3 592.6,439.1 593.5,440.8 594.2,441.5 594.8,442.6 596.2,443.7 597.7,443.9 599.0,444.3 600.3,445.1 601.5,446.5 602.9,446.9 604.4,447.6 606.3,447.4"/></defs><defs><polyline id="p95" points="608.0,446.9 609.4,446.4 610.6,445.1 611.5,444.3 612.3,442.6 613.7,440.9 614.1,442.2 614.9,443.4 615.5,444.3 616.2,445.2 616.6,446.9 617.4,445.1 618.3,444.3 619.2,443.8 619.9,443.1 620.9,441.7 622.1,441.8 623.4,440.9 624.7,441.0 626.0,440.5 628.1,441.7 628.4,442.7 628.9,444.6 629.4,445.1 630.8,446.3"/></defs><defs><polyline id="p96" points="632.0,446.9 633.6,447.5 635.4,447.4 637.2,447.7 638.9,446.9 640.1,445.7 641.1,444.3 641.9,443.6 643.1,441.7 645.0,441.5 646.6,440.9 648.2,440.6 650.0,441.7 651.3,442.7 652.6,442.6"/></defs><defs><polyline id="p97" points="653.8,443.4 656.0,444.3 656.0,445.1 656.1,447.4 656.4,448.8 656.4,449.5 656.5,450.8 656.5,452.0 656.6,451.1 656.6,449.7 656.9,448.3 657.2,446.1 657.2,445.1 659.4,444.3 659.7,446.0 660.1,447.0 660.6,448.0 661.1,449.4 661.4,448.7 661.7,446.7 661.9,445.8 662.0,444.3 662.9,443.9"/><polyline id="p98" points="660.0,443.6 660.6,445.0 660.8,446.7 661.5,447.5 662.1,448.7 662.6,447.9 663.0,445.9 663.4,444.4 665.2,443.8 666.9,443.6 668.4,444.5 670.3,444.4 671.9,443.9 673.7,444.4 674.8,445.2 676.3,445.3"/></defs><defs><polyline id="p99" points="677.1,445.6 678.6,446.1 680.0,446.2 681.4,446.1 683.0,445.6 684.2,446.2 685.7,446.7 687.4,446.2 689.1,447.0 689.9,447.9 690.3,448.7 690.9,450.4 691.2,451.9 691.4,452.4 691.9,454.6 692.2,455.6 692.4,454.3 692.6,453.0 693.3,451.2 693.4,450.4 693.9,449.1 694.1,447.3 694.8,446.4 695.1,445.3 695.8,443.7 696.3,442.7 696.5,443.5 696.9,445.7 697.1,446.0 697.0,448.2 697.4,448.7 697.7,449.8 697.8,451.4 698.1,452.6 697.9,453.5 698.0,455.3 698.5,455.5 698.6,457.3"/></defs><defs><polyline id="p100" points="698.6,458.1 699.1,459.7 699.7,460.5 700.3,461.6 700.5,460.1 700.9,459.1 701.4,457.0 702.0,455.8 702.5,454.3 702.9,453.8 703.1,452.4 703.8,451.9 704.7,450.5 705.2,448.4 706.0,447.9 707.0,447.0 707.7,446.0 708.6,444.9 709.4,444.4 710.7,443.6 711.8,442.4 712.9,441.6 714.1,440.7 715.0,440.1 716.2,439.4 717.4,439.3 719.1,438.8 720.9,438.5 722.6,439.3"/></defs><defs><polyline id="p101" points="721.4,445.6 721.4,446.2 721.8,448.4 721.8,449.2 722.1,450.9 722.2,452.8 722.6,453.6 723.0,455.4 723.7,456.4 724.4,455.6 724.9,453.7 725.4,452.4 725.9,450.9 726.4,449.6 726.7,448.9 727.1,447.9 727.7,446.6 728.0,445.8 728.3,445.1 728.9,443.3 729.8,442.0 730.6,441.6 731.2,442.6 731.7,444.4 732.0,446.5 732.6,447.1 732.9,449.0 733.3,448.5 734.0,446.7 734.9,445.5 735.7,444.4 737.4,445.0 738.0,446.0 738.6,447.9 739.2,449.6 739.6,449.8 740.3,451.3 741.2,450.1 742.0,448.4 743.5,447.3"/></defs><defs><polyline id="p102" points="744.9,447.3 745.8,448.3 746.6,449.0 747.7,450.3 748.9,450.7 750.1,451.1 751.1,452.4 751.8,453.0 752.8,454.0 753.4,455.3 753.7,456.2 753.6,457.6 753.7,459.6 754.0,460.4 754.4,461.4 754.7,463.3 755.1,464.4 756.2,463.2 756.9,461.6 757.7,460.2 758.6,459.9 760.9,459.3 763.1,459.3 763.6,461.3 764.0,462.1 764.3,463.9 764.4,465.0 765.1,467.2 765.2,468.4 765.5,470.1 765.3,471.4 765.6,472.8 765.7,474.1 765.9,475.3 765.8,477.7 766.0,478.7"/></defs>
<g stroke="#000" stroke-width="5.2"><use href="#p70" y="-0.85"/><use href="#p70" y="0.85"/></g><g stroke="#000" stroke-width="5.2"><use href="#p71" y="-0.85"/><use href="#p71" y="0.85"/></g><g stroke="#000" stroke-width="5.2"><use href="#p72" y="-0.85"/><use href="#p72" y="0.85"/></g><g stroke="#000" stroke-width="5.2"><use href="#p73" y="-0.85"/><use href="#p73" y="0.85"/></g><g stroke="#000" stroke-width="5.2"><use href="#p74" y="-0.85"/><use href="#p74" y="0.85"/></g><g stroke="#000" stroke-width="5.2"><use href="#p75" y="-0.85"/><use href="#p75" y="0.85"/></g><g stroke="#000" stroke-width="5.2"><use href="#p76" y="-0.85"/><use href="#p76" y="0.85"/><use href="#p77" y="-0.85"/><use href="#p77" y="0.85"/></g><g stroke="#000" stroke-width="5.2"><use href="#p78" y="-0.85"/><use href="#p78" y="0.85"/></g><g stroke="#000" stroke-width="5.2"><use href="#p79" y="-0.85"/><use href="#p79" y="0.85"/></g><g stroke="#000" stroke-width="5.2"><use href="#p80" y="-0.85"/><use href="#p80" y="0.85"/></g><g stroke="#000" stroke-width="5.2"><use href="#p81" y="-0.85"/><use href="#p81" y="0.85"/></g><g stroke="#000" stroke-width="5.2"><use href="#p82" y="-0.85"/><use href="#p82" y="0.85"/></g><g stroke="#000" stroke-width="5.2"><use href="#p83" y="-0.85"/><use href="#p83" y="0.85"/><use href="#p84" y="-0.85"/><use href="#p84" y="0.85"/></g><g stroke="#000" stroke-width="5.2"><use href="#p85" y="-0.85"/><use href="#p85" y="0.85"/></g><g stroke="#000" stroke-width="5.2"><use href="#p86" y="-0.85"/><use href="#p86" y="0.85"/></g><g stroke="#000" stroke-width="5.2"><use href="#p87" y="-0.85"/><use href="#p87" y="0.85"/></g><g stroke="#000" stroke-width="5.2"><use href="#p88" y="-0.85"/><use href="#p88" y="0.85"/></g><g stroke="#000" stroke-width="5.2"><use href="#p89" y="-0.85"/><use href="#p89" y="0.85"/></g><g stroke="#000" stroke-width="5.2"><use href="#p90" y="-0.85"/><use href="#p90" y="0.85"/><use href="#p91" y="-0.85"/><use href="#p91" y="0.85"/></g><g stroke="#000" stroke-width="5.2"><use href="#p92" y="-0.85"/><use href="#p92" y="0.85"/></g><g stroke="#000" stroke-width="5.2"><use href="#p93" y="-0.85"/><use href="#p93" y="0.85"/></g><g stroke="#000" stroke-width="5.2"><use href="#p94" y="-0.85"/><use href="#p94" y="0.85"/></g><g stroke="#000" stroke-width="5.2"><use href="#p95" y="-0.85"/><use href="#p95" y="0.85"/></g><g stroke="#000" stroke-width="5.2"><use href="#p96" y="-0.85"/><use href="#p96" y="0.85"/></g><g stroke="#000" stroke-width="5.2"><use href="#p97" y="-0.85"/><use href="#p97" y="0.85"/><use href="#p98" y="-0.85"/><use href="#p98" y="0.85"/></g><g stroke="#000" stroke-width="5.2"><use href="#p99" y="-1.9"/><use href="#p99" y="0"/><use href="#p99" y="1.9"/></g><g stroke="#000" stroke-width="5.2"><use href="#p100" y="-1.9"/><use href="#p100" y="0"/><use href="#p100" y="1.9"/></g><g stroke="#000" stroke-width="5.2"><use href="#p101" y="-1.9"/><use href="#p101" y="0"/><use href="#p101" y="1.9"/></g><g stroke="#000" stroke-width="5.2"><use href="#p102" y="-1.9"/><use href="#p102" y="0"/><use href="#p102" y="1.9"/></g>
<g stroke="#00ffff" stroke-width="3.3"><use href="#p70" y="-0.85"/><use href="#p70" y="0.85"/></g>
<g stroke="#32cd32" stroke-width="3.3"><use href="#p71" y="-0.85"/><use href="#p71" y="0.85"/></g>
<g stroke="#00ff00" stroke-width="3.3"><use href="#p72" y="-0.85"/><use href="#p72" y="0.85"/></g>
<g stroke="#ffff00" stroke-width="3.3"><use href="#p73" y="-0.85"/><use href="#p73" y="0.85"/></g>
<g stroke="#ff8c00" stroke-width="3.3"><use href="#p74" y="-0.85"/><use href="#p74" y="0.85"/></g>
<g stroke="#ff4500" stroke-width="3.3"><use href="#p75" y="-0.85"/><use href="#p75" y="0.85"/></g>
<g stroke="#ff0000" stroke-width="3.3"><use href="#p76" y="-0.85"/><use href="#p76" y="0.85"/><use href="#p77" y="-0.85"/><use href="#p77" y="0.85"/></g>
<g stroke="#8b4513" stroke-width="3.3"><use href="#p78" y="-0.85"/><use href="#p78" y="0.85"/></g>
<g stroke="#000000" stroke-width="3.3"><use href="#p79" y="-0.85"/><use href="#p79" y="0.85"/></g>
<g stroke="#483d8b" stroke-width="3.3"><use href="#p80" y="-0.85"/><use href="#p80" y="0.85"/></g>
<g stroke="#0000ff" stroke-width="3.3"><use href="#p81" y="-0.85"/><use href="#p81" y="0.85"/></g>
<g stroke="#00bfff" stroke-width="3.3"><use href="#p82" y="-0.85"/><use href="#p82" y="0.85"/></g>
<g stroke="#00ffff" stroke-width="3.3"><use href="#p83" y="-0.85"/><use href="#p83" y="0.85"/><use href="#p84" y="-0.85"/><use href="#p84" y="0.85"/></g>
<g stroke="#32cd32" stroke-width="3.3"><use href="#p85" y="-0.85"/><use href="#p85" y="0.85"/></g>
<g stroke="#00ff00" stroke-width="3.3"><use href="#p86" y="-0.85"/><use href="#p86" y="0.85"/></g>
<g stroke="#ffff00" stroke-width="3.3"><use href="#p87" y="-0.85"/><use href="#p87" y="0.85"/></g>
<g stroke="#ff8c00" stroke-width="3.3"><use href="#p88" y="-0.85"/><use href="#p88" y="0.85"/></g>
<g stroke="#ff4500" stroke-width="3.3"><use href="#p89" y="-0.85"/><use href="#p89" y="0.85"/></g>
<g stroke="#ff0000" stroke-width="3.3"><use href="#p90" y="-0.85"/><use href="#p90" y="0.85"/><use href="#p91" y="-0.85"/><use href="#p91" y="0.85"/></g>
<g stroke="#8b4513" stroke-width="3.3"><use href="#p92" y="-0.85"/><use href="#p92" y="0.85"/></g>
<g stroke="#000000" stroke-width="3.3"><use href="#p93" y="-0.85"/><use href="#p93" y="0.85"/></g>
<g stroke="#483d8b" stroke-width="3.3"><use href="#p94" y="-0.85"/><use href="#p94" y="0.85"/></g>
<g stroke="#0000ff" stroke-width="3.3"><use href="#p95" y="-0.85"/><use href="#p95" y="0.85"/></g>
<g stroke="#00bfff" stroke-width="3.3"><use href="#p96" y="-0.85"/><use href="#p96" y="0.85"/></g>
<g stroke="#00ffff" stroke-width="3.3"><use href="#p97" y="-0.85"/><use href="#p97" y="0.85"/><use href="#p98" y="-0.85"/><use href="#p98" y="0.85"/></g>
<g stroke="#32cd32" stroke-width="3.3"><use href="#p99" y="-1.9"/><use href="#p99" y="0"/><use href="#p99" y="1.9"/></g>
<g stroke="#00ff00" stroke-width="3.3"><use href="#p100" y="-1.9"/><use href="#p100" y="0"/><use href="#p100" y="1.9"/></g>
<g stroke="#ffff00" stroke-width="3.3"><use href="#p101" y="-1.9"/><use href="#p101" y="0"/><use href="#p101" y="1.9"/></g>
<g stroke="#ff8c00" stroke-width="3.3"><use href="#p102" y="-1.9"/><use href="#p102" y="0"/><use href="#p102" y="1.9"/></g>

<circle cx="765.8" cy="380.0" r="2.45" fill="#000"/><circle cx="765.8" cy="380.0" r="1.8" fill="#ff8c00"/>
<circle cx="767.0" cy="381.5" r="2.45" fill="#000"/><circle cx="767.0" cy="381.5" r="1.8" fill="#ff8c00"/>
<circle cx="767.4" cy="382.9" r="2.45" fill="#000"/><circle cx="767.4" cy="382.9" r="1.8" fill="#ff8c00"/>
<circle cx="767.8" cy="384.6" r="2.45" fill="#000"/><circle cx="767.8" cy="384.6" r="1.8" fill="#ff8c00"/>
<circle cx="767.9" cy="386.0" r="2.45" fill="#000"/><circle cx="767.9" cy="386.0" r="1.8" fill="#ff8c00"/>
<circle cx="764.9" cy="387.3" r="2.45" fill="#000"/><circle cx="764.9" cy="387.3" r="1.8" fill="#ff8c00"/>
<circle cx="766.9" cy="389.1" r="2.45" fill="#000"/><circle cx="766.9" cy="389.1" r="1.8" fill="#ff8c00"/>
<circle cx="767.2" cy="391.6" r="2.45" fill="#000"/><circle cx="767.2" cy="391.6" r="1.8" fill="#ff8c00"/>
<circle cx="766.5" cy="393.9" r="2.45" fill="#000"/><circle cx="766.5" cy="393.9" r="1.8" fill="#ff8c00"/>
<circle cx="765.3" cy="396.2" r="2.45" fill="#000"/><circle cx="765.3" cy="396.2" r="1.8" fill="#ff8c00"/>
<circle cx="766.4" cy="397.7" r="2.45" fill="#000"/><circle cx="766.4" cy="397.7" r="1.8" fill="#ff8c00"/>
<circle cx="764.9" cy="399.6" r="2.45" fill="#000"/><circle cx="764.9" cy="399.6" r="1.8" fill="#ff8c00"/>
<circle cx="768.2" cy="401.2" r="2.45" fill="#000"/><circle cx="768.2" cy="401.2" r="1.8" fill="#ff8c00"/>
<circle cx="767.9" cy="402.7" r="2.45" fill="#000"/><circle cx="767.9" cy="402.7" r="1.8" fill="#ff8c00"/>
<circle cx="766.7" cy="404.0" r="2.45" fill="#000"/><circle cx="766.7" cy="404.0" r="1.8" fill="#ff8c00"/>
<circle cx="765.7" cy="405.5" r="2.45" fill="#000"/><circle cx="765.7" cy="405.5" r="1.8" fill="#ff8c00"/>
<circle cx="768.1" cy="408.0" r="2.45" fill="#000"/><circle cx="768.1" cy="408.0" r="1.8" fill="#ff8c00"/>
<circle cx="766.8" cy="410.4" r="2.45" fill="#000"/><circle cx="766.8" cy="410.4" r="1.8" fill="#ff8c00"/>
<circle cx="768.0" cy="412.7" r="2.45" fill="#000"/><circle cx="768.0" cy="412.7" r="1.8" fill="#ff8c00"/>
<circle cx="767.8" cy="415.0" r="2.45" fill="#000"/><circle cx="767.8" cy="415.0" r="1.8" fill="#ff8c00"/>
<circle cx="766.5" cy="419.5" r="2.45" fill="#000"/><circle cx="766.5" cy="419.5" r="1.8" fill="#ff8c00"/>
<circle cx="765.4" cy="422.0" r="2.45" fill="#000"/><circle cx="765.4" cy="422.0" r="1.8" fill="#ff8c00"/>
<circle cx="766.1" cy="424.5" r="2.45" fill="#000"/><circle cx="766.1" cy="424.5" r="1.8" fill="#ff8c00"/>
<circle cx="765.4" cy="427.5" r="2.45" fill="#000"/><circle cx="765.4" cy="427.5" r="1.8" fill="#ff8c00"/>
<circle cx="764.4" cy="430.0" r="2.45" fill="#000"/><circle cx="764.4" cy="430.0" r="1.8" fill="#ff8c00"/>
<circle cx="765.0" cy="433.0" r="2.45" fill="#000"/><circle cx="765.0" cy="433.0" r="1.8" fill="#ff8c00"/>
<circle cx="766.9" cy="436.0" r="2.45" fill="#000"/><circle cx="766.9" cy="436.0" r="1.8" fill="#ff8c00"/>
<circle cx="764.0" cy="442.0" r="2.45" fill="#000"/><circle cx="764.0" cy="442.0" r="1.8" fill="#ff8c00"/>
<circle cx="764.0" cy="445.0" r="2.45" fill="#000"/><circle cx="764.0" cy="445.0" r="1.8" fill="#ff8c00"/>
<circle cx="766.2" cy="448.0" r="2.45" fill="#000"/><circle cx="766.2" cy="448.0" r="1.8" fill="#ff8c00"/>
<circle cx="764.9" cy="451.0" r="2.45" fill="#000"/><circle cx="764.9" cy="451.0" r="1.8" fill="#ff8c00"/>
<circle cx="765.8" cy="455.0" r="2.45" fill="#000"/><circle cx="765.8" cy="455.0" r="1.8" fill="#ff8c00"/>
<circle cx="765.6" cy="458.0" r="2.45" fill="#000"/><circle cx="765.6" cy="458.0" r="1.8" fill="#ff8c00"/>
<circle cx="765.1" cy="462.0" r="2.45" fill="#000"/><circle cx="765.1" cy="462.0" r="1.8" fill="#ff8c00"/>
<circle cx="767.6" cy="466.0" r="2.45" fill="#000"/><circle cx="767.6" cy="466.0" r="1.8" fill="#ff8c00"/>
<circle cx="764.5" cy="470.0" r="2.45" fill="#000"/><circle cx="764.5" cy="470.0" r="1.8" fill="#ff8c00"/>
<circle cx="765.4" cy="474.0" r="2.45" fill="#000"/><circle cx="765.4" cy="474.0" r="1.8" fill="#ff8c00"/>
<circle cx="764.6" cy="478.0" r="2.45" fill="#000"/><circle cx="764.6" cy="478.0" r="1.8" fill="#ff8c00"/>
<polyline points="766.5,481.3 778.3,481.3" stroke="#000" stroke-width="4.6"/><polyline points="766.5,481.3 778.3,481.3" stroke="#ff4500" stroke-width="3.3"/>
<circle cx="775.2" cy="390.4" r="2.45" fill="#000"/><circle cx="775.2" cy="390.4" r="1.8" fill="#ff4500"/>
<circle cx="773.1" cy="393.0" r="2.45" fill="#000"/><circle cx="773.1" cy="393.0" r="1.8" fill="#ff4500"/>
<circle cx="773.4" cy="440.1" r="2.45" fill="#000"/><circle cx="773.4" cy="440.1" r="1.8" fill="#ff4500"/>
<circle cx="823.4" cy="441.3" r="2.45" fill="#000"/><circle cx="823.4" cy="441.3" r="1.8" fill="#8b4513"/>
</g>
<path d="M105.5 617.5v5.3M127.5 617.5v5.3M151.5 617.5v5.3M173.5 617.5v5.3M196.5 617.5v5.3M219.5 617.5v5.3M242.5 617.5v5.3M265.5 617.5v5.3M287.5 617.5v5.3M310.5 617.5v5.3M333.5 617.5v5.3M354.5 617.5v5.3M378.5 617.5v5.3M400.5 617.5v5.3M423.5 617.5v5.3M445.5 617.5v5.3M469.5 617.5v5.3M492.5 617.5v5.3M514.5 617.5v5.3M537.5 617.5v5.3M560.5 617.5v5.3M583.5 617.5v5.3M606.5 617.5v5.3M628.5 617.5v5.3M651.5 617.5v5.3M673.5 617.5v5.3M696.5 617.5v5.3M719.5 617.5v5.3M742.5 617.5v5.3M765.5 617.5v5.3M787.5 617.5v5.3M811.5 617.5v5.3M833.5 617.5v5.3M856.5 617.5v5.3M83.5 383.5h-5.3M83.5 422.5h-5.3M83.5 461.5h-5.3M83.5 500.5h-5.3M83.5 539.5h-5.3M83.5 578.5h-5.3M83.5 617.5h-5.3" stroke="#000" stroke-width="1.11" fill="none"/>
<rect x="83.5" y="383.5" width="775.0" height="234.0" fill="none" stroke="#000" stroke-width="1.11"/>
<text class="xt" text-anchor="end" transform="translate(112.40,629.70) rotate(-85)">04/28/18</text>
<text class="xt" text-anchor="end" transform="translate(134.40,629.70) rotate(-85)">05/28/18</text>
<text class="xt" text-anchor="end" transform="translate(158.40,629.70) rotate(-85)">06/28/18</text>
<text class="xt" text-anchor="end" transform="translate(180.40,629.70) rotate(-85)">07/28/18</text>
<text class="xt" text-anchor="end" transform="translate(203.40,629.70) rotate(-85)">08/28/18</text>
<text class="xt" text-anchor="end" transform="translate(226.40,629.70) rotate(-85)">09/28/18</text>
<text class="xt" text-anchor="end" transform="translate(249.40,629.70) rotate(-85)">10/28/18</text>
<text class="xt" text-anchor="end" transform="translate(272.40,629.70) rotate(-85)">11/28/18</text>
<text class="xt" text-anchor="end" transform="translate(294.40,629.70) rotate(-85)">12/28/18</text>
<text class="xt" text-anchor="end" transform="translate(317.40,629.70) rotate(-85)">01/28/19</text>
<text class="xt" text-anchor="end" transform="translate(340.40,629.70) rotate(-85)">02/28/19</text>
<text class="xt" text-anchor="end" transform="translate(361.40,629.70) rotate(-85)">03/28/19</text>
<text class="xt" text-anchor="end" transform="translate(385.40,629.70) rotate(-85)">04/28/19</text>
<text class="xt" text-anchor="end" transform="translate(407.40,629.70) rotate(-85)">05/28/19</text>
<text class="xt" text-anchor="end" transform="translate(430.40,629.70) rotate(-85)">06/28/19</text>
<text class="xt" text-anchor="end" transform="translate(452.40,629.70) rotate(-85)">07/28/19</text>
<text class="xt" text-anchor="end" transform="translate(476.40,629.70) rotate(-85)">08/28/19</text>
<text class="xt" text-anchor="end" transform="translate(499.40,629.70) rotate(-85)">09/28/19</text>
<text class="xt" text-anchor="end" transform="translate(521.40,629.70) rotate(-85)">10/28/19</text>
<text class="xt" text-anchor="end" transform="translate(544.40,629.70) rotate(-85)">11/28/19</text>
<text class="xt" text-anchor="end" transform="translate(567.40,629.70) rotate(-85)">12/28/19</text>
<text class="xt" text-anchor="end" transform="translate(590.40,629.70) rotate(-85)">01/28/20</text>
<text class="xt" text-anchor="end" transform="translate(613.40,629.70) rotate(-85)">02/28/20</text>
<text class="xt" text-anchor="end" transform="translate(635.40,629.70) rotate(-85)">03/28/20</text>
<text class="xt" text-anchor="end" transform="translate(658.40,629.70) rotate(-85)">04/28/20</text>
<text class="xt" text-anchor="end" transform="translate(680.40,629.70) rotate(-85)">05/28/20</text>
<text class="xt" text-anchor="end" transform="translate(703.40,629.70) rotate(-85)">06/28/20</text>
<text class="xt" text-anchor="end" transform="translate(726.40,629.70) rotate(-85)">07/28/20</text>
<text class="xt" text-anchor="end" transform="translate(749.40,629.70) rotate(-85)">08/28/20</text>
<text class="xt" text-anchor="end" transform="translate(772.40,629.70) rotate(-85)">09/28/20</text>
<text class="xt" text-anchor="end" transform="translate(794.40,629.70) rotate(-85)">10/28/20</text>
<text class="xt" text-anchor="end" transform="translate(818.40,629.70) rotate(-85)">11/28/20</text>
<text class="xt" text-anchor="end" transform="translate(840.40,629.70) rotate(-85)">12/28/20</text>
<text class="xt" text-anchor="end" transform="translate(863.40,629.70) rotate(-85)">01/28/21</text>
<text class="yt" text-anchor="end" x="72.40" y="388.70">20</text>
<text class="yt" text-anchor="end" x="72.40" y="427.70">10</text>
<text class="yt" text-anchor="end" x="72.40" y="466.70">0</text>
<text class="yt" text-anchor="end" x="72.40" y="505.70">−10</text>
<text class="yt" text-anchor="end" x="72.40" y="544.70">−20</text>
<text class="yt" text-anchor="end" x="72.40" y="583.70">−30</text>
<text class="yt" text-anchor="end" x="72.40" y="622.70">−40</text>
<text class="yl" text-anchor="middle" transform="translate(28.30,502.05) rotate(-90)">Surface Temperature</text>
<text class="tt" style="font-size:20.1px" text-anchor="middle" x="470.60" y="374.90" xml:space="preserve">Surface Temperature 300234063357050  05/15/2018 to 12/14/2020</text>
</svg>
</body></html>
